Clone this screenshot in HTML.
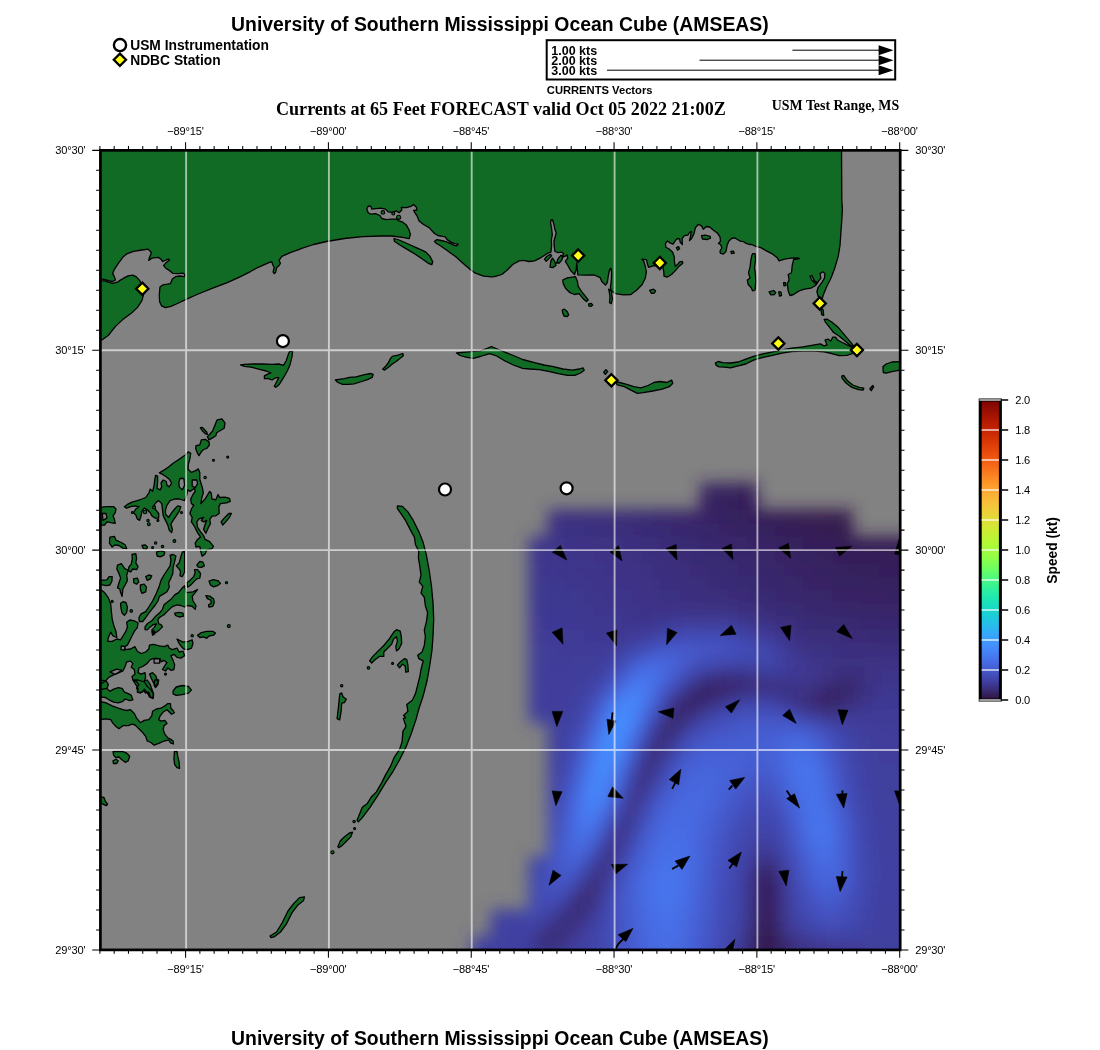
<!DOCTYPE html>
<html><head><meta charset="utf-8"><title>USM Ocean Cube</title>
<style>html,body{margin:0;padding:0;background:#fff}body{width:1100px;height:1050px;overflow:hidden;font-family:"Liberation Sans",sans-serif}svg{display:block;will-change:transform}text{font-family:"Liberation Sans",sans-serif;fill:#000}.sb{font-family:"Liberation Serif",serif;font-weight:bold}.b{font-weight:bold}</style></head><body>
<svg width="1100" height="1050" viewBox="0 0 1100 1050">
<defs><clipPath id="mapclip"><rect x="100.4" y="150.3" width="799.8" height="799.5"/></clipPath>
<filter id="blur" x="-10%" y="-10%" width="120%" height="120%"><feGaussianBlur stdDeviation="8"/></filter>
<linearGradient id="turbo" x1="0" y1="1" x2="0" y2="0">
<stop offset="0.0" stop-color="#30123b"/>
<stop offset="0.03125" stop-color="#392a73"/>
<stop offset="0.0625" stop-color="#4040a2"/>
<stop offset="0.09375" stop-color="#4456c7"/>
<stop offset="0.125" stop-color="#466be3"/>
<stop offset="0.15625" stop-color="#4680f6"/>
<stop offset="0.1875" stop-color="#4294ff"/>
<stop offset="0.21875" stop-color="#37a8fa"/>
<stop offset="0.25" stop-color="#28bceb"/>
<stop offset="0.28125" stop-color="#1ccdd8"/>
<stop offset="0.3125" stop-color="#18ddc2"/>
<stop offset="0.34375" stop-color="#1fe9af"/>
<stop offset="0.375" stop-color="#32f298"/>
<stop offset="0.40625" stop-color="#4ef97d"/>
<stop offset="0.4375" stop-color="#6dfe62"/>
<stop offset="0.46875" stop-color="#8bff4b"/>
<stop offset="0.5" stop-color="#a4fc3c"/>
<stop offset="0.53125" stop-color="#b7f735"/>
<stop offset="0.5625" stop-color="#cbed34"/>
<stop offset="0.59375" stop-color="#dde037"/>
<stop offset="0.625" stop-color="#ecd13a"/>
<stop offset="0.65625" stop-color="#f7c13a"/>
<stop offset="0.6875" stop-color="#fdae35"/>
<stop offset="0.71875" stop-color="#fe992c"/>
<stop offset="0.75" stop-color="#fb8122"/>
<stop offset="0.78125" stop-color="#f56918"/>
<stop offset="0.8125" stop-color="#ec530f"/>
<stop offset="0.84375" stop-color="#e14109"/>
<stop offset="0.875" stop-color="#d23105"/>
<stop offset="0.90625" stop-color="#c12302"/>
<stop offset="0.9375" stop-color="#ac1701"/>
<stop offset="0.96875" stop-color="#950d01"/>
<stop offset="1.0" stop-color="#7a0403"/>
</linearGradient></defs>
<text class="b" x="499.9" y="30.7" font-size="19.4" text-anchor="middle">University of Southern Mississippi Ocean Cube (AMSEAS)</text>
<text class="b" x="499.9" y="1045.3" font-size="19.4" text-anchor="middle">University of Southern Mississippi Ocean Cube (AMSEAS)</text>
<circle cx="120" cy="45.1" r="6.1" fill="#fff" stroke="#000" stroke-width="2.4"/>
<path d="M119.9 53.6 L126 59.7 L119.9 65.8 L113.8 59.7Z" fill="#ffff14" stroke="#000" stroke-width="2.3"/>
<text class="b" x="130.2" y="50.3" font-size="13.8">USM Instrumentation</text>
<text class="b" x="130.2" y="65.2" font-size="13.8">NDBC Station</text>
<rect x="546.7" y="40.2" width="348.5" height="39.3" fill="#fff" stroke="#000" stroke-width="2"/>
<text class="b" x="551.3" y="55.4" font-size="12.5">1.00 kts</text>
<path d="M792.4 50.2 H880" stroke="#000" stroke-width="1" fill="none"/>
<path d="M878.6 45.2 L893.5 50.2 L878.6 55.2Z" fill="#000"/>
<text class="b" x="551.3" y="65.4" font-size="12.5">2.00 kts</text>
<path d="M699.5 60.2 H880" stroke="#000" stroke-width="1" fill="none"/>
<path d="M878.6 55.2 L893.5 60.2 L878.6 65.2Z" fill="#000"/>
<text class="b" x="551.3" y="75.4" font-size="12.5">3.00 kts</text>
<path d="M607.0 70.2 H880" stroke="#000" stroke-width="1" fill="none"/>
<path d="M878.6 65.2 L893.5 70.2 L878.6 75.2Z" fill="#000"/>
<text class="b" x="546.8" y="93.9" font-size="11.2">CURRENTS Vectors</text>
<text class="sb" x="276.0" y="114.9" font-size="18.08">Currents at 65 Feet FORECAST valid Oct 05 2022 21:00Z</text>
<text class="sb" x="771.8" y="109.8" font-size="13.9">USM Test Range, MS</text>
<g clip-path="url(#mapclip)">
<rect x="100.4" y="150.35" width="799.8000000000001" height="799.55" fill="#828282"/>
<!--FIELD-->
<g filter="url(#blur)"><rect x="700.0" y="483.2" width="10.1" height="13.9" fill="#362262"/><rect x="709.5" y="483.2" width="10.1" height="13.9" fill="#362160"/><rect x="719.0" y="483.2" width="10.1" height="13.9" fill="#36215e"/><rect x="728.5" y="483.2" width="10.1" height="13.9" fill="#36205c"/><rect x="738.0" y="483.2" width="10.1" height="13.9" fill="#351f5a"/><rect x="747.6" y="483.2" width="10.1" height="13.9" fill="#351e58"/><rect x="700.0" y="496.5" width="10.1" height="13.9" fill="#372363"/><rect x="709.5" y="496.5" width="10.1" height="13.9" fill="#362261"/><rect x="719.0" y="496.5" width="10.1" height="13.9" fill="#36215f"/><rect x="728.5" y="496.5" width="10.1" height="13.9" fill="#36205d"/><rect x="738.0" y="496.5" width="10.1" height="13.9" fill="#351f5b"/><rect x="747.6" y="496.5" width="10.1" height="13.9" fill="#351e59"/><rect x="547.6" y="509.8" width="10.1" height="13.9" fill="#3b2f81"/><rect x="557.1" y="509.8" width="10.1" height="13.9" fill="#3b2f80"/><rect x="566.7" y="509.8" width="10.1" height="13.9" fill="#3b2f7f"/><rect x="576.2" y="509.8" width="10.1" height="13.9" fill="#3b2e7e"/><rect x="585.7" y="509.8" width="10.1" height="13.9" fill="#3a2e7c"/><rect x="595.2" y="509.8" width="10.1" height="13.9" fill="#3a2d7b"/><rect x="604.7" y="509.8" width="10.1" height="13.9" fill="#3a2d79"/><rect x="614.3" y="509.8" width="10.1" height="13.9" fill="#3a2c77"/><rect x="623.8" y="509.8" width="10.1" height="13.9" fill="#392b76"/><rect x="633.3" y="509.8" width="10.1" height="13.9" fill="#392a74"/><rect x="642.8" y="509.8" width="10.1" height="13.9" fill="#392972"/><rect x="652.3" y="509.8" width="10.1" height="13.9" fill="#382870"/><rect x="661.9" y="509.8" width="10.1" height="13.9" fill="#38276e"/><rect x="671.4" y="509.8" width="10.1" height="13.9" fill="#38266c"/><rect x="680.9" y="509.8" width="10.1" height="13.9" fill="#372569"/><rect x="690.4" y="509.8" width="10.1" height="13.9" fill="#372467"/><rect x="700.0" y="509.8" width="10.1" height="13.9" fill="#372465"/><rect x="709.5" y="509.8" width="10.1" height="13.9" fill="#372363"/><rect x="719.0" y="509.8" width="10.1" height="13.9" fill="#362261"/><rect x="728.5" y="509.8" width="10.1" height="13.9" fill="#36215f"/><rect x="738.0" y="509.8" width="10.1" height="13.9" fill="#36205d"/><rect x="747.6" y="509.8" width="10.1" height="13.9" fill="#351f5b"/><rect x="757.1" y="509.8" width="10.1" height="13.9" fill="#351f59"/><rect x="766.6" y="509.8" width="10.1" height="13.9" fill="#351e57"/><rect x="776.1" y="509.8" width="10.1" height="13.9" fill="#351d55"/><rect x="785.6" y="509.8" width="10.1" height="13.9" fill="#341c53"/><rect x="795.2" y="509.8" width="10.1" height="13.9" fill="#341b51"/><rect x="804.7" y="509.8" width="10.1" height="13.9" fill="#341a50"/><rect x="814.2" y="509.8" width="10.1" height="13.9" fill="#341a4e"/><rect x="823.7" y="509.8" width="10.1" height="13.9" fill="#341a4e"/><rect x="833.2" y="509.8" width="10.1" height="13.9" fill="#341a4e"/><rect x="842.8" y="509.8" width="10.1" height="13.9" fill="#341a4e"/><rect x="547.6" y="523.2" width="10.1" height="13.9" fill="#3c3185"/><rect x="557.1" y="523.2" width="10.1" height="13.9" fill="#3c3184"/><rect x="566.7" y="523.2" width="10.1" height="13.9" fill="#3b3083"/><rect x="576.2" y="523.2" width="10.1" height="13.9" fill="#3b3082"/><rect x="585.7" y="523.2" width="10.1" height="13.9" fill="#3b2f81"/><rect x="595.2" y="523.2" width="10.1" height="13.9" fill="#3b2f7f"/><rect x="604.7" y="523.2" width="10.1" height="13.9" fill="#3b2e7e"/><rect x="614.3" y="523.2" width="10.1" height="13.9" fill="#3a2e7c"/><rect x="623.8" y="523.2" width="10.1" height="13.9" fill="#3a2d7a"/><rect x="633.3" y="523.2" width="10.1" height="13.9" fill="#3a2c78"/><rect x="642.8" y="523.2" width="10.1" height="13.9" fill="#392b76"/><rect x="652.3" y="523.2" width="10.1" height="13.9" fill="#392a74"/><rect x="661.9" y="523.2" width="10.1" height="13.9" fill="#392972"/><rect x="671.4" y="523.2" width="10.1" height="13.9" fill="#382870"/><rect x="680.9" y="523.2" width="10.1" height="13.9" fill="#38276e"/><rect x="690.4" y="523.2" width="10.1" height="13.9" fill="#38266c"/><rect x="700.0" y="523.2" width="10.1" height="13.9" fill="#38266a"/><rect x="709.5" y="523.2" width="10.1" height="13.9" fill="#372568"/><rect x="719.0" y="523.2" width="10.1" height="13.9" fill="#372466"/><rect x="728.5" y="523.2" width="10.1" height="13.9" fill="#372364"/><rect x="738.0" y="523.2" width="10.1" height="13.9" fill="#362262"/><rect x="747.6" y="523.2" width="10.1" height="13.9" fill="#362160"/><rect x="757.1" y="523.2" width="10.1" height="13.9" fill="#36215e"/><rect x="766.6" y="523.2" width="10.1" height="13.9" fill="#36205c"/><rect x="776.1" y="523.2" width="10.1" height="13.9" fill="#351f5a"/><rect x="785.6" y="523.2" width="10.1" height="13.9" fill="#351e58"/><rect x="795.2" y="523.2" width="10.1" height="13.9" fill="#351d56"/><rect x="804.7" y="523.2" width="10.1" height="13.9" fill="#351d55"/><rect x="814.2" y="523.2" width="10.1" height="13.9" fill="#341c53"/><rect x="823.7" y="523.2" width="10.1" height="13.9" fill="#341b51"/><rect x="833.2" y="523.2" width="10.1" height="13.9" fill="#341b50"/><rect x="842.8" y="523.2" width="10.1" height="13.9" fill="#341a4f"/><rect x="528.6" y="536.5" width="10.1" height="13.9" fill="#3d358a"/><rect x="538.1" y="536.5" width="10.1" height="13.9" fill="#3d348a"/><rect x="547.6" y="536.5" width="10.1" height="13.9" fill="#3d3489"/><rect x="557.1" y="536.5" width="10.1" height="13.9" fill="#3d3489"/><rect x="566.7" y="536.5" width="10.1" height="13.9" fill="#3c3388"/><rect x="576.2" y="536.5" width="10.1" height="13.9" fill="#3c3387"/><rect x="585.7" y="536.5" width="10.1" height="13.9" fill="#3c3286"/><rect x="595.2" y="536.5" width="10.1" height="13.9" fill="#3c3185"/><rect x="604.7" y="536.5" width="10.1" height="13.9" fill="#3c3183"/><rect x="614.3" y="536.5" width="10.1" height="13.9" fill="#3b3082"/><rect x="623.8" y="536.5" width="10.1" height="13.9" fill="#3b2f80"/><rect x="633.3" y="536.5" width="10.1" height="13.9" fill="#3b2e7e"/><rect x="642.8" y="536.5" width="10.1" height="13.9" fill="#3a2e7b"/><rect x="652.3" y="536.5" width="10.1" height="13.9" fill="#3a2d79"/><rect x="661.9" y="536.5" width="10.1" height="13.9" fill="#3a2c77"/><rect x="671.4" y="536.5" width="10.1" height="13.9" fill="#392b75"/><rect x="680.9" y="536.5" width="10.1" height="13.9" fill="#392a73"/><rect x="690.4" y="536.5" width="10.1" height="13.9" fill="#392971"/><rect x="700.0" y="536.5" width="10.1" height="13.9" fill="#382870"/><rect x="709.5" y="536.5" width="10.1" height="13.9" fill="#38276e"/><rect x="719.0" y="536.5" width="10.1" height="13.9" fill="#38276c"/><rect x="728.5" y="536.5" width="10.1" height="13.9" fill="#38266a"/><rect x="738.0" y="536.5" width="10.1" height="13.9" fill="#372568"/><rect x="747.6" y="536.5" width="10.1" height="13.9" fill="#372467"/><rect x="757.1" y="536.5" width="10.1" height="13.9" fill="#372365"/><rect x="766.6" y="536.5" width="10.1" height="13.9" fill="#372363"/><rect x="776.1" y="536.5" width="10.1" height="13.9" fill="#362261"/><rect x="785.6" y="536.5" width="10.1" height="13.9" fill="#36215f"/><rect x="795.2" y="536.5" width="10.1" height="13.9" fill="#36205d"/><rect x="804.7" y="536.5" width="10.1" height="13.9" fill="#351f5b"/><rect x="814.2" y="536.5" width="10.1" height="13.9" fill="#351f59"/><rect x="823.7" y="536.5" width="10.1" height="13.9" fill="#351e58"/><rect x="833.2" y="536.5" width="10.1" height="13.9" fill="#351d57"/><rect x="842.8" y="536.5" width="10.1" height="13.9" fill="#351d55"/><rect x="852.3" y="536.5" width="10.1" height="13.9" fill="#351d55"/><rect x="861.8" y="536.5" width="10.1" height="13.9" fill="#341c54"/><rect x="871.3" y="536.5" width="10.1" height="13.9" fill="#341c53"/><rect x="880.9" y="536.5" width="10.1" height="13.9" fill="#341c53"/><rect x="890.4" y="536.5" width="10.1" height="13.9" fill="#341c53"/><rect x="899.9" y="536.5" width="10.1" height="13.9" fill="#341c52"/><rect x="909.4" y="536.5" width="10.1" height="13.9" fill="#341b52"/><rect x="918.9" y="536.5" width="10.1" height="13.9" fill="#341b52"/><rect x="928.5" y="536.5" width="10.1" height="13.9" fill="#341b52"/><rect x="938.0" y="536.5" width="10.1" height="13.9" fill="#341b52"/><rect x="528.6" y="549.8" width="10.1" height="13.9" fill="#3d368d"/><rect x="538.1" y="549.8" width="10.1" height="13.9" fill="#3d368d"/><rect x="547.6" y="549.8" width="10.1" height="13.9" fill="#3d368c"/><rect x="557.1" y="549.8" width="10.1" height="13.9" fill="#3d358b"/><rect x="566.7" y="549.8" width="10.1" height="13.9" fill="#3d358b"/><rect x="576.2" y="549.8" width="10.1" height="13.9" fill="#3d348a"/><rect x="585.7" y="549.8" width="10.1" height="13.9" fill="#3d3489"/><rect x="595.2" y="549.8" width="10.1" height="13.9" fill="#3c3388"/><rect x="604.7" y="549.8" width="10.1" height="13.9" fill="#3c3287"/><rect x="614.3" y="549.8" width="10.1" height="13.9" fill="#3c3285"/><rect x="623.8" y="549.8" width="10.1" height="13.9" fill="#3c3183"/><rect x="633.3" y="549.8" width="10.1" height="13.9" fill="#3b3082"/><rect x="642.8" y="549.8" width="10.1" height="13.9" fill="#3b2f80"/><rect x="652.3" y="549.8" width="10.1" height="13.9" fill="#3b2e7e"/><rect x="661.9" y="549.8" width="10.1" height="13.9" fill="#3a2e7b"/><rect x="671.4" y="549.8" width="10.1" height="13.9" fill="#3a2d79"/><rect x="680.9" y="549.8" width="10.1" height="13.9" fill="#3a2c77"/><rect x="690.4" y="549.8" width="10.1" height="13.9" fill="#392b75"/><rect x="700.0" y="549.8" width="10.1" height="13.9" fill="#392a74"/><rect x="709.5" y="549.8" width="10.1" height="13.9" fill="#392972"/><rect x="719.0" y="549.8" width="10.1" height="13.9" fill="#392970"/><rect x="728.5" y="549.8" width="10.1" height="13.9" fill="#38286f"/><rect x="738.0" y="549.8" width="10.1" height="13.9" fill="#38276d"/><rect x="747.6" y="549.8" width="10.1" height="13.9" fill="#38266b"/><rect x="757.1" y="549.8" width="10.1" height="13.9" fill="#372569"/><rect x="766.6" y="549.8" width="10.1" height="13.9" fill="#372568"/><rect x="776.1" y="549.8" width="10.1" height="13.9" fill="#372466"/><rect x="785.6" y="549.8" width="10.1" height="13.9" fill="#372364"/><rect x="795.2" y="549.8" width="10.1" height="13.9" fill="#362262"/><rect x="804.7" y="549.8" width="10.1" height="13.9" fill="#362160"/><rect x="814.2" y="549.8" width="10.1" height="13.9" fill="#36215e"/><rect x="823.7" y="549.8" width="10.1" height="13.9" fill="#36205d"/><rect x="833.2" y="549.8" width="10.1" height="13.9" fill="#351f5b"/><rect x="842.8" y="549.8" width="10.1" height="13.9" fill="#351f5a"/><rect x="852.3" y="549.8" width="10.1" height="13.9" fill="#351f5a"/><rect x="861.8" y="549.8" width="10.1" height="13.9" fill="#351e59"/><rect x="871.3" y="549.8" width="10.1" height="13.9" fill="#351e58"/><rect x="880.9" y="549.8" width="10.1" height="13.9" fill="#351e58"/><rect x="890.4" y="549.8" width="10.1" height="13.9" fill="#351e57"/><rect x="899.9" y="549.8" width="10.1" height="13.9" fill="#351e57"/><rect x="909.4" y="549.8" width="10.1" height="13.9" fill="#351e57"/><rect x="918.9" y="549.8" width="10.1" height="13.9" fill="#351e57"/><rect x="928.5" y="549.8" width="10.1" height="13.9" fill="#351d57"/><rect x="938.0" y="549.8" width="10.1" height="13.9" fill="#351d57"/><rect x="528.6" y="563.2" width="10.1" height="13.9" fill="#3e378f"/><rect x="538.1" y="563.2" width="10.1" height="13.9" fill="#3e378f"/><rect x="547.6" y="563.2" width="10.1" height="13.9" fill="#3d368e"/><rect x="557.1" y="563.2" width="10.1" height="13.9" fill="#3d368d"/><rect x="566.7" y="563.2" width="10.1" height="13.9" fill="#3d368c"/><rect x="576.2" y="563.2" width="10.1" height="13.9" fill="#3d358b"/><rect x="585.7" y="563.2" width="10.1" height="13.9" fill="#3d358a"/><rect x="595.2" y="563.2" width="10.1" height="13.9" fill="#3d3489"/><rect x="604.7" y="563.2" width="10.1" height="13.9" fill="#3c3388"/><rect x="614.3" y="563.2" width="10.1" height="13.9" fill="#3c3387"/><rect x="623.8" y="563.2" width="10.1" height="13.9" fill="#3c3286"/><rect x="633.3" y="563.2" width="10.1" height="13.9" fill="#3c3184"/><rect x="642.8" y="563.2" width="10.1" height="13.9" fill="#3b3082"/><rect x="652.3" y="563.2" width="10.1" height="13.9" fill="#3b2f80"/><rect x="661.9" y="563.2" width="10.1" height="13.9" fill="#3b2e7e"/><rect x="671.4" y="563.2" width="10.1" height="13.9" fill="#3a2e7c"/><rect x="680.9" y="563.2" width="10.1" height="13.9" fill="#3a2d7a"/><rect x="690.4" y="563.2" width="10.1" height="13.9" fill="#3a2c78"/><rect x="700.0" y="563.2" width="10.1" height="13.9" fill="#3a2c76"/><rect x="709.5" y="563.2" width="10.1" height="13.9" fill="#392b74"/><rect x="719.0" y="563.2" width="10.1" height="13.9" fill="#392a73"/><rect x="728.5" y="563.2" width="10.1" height="13.9" fill="#392971"/><rect x="738.0" y="563.2" width="10.1" height="13.9" fill="#382870"/><rect x="747.6" y="563.2" width="10.1" height="13.9" fill="#38286e"/><rect x="757.1" y="563.2" width="10.1" height="13.9" fill="#38276d"/><rect x="766.6" y="563.2" width="10.1" height="13.9" fill="#38266b"/><rect x="776.1" y="563.2" width="10.1" height="13.9" fill="#372569"/><rect x="785.6" y="563.2" width="10.1" height="13.9" fill="#372467"/><rect x="795.2" y="563.2" width="10.1" height="13.9" fill="#372465"/><rect x="804.7" y="563.2" width="10.1" height="13.9" fill="#372363"/><rect x="814.2" y="563.2" width="10.1" height="13.9" fill="#362262"/><rect x="823.7" y="563.2" width="10.1" height="13.9" fill="#362160"/><rect x="833.2" y="563.2" width="10.1" height="13.9" fill="#36215f"/><rect x="842.8" y="563.2" width="10.1" height="13.9" fill="#36205e"/><rect x="852.3" y="563.2" width="10.1" height="13.9" fill="#36205d"/><rect x="861.8" y="563.2" width="10.1" height="13.9" fill="#36205c"/><rect x="871.3" y="563.2" width="10.1" height="13.9" fill="#36205c"/><rect x="880.9" y="563.2" width="10.1" height="13.9" fill="#351f5b"/><rect x="890.4" y="563.2" width="10.1" height="13.9" fill="#351f5b"/><rect x="899.9" y="563.2" width="10.1" height="13.9" fill="#351f5b"/><rect x="909.4" y="563.2" width="10.1" height="13.9" fill="#351f5a"/><rect x="918.9" y="563.2" width="10.1" height="13.9" fill="#351f5a"/><rect x="928.5" y="563.2" width="10.1" height="13.9" fill="#351f5a"/><rect x="938.0" y="563.2" width="10.1" height="13.9" fill="#351f5a"/><rect x="528.6" y="576.5" width="10.1" height="13.9" fill="#3e3890"/><rect x="538.1" y="576.5" width="10.1" height="13.9" fill="#3e3790"/><rect x="547.6" y="576.5" width="10.1" height="13.9" fill="#3e378f"/><rect x="557.1" y="576.5" width="10.1" height="13.9" fill="#3e378e"/><rect x="566.7" y="576.5" width="10.1" height="13.9" fill="#3d368e"/><rect x="576.2" y="576.5" width="10.1" height="13.9" fill="#3d368d"/><rect x="585.7" y="576.5" width="10.1" height="13.9" fill="#3d358c"/><rect x="595.2" y="576.5" width="10.1" height="13.9" fill="#3d358b"/><rect x="604.7" y="576.5" width="10.1" height="13.9" fill="#3d3489"/><rect x="614.3" y="576.5" width="10.1" height="13.9" fill="#3c3388"/><rect x="623.8" y="576.5" width="10.1" height="13.9" fill="#3c3387"/><rect x="633.3" y="576.5" width="10.1" height="13.9" fill="#3c3285"/><rect x="642.8" y="576.5" width="10.1" height="13.9" fill="#3c3184"/><rect x="652.3" y="576.5" width="10.1" height="13.9" fill="#3b3082"/><rect x="661.9" y="576.5" width="10.1" height="13.9" fill="#3b2f80"/><rect x="671.4" y="576.5" width="10.1" height="13.9" fill="#3b2e7e"/><rect x="680.9" y="576.5" width="10.1" height="13.9" fill="#3a2e7c"/><rect x="690.4" y="576.5" width="10.1" height="13.9" fill="#3a2d7a"/><rect x="700.0" y="576.5" width="10.1" height="13.9" fill="#3a2d78"/><rect x="709.5" y="576.5" width="10.1" height="13.9" fill="#3a2c77"/><rect x="719.0" y="576.5" width="10.1" height="13.9" fill="#392b75"/><rect x="728.5" y="576.5" width="10.1" height="13.9" fill="#392a74"/><rect x="738.0" y="576.5" width="10.1" height="13.9" fill="#392a72"/><rect x="747.6" y="576.5" width="10.1" height="13.9" fill="#392971"/><rect x="757.1" y="576.5" width="10.1" height="13.9" fill="#38286f"/><rect x="766.6" y="576.5" width="10.1" height="13.9" fill="#38276e"/><rect x="776.1" y="576.5" width="10.1" height="13.9" fill="#38276c"/><rect x="785.6" y="576.5" width="10.1" height="13.9" fill="#38266a"/><rect x="795.2" y="576.5" width="10.1" height="13.9" fill="#372568"/><rect x="804.7" y="576.5" width="10.1" height="13.9" fill="#372467"/><rect x="814.2" y="576.5" width="10.1" height="13.9" fill="#372465"/><rect x="823.7" y="576.5" width="10.1" height="13.9" fill="#372363"/><rect x="833.2" y="576.5" width="10.1" height="13.9" fill="#362262"/><rect x="842.8" y="576.5" width="10.1" height="13.9" fill="#362261"/><rect x="852.3" y="576.5" width="10.1" height="13.9" fill="#362260"/><rect x="861.8" y="576.5" width="10.1" height="13.9" fill="#362160"/><rect x="871.3" y="576.5" width="10.1" height="13.9" fill="#36215f"/><rect x="880.9" y="576.5" width="10.1" height="13.9" fill="#36215f"/><rect x="890.4" y="576.5" width="10.1" height="13.9" fill="#36215e"/><rect x="899.9" y="576.5" width="10.1" height="13.9" fill="#36215e"/><rect x="909.4" y="576.5" width="10.1" height="13.9" fill="#36205e"/><rect x="918.9" y="576.5" width="10.1" height="13.9" fill="#36205e"/><rect x="928.5" y="576.5" width="10.1" height="13.9" fill="#36205e"/><rect x="938.0" y="576.5" width="10.1" height="13.9" fill="#36205d"/><rect x="528.6" y="589.8" width="10.1" height="13.9" fill="#3e3891"/><rect x="538.1" y="589.8" width="10.1" height="13.9" fill="#3e3891"/><rect x="547.6" y="589.8" width="10.1" height="13.9" fill="#3e3890"/><rect x="557.1" y="589.8" width="10.1" height="13.9" fill="#3e3790"/><rect x="566.7" y="589.8" width="10.1" height="13.9" fill="#3e378f"/><rect x="576.2" y="589.8" width="10.1" height="13.9" fill="#3e378e"/><rect x="585.7" y="589.8" width="10.1" height="13.9" fill="#3d368d"/><rect x="595.2" y="589.8" width="10.1" height="13.9" fill="#3d358c"/><rect x="604.7" y="589.8" width="10.1" height="13.9" fill="#3d358b"/><rect x="614.3" y="589.8" width="10.1" height="13.9" fill="#3d348a"/><rect x="623.8" y="589.8" width="10.1" height="13.9" fill="#3d3489"/><rect x="633.3" y="589.8" width="10.1" height="13.9" fill="#3c3387"/><rect x="642.8" y="589.8" width="10.1" height="13.9" fill="#3c3286"/><rect x="652.3" y="589.8" width="10.1" height="13.9" fill="#3c3184"/><rect x="661.9" y="589.8" width="10.1" height="13.9" fill="#3b3083"/><rect x="671.4" y="589.8" width="10.1" height="13.9" fill="#3b3081"/><rect x="680.9" y="589.8" width="10.1" height="13.9" fill="#3b2f80"/><rect x="690.4" y="589.8" width="10.1" height="13.9" fill="#3b2e7e"/><rect x="700.0" y="589.8" width="10.1" height="13.9" fill="#3a2e7c"/><rect x="709.5" y="589.8" width="10.1" height="13.9" fill="#3a2d7b"/><rect x="719.0" y="589.8" width="10.1" height="13.9" fill="#3a2d79"/><rect x="728.5" y="589.8" width="10.1" height="13.9" fill="#3a2c78"/><rect x="738.0" y="589.8" width="10.1" height="13.9" fill="#3a2c76"/><rect x="747.6" y="589.8" width="10.1" height="13.9" fill="#392b74"/><rect x="757.1" y="589.8" width="10.1" height="13.9" fill="#392a73"/><rect x="766.6" y="589.8" width="10.1" height="13.9" fill="#392971"/><rect x="776.1" y="589.8" width="10.1" height="13.9" fill="#382870"/><rect x="785.6" y="589.8" width="10.1" height="13.9" fill="#38286e"/><rect x="795.2" y="589.8" width="10.1" height="13.9" fill="#38276c"/><rect x="804.7" y="589.8" width="10.1" height="13.9" fill="#38266b"/><rect x="814.2" y="589.8" width="10.1" height="13.9" fill="#372569"/><rect x="823.7" y="589.8" width="10.1" height="13.9" fill="#372568"/><rect x="833.2" y="589.8" width="10.1" height="13.9" fill="#372466"/><rect x="842.8" y="589.8" width="10.1" height="13.9" fill="#372465"/><rect x="852.3" y="589.8" width="10.1" height="13.9" fill="#372364"/><rect x="861.8" y="589.8" width="10.1" height="13.9" fill="#372364"/><rect x="871.3" y="589.8" width="10.1" height="13.9" fill="#372363"/><rect x="880.9" y="589.8" width="10.1" height="13.9" fill="#372363"/><rect x="890.4" y="589.8" width="10.1" height="13.9" fill="#362262"/><rect x="899.9" y="589.8" width="10.1" height="13.9" fill="#362262"/><rect x="909.4" y="589.8" width="10.1" height="13.9" fill="#362262"/><rect x="918.9" y="589.8" width="10.1" height="13.9" fill="#362262"/><rect x="928.5" y="589.8" width="10.1" height="13.9" fill="#362262"/><rect x="938.0" y="589.8" width="10.1" height="13.9" fill="#362262"/><rect x="528.6" y="603.1" width="10.1" height="13.9" fill="#3e3993"/><rect x="538.1" y="603.1" width="10.1" height="13.9" fill="#3e3992"/><rect x="547.6" y="603.1" width="10.1" height="13.9" fill="#3e3892"/><rect x="557.1" y="603.1" width="10.1" height="13.9" fill="#3e3891"/><rect x="566.7" y="603.1" width="10.1" height="13.9" fill="#3e3891"/><rect x="576.2" y="603.1" width="10.1" height="13.9" fill="#3e3790"/><rect x="585.7" y="603.1" width="10.1" height="13.9" fill="#3e378f"/><rect x="595.2" y="603.1" width="10.1" height="13.9" fill="#3d368e"/><rect x="604.7" y="603.1" width="10.1" height="13.9" fill="#3d368d"/><rect x="614.3" y="603.1" width="10.1" height="13.9" fill="#3d358c"/><rect x="623.8" y="603.1" width="10.1" height="13.9" fill="#3d358b"/><rect x="633.3" y="603.1" width="10.1" height="13.9" fill="#3d3489"/><rect x="642.8" y="603.1" width="10.1" height="13.9" fill="#3c3388"/><rect x="652.3" y="603.1" width="10.1" height="13.9" fill="#3c3388"/><rect x="661.9" y="603.1" width="10.1" height="13.9" fill="#3c3387"/><rect x="671.4" y="603.1" width="10.1" height="13.9" fill="#3c3387"/><rect x="680.9" y="603.1" width="10.1" height="13.9" fill="#3c3286"/><rect x="690.4" y="603.1" width="10.1" height="13.9" fill="#3c3285"/><rect x="700.0" y="603.1" width="10.1" height="13.9" fill="#3c3184"/><rect x="709.5" y="603.1" width="10.1" height="13.9" fill="#3c3184"/><rect x="719.0" y="603.1" width="10.1" height="13.9" fill="#3c3183"/><rect x="728.5" y="603.1" width="10.1" height="13.9" fill="#3b3081"/><rect x="738.0" y="603.1" width="10.1" height="13.9" fill="#3b2f7e"/><rect x="747.6" y="603.1" width="10.1" height="13.9" fill="#3a2e7c"/><rect x="757.1" y="603.1" width="10.1" height="13.9" fill="#3a2d79"/><rect x="766.6" y="603.1" width="10.1" height="13.9" fill="#3a2c77"/><rect x="776.1" y="603.1" width="10.1" height="13.9" fill="#392b75"/><rect x="785.6" y="603.1" width="10.1" height="13.9" fill="#392a73"/><rect x="795.2" y="603.1" width="10.1" height="13.9" fill="#392971"/><rect x="804.7" y="603.1" width="10.1" height="13.9" fill="#382870"/><rect x="814.2" y="603.1" width="10.1" height="13.9" fill="#38286e"/><rect x="823.7" y="603.1" width="10.1" height="13.9" fill="#38276d"/><rect x="833.2" y="603.1" width="10.1" height="13.9" fill="#38266c"/><rect x="842.8" y="603.1" width="10.1" height="13.9" fill="#38266b"/><rect x="852.3" y="603.1" width="10.1" height="13.9" fill="#38266a"/><rect x="861.8" y="603.1" width="10.1" height="13.9" fill="#372569"/><rect x="871.3" y="603.1" width="10.1" height="13.9" fill="#372569"/><rect x="880.9" y="603.1" width="10.1" height="13.9" fill="#372568"/><rect x="890.4" y="603.1" width="10.1" height="13.9" fill="#372568"/><rect x="899.9" y="603.1" width="10.1" height="13.9" fill="#372568"/><rect x="909.4" y="603.1" width="10.1" height="13.9" fill="#372568"/><rect x="918.9" y="603.1" width="10.1" height="13.9" fill="#372567"/><rect x="928.5" y="603.1" width="10.1" height="13.9" fill="#372567"/><rect x="938.0" y="603.1" width="10.1" height="13.9" fill="#372567"/><rect x="528.6" y="616.5" width="10.1" height="13.9" fill="#3f3a95"/><rect x="538.1" y="616.5" width="10.1" height="13.9" fill="#3f3a94"/><rect x="547.6" y="616.5" width="10.1" height="13.9" fill="#3e3994"/><rect x="557.1" y="616.5" width="10.1" height="13.9" fill="#3e3993"/><rect x="566.7" y="616.5" width="10.1" height="13.9" fill="#3e3993"/><rect x="576.2" y="616.5" width="10.1" height="13.9" fill="#3e3992"/><rect x="585.7" y="616.5" width="10.1" height="13.9" fill="#3e3891"/><rect x="595.2" y="616.5" width="10.1" height="13.9" fill="#3e3890"/><rect x="604.7" y="616.5" width="10.1" height="13.9" fill="#3e3790"/><rect x="614.3" y="616.5" width="10.1" height="13.9" fill="#3e378f"/><rect x="623.8" y="616.5" width="10.1" height="13.9" fill="#3d368e"/><rect x="633.3" y="616.5" width="10.1" height="13.9" fill="#3d368d"/><rect x="642.8" y="616.5" width="10.1" height="13.9" fill="#3d368e"/><rect x="652.3" y="616.5" width="10.1" height="13.9" fill="#3e378f"/><rect x="661.9" y="616.5" width="10.1" height="13.9" fill="#3e3993"/><rect x="671.4" y="616.5" width="10.1" height="13.9" fill="#3f3b97"/><rect x="680.9" y="616.5" width="10.1" height="13.9" fill="#3f3c98"/><rect x="690.4" y="616.5" width="10.1" height="13.9" fill="#3f3c98"/><rect x="700.0" y="616.5" width="10.1" height="13.9" fill="#3f3c98"/><rect x="709.5" y="616.5" width="10.1" height="13.9" fill="#3f3c98"/><rect x="719.0" y="616.5" width="10.1" height="13.9" fill="#3f3c99"/><rect x="728.5" y="616.5" width="10.1" height="13.9" fill="#3f3a96"/><rect x="738.0" y="616.5" width="10.1" height="13.9" fill="#3e378f"/><rect x="747.6" y="616.5" width="10.1" height="13.9" fill="#3d358b"/><rect x="757.1" y="616.5" width="10.1" height="13.9" fill="#3c3387"/><rect x="766.6" y="616.5" width="10.1" height="13.9" fill="#3c3183"/><rect x="776.1" y="616.5" width="10.1" height="13.9" fill="#3b2f7f"/><rect x="785.6" y="616.5" width="10.1" height="13.9" fill="#3a2e7b"/><rect x="795.2" y="616.5" width="10.1" height="13.9" fill="#3a2c78"/><rect x="804.7" y="616.5" width="10.1" height="13.9" fill="#392b75"/><rect x="814.2" y="616.5" width="10.1" height="13.9" fill="#392a74"/><rect x="823.7" y="616.5" width="10.1" height="13.9" fill="#392a73"/><rect x="833.2" y="616.5" width="10.1" height="13.9" fill="#392972"/><rect x="842.8" y="616.5" width="10.1" height="13.9" fill="#392971"/><rect x="852.3" y="616.5" width="10.1" height="13.9" fill="#392970"/><rect x="861.8" y="616.5" width="10.1" height="13.9" fill="#382870"/><rect x="871.3" y="616.5" width="10.1" height="13.9" fill="#38286f"/><rect x="880.9" y="616.5" width="10.1" height="13.9" fill="#38286f"/><rect x="890.4" y="616.5" width="10.1" height="13.9" fill="#38286f"/><rect x="899.9" y="616.5" width="10.1" height="13.9" fill="#38286e"/><rect x="909.4" y="616.5" width="10.1" height="13.9" fill="#38286e"/><rect x="918.9" y="616.5" width="10.1" height="13.9" fill="#38286e"/><rect x="928.5" y="616.5" width="10.1" height="13.9" fill="#38276e"/><rect x="938.0" y="616.5" width="10.1" height="13.9" fill="#38276e"/><rect x="528.6" y="629.8" width="10.1" height="13.9" fill="#3f3b97"/><rect x="538.1" y="629.8" width="10.1" height="13.9" fill="#3f3b96"/><rect x="547.6" y="629.8" width="10.1" height="13.9" fill="#3f3a96"/><rect x="557.1" y="629.8" width="10.1" height="13.9" fill="#3f3a96"/><rect x="566.7" y="629.8" width="10.1" height="13.9" fill="#3f3a95"/><rect x="576.2" y="629.8" width="10.1" height="13.9" fill="#3f3a94"/><rect x="585.7" y="629.8" width="10.1" height="13.9" fill="#3e3994"/><rect x="595.2" y="629.8" width="10.1" height="13.9" fill="#3e3993"/><rect x="604.7" y="629.8" width="10.1" height="13.9" fill="#3e3993"/><rect x="614.3" y="629.8" width="10.1" height="13.9" fill="#3e3993"/><rect x="623.8" y="629.8" width="10.1" height="13.9" fill="#3f3a95"/><rect x="633.3" y="629.8" width="10.1" height="13.9" fill="#3f3b98"/><rect x="642.8" y="629.8" width="10.1" height="13.9" fill="#3f3e9c"/><rect x="652.3" y="629.8" width="10.1" height="13.9" fill="#4041a4"/><rect x="661.9" y="629.8" width="10.1" height="13.9" fill="#4146ac"/><rect x="671.4" y="629.8" width="10.1" height="13.9" fill="#424ab3"/><rect x="680.9" y="629.8" width="10.1" height="13.9" fill="#424cb7"/><rect x="690.4" y="629.8" width="10.1" height="13.9" fill="#424cb6"/><rect x="700.0" y="629.8" width="10.1" height="13.9" fill="#424cb6"/><rect x="709.5" y="629.8" width="10.1" height="13.9" fill="#424bb5"/><rect x="719.0" y="629.8" width="10.1" height="13.9" fill="#424bb5"/><rect x="728.5" y="629.8" width="10.1" height="13.9" fill="#4249b1"/><rect x="738.0" y="629.8" width="10.1" height="13.9" fill="#4145aa"/><rect x="747.6" y="629.8" width="10.1" height="13.9" fill="#4041a4"/><rect x="757.1" y="629.8" width="10.1" height="13.9" fill="#3f3e9d"/><rect x="766.6" y="629.8" width="10.1" height="13.9" fill="#3f3b97"/><rect x="776.1" y="629.8" width="10.1" height="13.9" fill="#3d368e"/><rect x="785.6" y="629.8" width="10.1" height="13.9" fill="#3c3286"/><rect x="795.2" y="629.8" width="10.1" height="13.9" fill="#3b2f81"/><rect x="804.7" y="629.8" width="10.1" height="13.9" fill="#3b2e7d"/><rect x="814.2" y="629.8" width="10.1" height="13.9" fill="#3a2d7b"/><rect x="823.7" y="629.8" width="10.1" height="13.9" fill="#3a2d79"/><rect x="833.2" y="629.8" width="10.1" height="13.9" fill="#3a2d78"/><rect x="842.8" y="629.8" width="10.1" height="13.9" fill="#3a2c77"/><rect x="852.3" y="629.8" width="10.1" height="13.9" fill="#3a2c77"/><rect x="861.8" y="629.8" width="10.1" height="13.9" fill="#3a2c76"/><rect x="871.3" y="629.8" width="10.1" height="13.9" fill="#392b76"/><rect x="880.9" y="629.8" width="10.1" height="13.9" fill="#392b75"/><rect x="890.4" y="629.8" width="10.1" height="13.9" fill="#392b75"/><rect x="899.9" y="629.8" width="10.1" height="13.9" fill="#392b75"/><rect x="909.4" y="629.8" width="10.1" height="13.9" fill="#392b75"/><rect x="918.9" y="629.8" width="10.1" height="13.9" fill="#392b75"/><rect x="928.5" y="629.8" width="10.1" height="13.9" fill="#392b75"/><rect x="938.0" y="629.8" width="10.1" height="13.9" fill="#392b75"/><rect x="528.6" y="643.1" width="10.1" height="13.9" fill="#3f3c98"/><rect x="538.1" y="643.1" width="10.1" height="13.9" fill="#3f3c98"/><rect x="547.6" y="643.1" width="10.1" height="13.9" fill="#3f3c98"/><rect x="557.1" y="643.1" width="10.1" height="13.9" fill="#3f3b98"/><rect x="566.7" y="643.1" width="10.1" height="13.9" fill="#3f3b97"/><rect x="576.2" y="643.1" width="10.1" height="13.9" fill="#3f3b97"/><rect x="585.7" y="643.1" width="10.1" height="13.9" fill="#3f3b97"/><rect x="595.2" y="643.1" width="10.1" height="13.9" fill="#3f3b97"/><rect x="604.7" y="643.1" width="10.1" height="13.9" fill="#3f3c98"/><rect x="614.3" y="643.1" width="10.1" height="13.9" fill="#3f3e9c"/><rect x="623.8" y="643.1" width="10.1" height="13.9" fill="#4142a6"/><rect x="633.3" y="643.1" width="10.1" height="13.9" fill="#4248af"/><rect x="642.8" y="643.1" width="10.1" height="13.9" fill="#434eba"/><rect x="652.3" y="643.1" width="10.1" height="13.9" fill="#4455c5"/><rect x="661.9" y="643.1" width="10.1" height="13.9" fill="#4559cc"/><rect x="671.4" y="643.1" width="10.1" height="13.9" fill="#455bce"/><rect x="680.9" y="643.1" width="10.1" height="13.9" fill="#455acc"/><rect x="690.4" y="643.1" width="10.1" height="13.9" fill="#4558c9"/><rect x="700.0" y="643.1" width="10.1" height="13.9" fill="#4456c7"/><rect x="709.5" y="643.1" width="10.1" height="13.9" fill="#4454c4"/><rect x="719.0" y="643.1" width="10.1" height="13.9" fill="#4453c2"/><rect x="728.5" y="643.1" width="10.1" height="13.9" fill="#4450be"/><rect x="738.0" y="643.1" width="10.1" height="13.9" fill="#434eba"/><rect x="747.6" y="643.1" width="10.1" height="13.9" fill="#424bb5"/><rect x="757.1" y="643.1" width="10.1" height="13.9" fill="#4248af"/><rect x="766.6" y="643.1" width="10.1" height="13.9" fill="#4144a9"/><rect x="776.1" y="643.1" width="10.1" height="13.9" fill="#3f3e9d"/><rect x="785.6" y="643.1" width="10.1" height="13.9" fill="#3e3892"/><rect x="795.2" y="643.1" width="10.1" height="13.9" fill="#3d3489"/><rect x="804.7" y="643.1" width="10.1" height="13.9" fill="#3c3285"/><rect x="814.2" y="643.1" width="10.1" height="13.9" fill="#3b3083"/><rect x="823.7" y="643.1" width="10.1" height="13.9" fill="#3b3081"/><rect x="833.2" y="643.1" width="10.1" height="13.9" fill="#3b2f80"/><rect x="842.8" y="643.1" width="10.1" height="13.9" fill="#3b2f7f"/><rect x="852.3" y="643.1" width="10.1" height="13.9" fill="#3b2e7e"/><rect x="861.8" y="643.1" width="10.1" height="13.9" fill="#3b2e7e"/><rect x="871.3" y="643.1" width="10.1" height="13.9" fill="#3b2e7d"/><rect x="880.9" y="643.1" width="10.1" height="13.9" fill="#3b2e7d"/><rect x="890.4" y="643.1" width="10.1" height="13.9" fill="#3b2e7d"/><rect x="899.9" y="643.1" width="10.1" height="13.9" fill="#3b2e7d"/><rect x="909.4" y="643.1" width="10.1" height="13.9" fill="#3a2e7c"/><rect x="918.9" y="643.1" width="10.1" height="13.9" fill="#3a2e7c"/><rect x="928.5" y="643.1" width="10.1" height="13.9" fill="#3a2e7c"/><rect x="938.0" y="643.1" width="10.1" height="13.9" fill="#3a2e7c"/><rect x="528.6" y="656.4" width="10.1" height="13.9" fill="#3f3d9a"/><rect x="538.1" y="656.4" width="10.1" height="13.9" fill="#3f3d9a"/><rect x="547.6" y="656.4" width="10.1" height="13.9" fill="#3f3d9a"/><rect x="557.1" y="656.4" width="10.1" height="13.9" fill="#3f3c99"/><rect x="566.7" y="656.4" width="10.1" height="13.9" fill="#3f3c99"/><rect x="576.2" y="656.4" width="10.1" height="13.9" fill="#3f3c99"/><rect x="585.7" y="656.4" width="10.1" height="13.9" fill="#3f3c99"/><rect x="595.2" y="656.4" width="10.1" height="13.9" fill="#3f3d9b"/><rect x="604.7" y="656.4" width="10.1" height="13.9" fill="#403fa0"/><rect x="614.3" y="656.4" width="10.1" height="13.9" fill="#4146ad"/><rect x="623.8" y="656.4" width="10.1" height="13.9" fill="#4452c0"/><rect x="633.3" y="656.4" width="10.1" height="13.9" fill="#455fd4"/><rect x="642.8" y="656.4" width="10.1" height="13.9" fill="#4666dd"/><rect x="652.3" y="656.4" width="10.1" height="13.9" fill="#4669e0"/><rect x="661.9" y="656.4" width="10.1" height="13.9" fill="#4668df"/><rect x="671.4" y="656.4" width="10.1" height="13.9" fill="#4662d7"/><rect x="680.9" y="656.4" width="10.1" height="13.9" fill="#4559cb"/><rect x="690.4" y="656.4" width="10.1" height="13.9" fill="#4452c0"/><rect x="700.0" y="656.4" width="10.1" height="13.9" fill="#434eb9"/><rect x="709.5" y="656.4" width="10.1" height="13.9" fill="#424bb4"/><rect x="719.0" y="656.4" width="10.1" height="13.9" fill="#4249b0"/><rect x="728.5" y="656.4" width="10.1" height="13.9" fill="#4147ae"/><rect x="738.0" y="656.4" width="10.1" height="13.9" fill="#4146ac"/><rect x="747.6" y="656.4" width="10.1" height="13.9" fill="#4147ad"/><rect x="757.1" y="656.4" width="10.1" height="13.9" fill="#4248af"/><rect x="766.6" y="656.4" width="10.1" height="13.9" fill="#4146ac"/><rect x="776.1" y="656.4" width="10.1" height="13.9" fill="#4041a4"/><rect x="785.6" y="656.4" width="10.1" height="13.9" fill="#3f3d9a"/><rect x="795.2" y="656.4" width="10.1" height="13.9" fill="#3e3992"/><rect x="804.7" y="656.4" width="10.1" height="13.9" fill="#3d368d"/><rect x="814.2" y="656.4" width="10.1" height="13.9" fill="#3d348a"/><rect x="823.7" y="656.4" width="10.1" height="13.9" fill="#3c3387"/><rect x="833.2" y="656.4" width="10.1" height="13.9" fill="#3c3285"/><rect x="842.8" y="656.4" width="10.1" height="13.9" fill="#3b3083"/><rect x="852.3" y="656.4" width="10.1" height="13.9" fill="#3b3083"/><rect x="861.8" y="656.4" width="10.1" height="13.9" fill="#3c3184"/><rect x="871.3" y="656.4" width="10.1" height="13.9" fill="#3c3184"/><rect x="880.9" y="656.4" width="10.1" height="13.9" fill="#3c3184"/><rect x="890.4" y="656.4" width="10.1" height="13.9" fill="#3c3184"/><rect x="899.9" y="656.4" width="10.1" height="13.9" fill="#3c3184"/><rect x="909.4" y="656.4" width="10.1" height="13.9" fill="#3c3184"/><rect x="918.9" y="656.4" width="10.1" height="13.9" fill="#3c3184"/><rect x="928.5" y="656.4" width="10.1" height="13.9" fill="#3c3184"/><rect x="938.0" y="656.4" width="10.1" height="13.9" fill="#3c3184"/><rect x="528.6" y="669.8" width="10.1" height="13.9" fill="#3f3e9b"/><rect x="538.1" y="669.8" width="10.1" height="13.9" fill="#3f3e9b"/><rect x="547.6" y="669.8" width="10.1" height="13.9" fill="#3f3d9b"/><rect x="557.1" y="669.8" width="10.1" height="13.9" fill="#3f3d9b"/><rect x="566.7" y="669.8" width="10.1" height="13.9" fill="#3f3d9b"/><rect x="576.2" y="669.8" width="10.1" height="13.9" fill="#3f3d9b"/><rect x="585.7" y="669.8" width="10.1" height="13.9" fill="#3f3e9d"/><rect x="595.2" y="669.8" width="10.1" height="13.9" fill="#4041a3"/><rect x="604.7" y="669.8" width="10.1" height="13.9" fill="#4248b0"/><rect x="614.3" y="669.8" width="10.1" height="13.9" fill="#4455c5"/><rect x="623.8" y="669.8" width="10.1" height="13.9" fill="#4665dc"/><rect x="633.3" y="669.8" width="10.1" height="13.9" fill="#4772ea"/><rect x="642.8" y="669.8" width="10.1" height="13.9" fill="#4776ee"/><rect x="652.3" y="669.8" width="10.1" height="13.9" fill="#476fe7"/><rect x="661.9" y="669.8" width="10.1" height="13.9" fill="#4665db"/><rect x="671.4" y="669.8" width="10.1" height="13.9" fill="#4559ca"/><rect x="680.9" y="669.8" width="10.1" height="13.9" fill="#424cb6"/><rect x="690.4" y="669.8" width="10.1" height="13.9" fill="#403fa0"/><rect x="700.0" y="669.8" width="10.1" height="13.9" fill="#3d368d"/><rect x="709.5" y="669.8" width="10.1" height="13.9" fill="#3c3285"/><rect x="719.0" y="669.8" width="10.1" height="13.9" fill="#3b2f80"/><rect x="728.5" y="669.8" width="10.1" height="13.9" fill="#3b2e7e"/><rect x="738.0" y="669.8" width="10.1" height="13.9" fill="#3b2f7f"/><rect x="747.6" y="669.8" width="10.1" height="13.9" fill="#3c3287"/><rect x="757.1" y="669.8" width="10.1" height="13.9" fill="#3e378f"/><rect x="766.6" y="669.8" width="10.1" height="13.9" fill="#3f3a94"/><rect x="776.1" y="669.8" width="10.1" height="13.9" fill="#3e3993"/><rect x="785.6" y="669.8" width="10.1" height="13.9" fill="#3e3994"/><rect x="795.2" y="669.8" width="10.1" height="13.9" fill="#3e3994"/><rect x="804.7" y="669.8" width="10.1" height="13.9" fill="#3e3993"/><rect x="814.2" y="669.8" width="10.1" height="13.9" fill="#3d368c"/><rect x="823.7" y="669.8" width="10.1" height="13.9" fill="#3c3286"/><rect x="833.2" y="669.8" width="10.1" height="13.9" fill="#3b2f7e"/><rect x="842.8" y="669.8" width="10.1" height="13.9" fill="#3a2c77"/><rect x="852.3" y="669.8" width="10.1" height="13.9" fill="#3a2d7a"/><rect x="861.8" y="669.8" width="10.1" height="13.9" fill="#3c3183"/><rect x="871.3" y="669.8" width="10.1" height="13.9" fill="#3c3388"/><rect x="880.9" y="669.8" width="10.1" height="13.9" fill="#3d348a"/><rect x="890.4" y="669.8" width="10.1" height="13.9" fill="#3d348a"/><rect x="899.9" y="669.8" width="10.1" height="13.9" fill="#3d348a"/><rect x="909.4" y="669.8" width="10.1" height="13.9" fill="#3d3489"/><rect x="918.9" y="669.8" width="10.1" height="13.9" fill="#3d3489"/><rect x="928.5" y="669.8" width="10.1" height="13.9" fill="#3d3489"/><rect x="938.0" y="669.8" width="10.1" height="13.9" fill="#3d3489"/><rect x="528.6" y="683.1" width="10.1" height="13.9" fill="#3f3e9c"/><rect x="538.1" y="683.1" width="10.1" height="13.9" fill="#3f3e9c"/><rect x="547.6" y="683.1" width="10.1" height="13.9" fill="#3f3e9c"/><rect x="557.1" y="683.1" width="10.1" height="13.9" fill="#3f3e9c"/><rect x="566.7" y="683.1" width="10.1" height="13.9" fill="#3f3e9c"/><rect x="576.2" y="683.1" width="10.1" height="13.9" fill="#3f3f9f"/><rect x="585.7" y="683.1" width="10.1" height="13.9" fill="#4142a5"/><rect x="595.2" y="683.1" width="10.1" height="13.9" fill="#424ab2"/><rect x="604.7" y="683.1" width="10.1" height="13.9" fill="#4457c8"/><rect x="614.3" y="683.1" width="10.1" height="13.9" fill="#466ae1"/><rect x="623.8" y="683.1" width="10.1" height="13.9" fill="#477af1"/><rect x="633.3" y="683.1" width="10.1" height="13.9" fill="#4680f6"/><rect x="642.8" y="683.1" width="10.1" height="13.9" fill="#4778f0"/><rect x="652.3" y="683.1" width="10.1" height="13.9" fill="#4666dd"/><rect x="661.9" y="683.1" width="10.1" height="13.9" fill="#4453c2"/><rect x="671.4" y="683.1" width="10.1" height="13.9" fill="#4144a9"/><rect x="680.9" y="683.1" width="10.1" height="13.9" fill="#3d368e"/><rect x="690.4" y="683.1" width="10.1" height="13.9" fill="#392a74"/><rect x="700.0" y="683.1" width="10.1" height="13.9" fill="#362261"/><rect x="709.5" y="683.1" width="10.1" height="13.9" fill="#36215f"/><rect x="719.0" y="683.1" width="10.1" height="13.9" fill="#372466"/><rect x="728.5" y="683.1" width="10.1" height="13.9" fill="#38286f"/><rect x="738.0" y="683.1" width="10.1" height="13.9" fill="#3a2d78"/><rect x="747.6" y="683.1" width="10.1" height="13.9" fill="#3b2e7e"/><rect x="757.1" y="683.1" width="10.1" height="13.9" fill="#3b3082"/><rect x="766.6" y="683.1" width="10.1" height="13.9" fill="#3c3184"/><rect x="776.1" y="683.1" width="10.1" height="13.9" fill="#3b3082"/><rect x="785.6" y="683.1" width="10.1" height="13.9" fill="#3b3082"/><rect x="795.2" y="683.1" width="10.1" height="13.9" fill="#3c3285"/><rect x="804.7" y="683.1" width="10.1" height="13.9" fill="#3c3286"/><rect x="814.2" y="683.1" width="10.1" height="13.9" fill="#3a2d79"/><rect x="823.7" y="683.1" width="10.1" height="13.9" fill="#38276e"/><rect x="833.2" y="683.1" width="10.1" height="13.9" fill="#372466"/><rect x="842.8" y="683.1" width="10.1" height="13.9" fill="#372569"/><rect x="852.3" y="683.1" width="10.1" height="13.9" fill="#392971"/><rect x="861.8" y="683.1" width="10.1" height="13.9" fill="#3b3083"/><rect x="871.3" y="683.1" width="10.1" height="13.9" fill="#3d358c"/><rect x="880.9" y="683.1" width="10.1" height="13.9" fill="#3e378f"/><rect x="890.4" y="683.1" width="10.1" height="13.9" fill="#3e378f"/><rect x="899.9" y="683.1" width="10.1" height="13.9" fill="#3e378f"/><rect x="909.4" y="683.1" width="10.1" height="13.9" fill="#3e378f"/><rect x="918.9" y="683.1" width="10.1" height="13.9" fill="#3e378e"/><rect x="928.5" y="683.1" width="10.1" height="13.9" fill="#3e378e"/><rect x="938.0" y="683.1" width="10.1" height="13.9" fill="#3e378e"/><rect x="528.6" y="696.4" width="10.1" height="13.9" fill="#3f3e9d"/><rect x="538.1" y="696.4" width="10.1" height="13.9" fill="#3f3e9d"/><rect x="547.6" y="696.4" width="10.1" height="13.9" fill="#3f3e9d"/><rect x="557.1" y="696.4" width="10.1" height="13.9" fill="#3f3e9d"/><rect x="566.7" y="696.4" width="10.1" height="13.9" fill="#3f3f9f"/><rect x="576.2" y="696.4" width="10.1" height="13.9" fill="#4041a3"/><rect x="585.7" y="696.4" width="10.1" height="13.9" fill="#4249b0"/><rect x="595.2" y="696.4" width="10.1" height="13.9" fill="#4558ca"/><rect x="604.7" y="696.4" width="10.1" height="13.9" fill="#476ee6"/><rect x="614.3" y="696.4" width="10.1" height="13.9" fill="#4681f7"/><rect x="623.8" y="696.4" width="10.1" height="13.9" fill="#458afc"/><rect x="633.3" y="696.4" width="10.1" height="13.9" fill="#4683f9"/><rect x="642.8" y="696.4" width="10.1" height="13.9" fill="#4771e9"/><rect x="652.3" y="696.4" width="10.1" height="13.9" fill="#4558ca"/><rect x="661.9" y="696.4" width="10.1" height="13.9" fill="#4040a1"/><rect x="671.4" y="696.4" width="10.1" height="13.9" fill="#3a2d7a"/><rect x="680.9" y="696.4" width="10.1" height="13.9" fill="#372465"/><rect x="690.4" y="696.4" width="10.1" height="13.9" fill="#362262"/><rect x="700.0" y="696.4" width="10.1" height="13.9" fill="#382870"/><rect x="709.5" y="696.4" width="10.1" height="13.9" fill="#3c3286"/><rect x="719.0" y="696.4" width="10.1" height="13.9" fill="#3e3994"/><rect x="728.5" y="696.4" width="10.1" height="13.9" fill="#3f3e9d"/><rect x="738.0" y="696.4" width="10.1" height="13.9" fill="#4143a6"/><rect x="747.6" y="696.4" width="10.1" height="13.9" fill="#4144a9"/><rect x="757.1" y="696.4" width="10.1" height="13.9" fill="#4144a8"/><rect x="766.6" y="696.4" width="10.1" height="13.9" fill="#4143a7"/><rect x="776.1" y="696.4" width="10.1" height="13.9" fill="#3f3e9c"/><rect x="785.6" y="696.4" width="10.1" height="13.9" fill="#3d368d"/><rect x="795.2" y="696.4" width="10.1" height="13.9" fill="#3b2f81"/><rect x="804.7" y="696.4" width="10.1" height="13.9" fill="#392b75"/><rect x="814.2" y="696.4" width="10.1" height="13.9" fill="#372467"/><rect x="823.7" y="696.4" width="10.1" height="13.9" fill="#36215f"/><rect x="833.2" y="696.4" width="10.1" height="13.9" fill="#38266b"/><rect x="842.8" y="696.4" width="10.1" height="13.9" fill="#3a2d79"/><rect x="852.3" y="696.4" width="10.1" height="13.9" fill="#3c3286"/><rect x="861.8" y="696.4" width="10.1" height="13.9" fill="#3d368d"/><rect x="871.3" y="696.4" width="10.1" height="13.9" fill="#3e3992"/><rect x="880.9" y="696.4" width="10.1" height="13.9" fill="#3e3993"/><rect x="890.4" y="696.4" width="10.1" height="13.9" fill="#3e3993"/><rect x="899.9" y="696.4" width="10.1" height="13.9" fill="#3e3993"/><rect x="909.4" y="696.4" width="10.1" height="13.9" fill="#3e3993"/><rect x="918.9" y="696.4" width="10.1" height="13.9" fill="#3e3993"/><rect x="928.5" y="696.4" width="10.1" height="13.9" fill="#3e3993"/><rect x="938.0" y="696.4" width="10.1" height="13.9" fill="#3e3993"/><rect x="528.6" y="709.7" width="10.1" height="13.9" fill="#3f3f9e"/><rect x="538.1" y="709.7" width="10.1" height="13.9" fill="#3f3f9e"/><rect x="547.6" y="709.7" width="10.1" height="13.9" fill="#3f3f9e"/><rect x="557.1" y="709.7" width="10.1" height="13.9" fill="#3f3f9f"/><rect x="566.7" y="709.7" width="10.1" height="13.9" fill="#4040a1"/><rect x="576.2" y="709.7" width="10.1" height="13.9" fill="#4145aa"/><rect x="585.7" y="709.7" width="10.1" height="13.9" fill="#4450be"/><rect x="595.2" y="709.7" width="10.1" height="13.9" fill="#4665dc"/><rect x="604.7" y="709.7" width="10.1" height="13.9" fill="#467ef5"/><rect x="614.3" y="709.7" width="10.1" height="13.9" fill="#448ffe"/><rect x="623.8" y="709.7" width="10.1" height="13.9" fill="#448efe"/><rect x="633.3" y="709.7" width="10.1" height="13.9" fill="#477bf2"/><rect x="642.8" y="709.7" width="10.1" height="13.9" fill="#4661d6"/><rect x="652.3" y="709.7" width="10.1" height="13.9" fill="#4147ad"/><rect x="661.9" y="709.7" width="10.1" height="13.9" fill="#3b3081"/><rect x="671.4" y="709.7" width="10.1" height="13.9" fill="#372569"/><rect x="680.9" y="709.7" width="10.1" height="13.9" fill="#392b75"/><rect x="690.4" y="709.7" width="10.1" height="13.9" fill="#3d348a"/><rect x="700.0" y="709.7" width="10.1" height="13.9" fill="#3f3f9e"/><rect x="709.5" y="709.7" width="10.1" height="13.9" fill="#4147ad"/><rect x="719.0" y="709.7" width="10.1" height="13.9" fill="#424bb5"/><rect x="728.5" y="709.7" width="10.1" height="13.9" fill="#434fbb"/><rect x="738.0" y="709.7" width="10.1" height="13.9" fill="#4452c0"/><rect x="747.6" y="709.7" width="10.1" height="13.9" fill="#4453c2"/><rect x="757.1" y="709.7" width="10.1" height="13.9" fill="#4454c3"/><rect x="766.6" y="709.7" width="10.1" height="13.9" fill="#4453c2"/><rect x="776.1" y="709.7" width="10.1" height="13.9" fill="#4451bf"/><rect x="785.6" y="709.7" width="10.1" height="13.9" fill="#424cb6"/><rect x="795.2" y="709.7" width="10.1" height="13.9" fill="#4144a9"/><rect x="804.7" y="709.7" width="10.1" height="13.9" fill="#3f3f9f"/><rect x="814.2" y="709.7" width="10.1" height="13.9" fill="#3f3a95"/><rect x="823.7" y="709.7" width="10.1" height="13.9" fill="#3d368c"/><rect x="833.2" y="709.7" width="10.1" height="13.9" fill="#3e3891"/><rect x="842.8" y="709.7" width="10.1" height="13.9" fill="#3f3a96"/><rect x="852.3" y="709.7" width="10.1" height="13.9" fill="#3f3b97"/><rect x="861.8" y="709.7" width="10.1" height="13.9" fill="#3f3b98"/><rect x="871.3" y="709.7" width="10.1" height="13.9" fill="#3f3b98"/><rect x="880.9" y="709.7" width="10.1" height="13.9" fill="#3f3b97"/><rect x="890.4" y="709.7" width="10.1" height="13.9" fill="#3f3b97"/><rect x="899.9" y="709.7" width="10.1" height="13.9" fill="#3f3b97"/><rect x="909.4" y="709.7" width="10.1" height="13.9" fill="#3f3b97"/><rect x="918.9" y="709.7" width="10.1" height="13.9" fill="#3f3b97"/><rect x="928.5" y="709.7" width="10.1" height="13.9" fill="#3f3b97"/><rect x="938.0" y="709.7" width="10.1" height="13.9" fill="#3f3b97"/><rect x="547.6" y="723.1" width="10.1" height="13.9" fill="#3f3f9f"/><rect x="557.1" y="723.1" width="10.1" height="13.9" fill="#403fa0"/><rect x="566.7" y="723.1" width="10.1" height="13.9" fill="#4142a5"/><rect x="576.2" y="723.1" width="10.1" height="13.9" fill="#424ab3"/><rect x="585.7" y="723.1" width="10.1" height="13.9" fill="#455bce"/><rect x="595.2" y="723.1" width="10.1" height="13.9" fill="#4773eb"/><rect x="604.7" y="723.1" width="10.1" height="13.9" fill="#4589fc"/><rect x="614.3" y="723.1" width="10.1" height="13.9" fill="#448ffe"/><rect x="623.8" y="723.1" width="10.1" height="13.9" fill="#4685fa"/><rect x="633.3" y="723.1" width="10.1" height="13.9" fill="#466be3"/><rect x="642.8" y="723.1" width="10.1" height="13.9" fill="#434eba"/><rect x="652.3" y="723.1" width="10.1" height="13.9" fill="#3d358b"/><rect x="661.9" y="723.1" width="10.1" height="13.9" fill="#392970"/><rect x="671.4" y="723.1" width="10.1" height="13.9" fill="#3a2e7b"/><rect x="680.9" y="723.1" width="10.1" height="13.9" fill="#3f3d9a"/><rect x="690.4" y="723.1" width="10.1" height="13.9" fill="#4249b0"/><rect x="700.0" y="723.1" width="10.1" height="13.9" fill="#434ebb"/><rect x="709.5" y="723.1" width="10.1" height="13.9" fill="#4453c1"/><rect x="719.0" y="723.1" width="10.1" height="13.9" fill="#4455c5"/><rect x="728.5" y="723.1" width="10.1" height="13.9" fill="#4457c8"/><rect x="738.0" y="723.1" width="10.1" height="13.9" fill="#4559cb"/><rect x="747.6" y="723.1" width="10.1" height="13.9" fill="#455bcd"/><rect x="757.1" y="723.1" width="10.1" height="13.9" fill="#455bcd"/><rect x="766.6" y="723.1" width="10.1" height="13.9" fill="#455bce"/><rect x="776.1" y="723.1" width="10.1" height="13.9" fill="#455dd1"/><rect x="785.6" y="723.1" width="10.1" height="13.9" fill="#455ed3"/><rect x="795.2" y="723.1" width="10.1" height="13.9" fill="#455dd1"/><rect x="804.7" y="723.1" width="10.1" height="13.9" fill="#4559cb"/><rect x="814.2" y="723.1" width="10.1" height="13.9" fill="#4452c1"/><rect x="823.7" y="723.1" width="10.1" height="13.9" fill="#424ab4"/><rect x="833.2" y="723.1" width="10.1" height="13.9" fill="#4145aa"/><rect x="842.8" y="723.1" width="10.1" height="13.9" fill="#4041a3"/><rect x="852.3" y="723.1" width="10.1" height="13.9" fill="#3f3f9e"/><rect x="861.8" y="723.1" width="10.1" height="13.9" fill="#3f3e9c"/><rect x="871.3" y="723.1" width="10.1" height="13.9" fill="#3f3d9a"/><rect x="880.9" y="723.1" width="10.1" height="13.9" fill="#3f3d9a"/><rect x="890.4" y="723.1" width="10.1" height="13.9" fill="#3f3c99"/><rect x="899.9" y="723.1" width="10.1" height="13.9" fill="#3f3c99"/><rect x="909.4" y="723.1" width="10.1" height="13.9" fill="#3f3c99"/><rect x="918.9" y="723.1" width="10.1" height="13.9" fill="#3f3c99"/><rect x="928.5" y="723.1" width="10.1" height="13.9" fill="#3f3c99"/><rect x="938.0" y="723.1" width="10.1" height="13.9" fill="#3f3c99"/><rect x="547.6" y="736.4" width="10.1" height="13.9" fill="#403f9f"/><rect x="557.1" y="736.4" width="10.1" height="13.9" fill="#4040a2"/><rect x="566.7" y="736.4" width="10.1" height="13.9" fill="#4146ac"/><rect x="576.2" y="736.4" width="10.1" height="13.9" fill="#4452c1"/><rect x="585.7" y="736.4" width="10.1" height="13.9" fill="#4667de"/><rect x="595.2" y="736.4" width="10.1" height="13.9" fill="#4680f6"/><rect x="604.7" y="736.4" width="10.1" height="13.9" fill="#448ffe"/><rect x="614.3" y="736.4" width="10.1" height="13.9" fill="#458bfd"/><rect x="623.8" y="736.4" width="10.1" height="13.9" fill="#4777ef"/><rect x="633.3" y="736.4" width="10.1" height="13.9" fill="#4558ca"/><rect x="642.8" y="736.4" width="10.1" height="13.9" fill="#3f3c99"/><rect x="652.3" y="736.4" width="10.1" height="13.9" fill="#3a2c77"/><rect x="661.9" y="736.4" width="10.1" height="13.9" fill="#3b2e7e"/><rect x="671.4" y="736.4" width="10.1" height="13.9" fill="#3f3e9d"/><rect x="680.9" y="736.4" width="10.1" height="13.9" fill="#424cb7"/><rect x="690.4" y="736.4" width="10.1" height="13.9" fill="#4455c5"/><rect x="700.0" y="736.4" width="10.1" height="13.9" fill="#4558ca"/><rect x="709.5" y="736.4" width="10.1" height="13.9" fill="#455bcd"/><rect x="719.0" y="736.4" width="10.1" height="13.9" fill="#455cd0"/><rect x="728.5" y="736.4" width="10.1" height="13.9" fill="#455dd1"/><rect x="738.0" y="736.4" width="10.1" height="13.9" fill="#455ed2"/><rect x="747.6" y="736.4" width="10.1" height="13.9" fill="#455ed3"/><rect x="757.1" y="736.4" width="10.1" height="13.9" fill="#455fd4"/><rect x="766.6" y="736.4" width="10.1" height="13.9" fill="#4661d6"/><rect x="776.1" y="736.4" width="10.1" height="13.9" fill="#4665db"/><rect x="785.6" y="736.4" width="10.1" height="13.9" fill="#4669e0"/><rect x="795.2" y="736.4" width="10.1" height="13.9" fill="#466ae2"/><rect x="804.7" y="736.4" width="10.1" height="13.9" fill="#4666dd"/><rect x="814.2" y="736.4" width="10.1" height="13.9" fill="#455ed3"/><rect x="823.7" y="736.4" width="10.1" height="13.9" fill="#4454c4"/><rect x="833.2" y="736.4" width="10.1" height="13.9" fill="#424bb5"/><rect x="842.8" y="736.4" width="10.1" height="13.9" fill="#4145aa"/><rect x="852.3" y="736.4" width="10.1" height="13.9" fill="#4040a3"/><rect x="861.8" y="736.4" width="10.1" height="13.9" fill="#3f3f9f"/><rect x="871.3" y="736.4" width="10.1" height="13.9" fill="#3f3e9c"/><rect x="880.9" y="736.4" width="10.1" height="13.9" fill="#3f3e9c"/><rect x="890.4" y="736.4" width="10.1" height="13.9" fill="#3f3e9b"/><rect x="899.9" y="736.4" width="10.1" height="13.9" fill="#3f3d9b"/><rect x="909.4" y="736.4" width="10.1" height="13.9" fill="#3f3d9b"/><rect x="918.9" y="736.4" width="10.1" height="13.9" fill="#3f3d9b"/><rect x="928.5" y="736.4" width="10.1" height="13.9" fill="#3f3d9b"/><rect x="938.0" y="736.4" width="10.1" height="13.9" fill="#3f3d9b"/><rect x="547.6" y="749.7" width="10.1" height="13.9" fill="#403fa0"/><rect x="557.1" y="749.7" width="10.1" height="13.9" fill="#4142a5"/><rect x="566.7" y="749.7" width="10.1" height="13.9" fill="#424ab3"/><rect x="576.2" y="749.7" width="10.1" height="13.9" fill="#455bcd"/><rect x="585.7" y="749.7" width="10.1" height="13.9" fill="#4773eb"/><rect x="595.2" y="749.7" width="10.1" height="13.9" fill="#4589fc"/><rect x="604.7" y="749.7" width="10.1" height="13.9" fill="#448ffe"/><rect x="614.3" y="749.7" width="10.1" height="13.9" fill="#4681f7"/><rect x="623.8" y="749.7" width="10.1" height="13.9" fill="#4666dd"/><rect x="633.3" y="749.7" width="10.1" height="13.9" fill="#4147ae"/><rect x="642.8" y="749.7" width="10.1" height="13.9" fill="#3b3082"/><rect x="652.3" y="749.7" width="10.1" height="13.9" fill="#3a2e7c"/><rect x="661.9" y="749.7" width="10.1" height="13.9" fill="#3f3d9b"/><rect x="671.4" y="749.7" width="10.1" height="13.9" fill="#434db8"/><rect x="680.9" y="749.7" width="10.1" height="13.9" fill="#4558c9"/><rect x="690.4" y="749.7" width="10.1" height="13.9" fill="#455ed2"/><rect x="700.0" y="749.7" width="10.1" height="13.9" fill="#4660d5"/><rect x="709.5" y="749.7" width="10.1" height="13.9" fill="#4661d6"/><rect x="719.0" y="749.7" width="10.1" height="13.9" fill="#4662d7"/><rect x="728.5" y="749.7" width="10.1" height="13.9" fill="#4661d6"/><rect x="738.0" y="749.7" width="10.1" height="13.9" fill="#4660d5"/><rect x="747.6" y="749.7" width="10.1" height="13.9" fill="#455ed3"/><rect x="757.1" y="749.7" width="10.1" height="13.9" fill="#455ed3"/><rect x="766.6" y="749.7" width="10.1" height="13.9" fill="#4662d7"/><rect x="776.1" y="749.7" width="10.1" height="13.9" fill="#4667de"/><rect x="785.6" y="749.7" width="10.1" height="13.9" fill="#476de5"/><rect x="795.2" y="749.7" width="10.1" height="13.9" fill="#4771e9"/><rect x="804.7" y="749.7" width="10.1" height="13.9" fill="#476fe7"/><rect x="814.2" y="749.7" width="10.1" height="13.9" fill="#4667de"/><rect x="823.7" y="749.7" width="10.1" height="13.9" fill="#455ccf"/><rect x="833.2" y="749.7" width="10.1" height="13.9" fill="#4450be"/><rect x="842.8" y="749.7" width="10.1" height="13.9" fill="#4248b0"/><rect x="852.3" y="749.7" width="10.1" height="13.9" fill="#4142a6"/><rect x="861.8" y="749.7" width="10.1" height="13.9" fill="#4040a1"/><rect x="871.3" y="749.7" width="10.1" height="13.9" fill="#3f3f9e"/><rect x="880.9" y="749.7" width="10.1" height="13.9" fill="#3f3e9d"/><rect x="890.4" y="749.7" width="10.1" height="13.9" fill="#3f3e9d"/><rect x="899.9" y="749.7" width="10.1" height="13.9" fill="#3f3e9c"/><rect x="909.4" y="749.7" width="10.1" height="13.9" fill="#3f3e9c"/><rect x="918.9" y="749.7" width="10.1" height="13.9" fill="#3f3e9c"/><rect x="928.5" y="749.7" width="10.1" height="13.9" fill="#3f3e9c"/><rect x="938.0" y="749.7" width="10.1" height="13.9" fill="#3f3e9c"/><rect x="547.6" y="763.0" width="10.1" height="13.9" fill="#4040a2"/><rect x="557.1" y="763.0" width="10.1" height="13.9" fill="#4144a9"/><rect x="566.7" y="763.0" width="10.1" height="13.9" fill="#434fbc"/><rect x="576.2" y="763.0" width="10.1" height="13.9" fill="#4664da"/><rect x="585.7" y="763.0" width="10.1" height="13.9" fill="#477cf3"/><rect x="595.2" y="763.0" width="10.1" height="13.9" fill="#458bfd"/><rect x="604.7" y="763.0" width="10.1" height="13.9" fill="#4688fb"/><rect x="614.3" y="763.0" width="10.1" height="13.9" fill="#4774ec"/><rect x="623.8" y="763.0" width="10.1" height="13.9" fill="#4456c6"/><rect x="633.3" y="763.0" width="10.1" height="13.9" fill="#3f3a94"/><rect x="642.8" y="763.0" width="10.1" height="13.9" fill="#3a2e7c"/><rect x="652.3" y="763.0" width="10.1" height="13.9" fill="#3e3891"/><rect x="661.9" y="763.0" width="10.1" height="13.9" fill="#424ab3"/><rect x="671.4" y="763.0" width="10.1" height="13.9" fill="#4457c8"/><rect x="680.9" y="763.0" width="10.1" height="13.9" fill="#455ed3"/><rect x="690.4" y="763.0" width="10.1" height="13.9" fill="#4663d9"/><rect x="700.0" y="763.0" width="10.1" height="13.9" fill="#4665dc"/><rect x="709.5" y="763.0" width="10.1" height="13.9" fill="#4665dc"/><rect x="719.0" y="763.0" width="10.1" height="13.9" fill="#4664da"/><rect x="728.5" y="763.0" width="10.1" height="13.9" fill="#4661d6"/><rect x="738.0" y="763.0" width="10.1" height="13.9" fill="#455ed3"/><rect x="747.6" y="763.0" width="10.1" height="13.9" fill="#455ccf"/><rect x="757.1" y="763.0" width="10.1" height="13.9" fill="#455acd"/><rect x="766.6" y="763.0" width="10.1" height="13.9" fill="#455ed2"/><rect x="776.1" y="763.0" width="10.1" height="13.9" fill="#4665db"/><rect x="785.6" y="763.0" width="10.1" height="13.9" fill="#476de5"/><rect x="795.2" y="763.0" width="10.1" height="13.9" fill="#4775ed"/><rect x="804.7" y="763.0" width="10.1" height="13.9" fill="#4775ed"/><rect x="814.2" y="763.0" width="10.1" height="13.9" fill="#476ee6"/><rect x="823.7" y="763.0" width="10.1" height="13.9" fill="#4662d7"/><rect x="833.2" y="763.0" width="10.1" height="13.9" fill="#4455c5"/><rect x="842.8" y="763.0" width="10.1" height="13.9" fill="#424ab3"/><rect x="852.3" y="763.0" width="10.1" height="13.9" fill="#4144a8"/><rect x="861.8" y="763.0" width="10.1" height="13.9" fill="#4040a2"/><rect x="871.3" y="763.0" width="10.1" height="13.9" fill="#403f9f"/><rect x="880.9" y="763.0" width="10.1" height="13.9" fill="#3f3f9e"/><rect x="890.4" y="763.0" width="10.1" height="13.9" fill="#3f3f9e"/><rect x="899.9" y="763.0" width="10.1" height="13.9" fill="#3f3e9d"/><rect x="909.4" y="763.0" width="10.1" height="13.9" fill="#3f3e9d"/><rect x="918.9" y="763.0" width="10.1" height="13.9" fill="#3f3e9d"/><rect x="928.5" y="763.0" width="10.1" height="13.9" fill="#3f3e9d"/><rect x="938.0" y="763.0" width="10.1" height="13.9" fill="#3f3e9d"/><rect x="547.6" y="776.4" width="10.1" height="13.9" fill="#4041a4"/><rect x="557.1" y="776.4" width="10.1" height="13.9" fill="#4248af"/><rect x="566.7" y="776.4" width="10.1" height="13.9" fill="#4456c7"/><rect x="576.2" y="776.4" width="10.1" height="13.9" fill="#466ce4"/><rect x="585.7" y="776.4" width="10.1" height="13.9" fill="#4682f8"/><rect x="595.2" y="776.4" width="10.1" height="13.9" fill="#458afc"/><rect x="604.7" y="776.4" width="10.1" height="13.9" fill="#467ff5"/><rect x="614.3" y="776.4" width="10.1" height="13.9" fill="#4665dc"/><rect x="623.8" y="776.4" width="10.1" height="13.9" fill="#4147ae"/><rect x="633.3" y="776.4" width="10.1" height="13.9" fill="#3c3286"/><rect x="642.8" y="776.4" width="10.1" height="13.9" fill="#3d3489"/><rect x="652.3" y="776.4" width="10.1" height="13.9" fill="#4145ab"/><rect x="661.9" y="776.4" width="10.1" height="13.9" fill="#4455c5"/><rect x="671.4" y="776.4" width="10.1" height="13.9" fill="#455ed3"/><rect x="680.9" y="776.4" width="10.1" height="13.9" fill="#4664da"/><rect x="690.4" y="776.4" width="10.1" height="13.9" fill="#4667de"/><rect x="700.0" y="776.4" width="10.1" height="13.9" fill="#4667de"/><rect x="709.5" y="776.4" width="10.1" height="13.9" fill="#4666dc"/><rect x="719.0" y="776.4" width="10.1" height="13.9" fill="#4662d8"/><rect x="728.5" y="776.4" width="10.1" height="13.9" fill="#455ed3"/><rect x="738.0" y="776.4" width="10.1" height="13.9" fill="#455acd"/><rect x="747.6" y="776.4" width="10.1" height="13.9" fill="#4456c8"/><rect x="757.1" y="776.4" width="10.1" height="13.9" fill="#4455c4"/><rect x="766.6" y="776.4" width="10.1" height="13.9" fill="#4457c9"/><rect x="776.1" y="776.4" width="10.1" height="13.9" fill="#455fd4"/><rect x="785.6" y="776.4" width="10.1" height="13.9" fill="#4669e0"/><rect x="795.2" y="776.4" width="10.1" height="13.9" fill="#4772ea"/><rect x="804.7" y="776.4" width="10.1" height="13.9" fill="#4775ed"/><rect x="814.2" y="776.4" width="10.1" height="13.9" fill="#4771e9"/><rect x="823.7" y="776.4" width="10.1" height="13.9" fill="#4665dc"/><rect x="833.2" y="776.4" width="10.1" height="13.9" fill="#4558ca"/><rect x="842.8" y="776.4" width="10.1" height="13.9" fill="#424cb7"/><rect x="852.3" y="776.4" width="10.1" height="13.9" fill="#4145ab"/><rect x="861.8" y="776.4" width="10.1" height="13.9" fill="#4041a3"/><rect x="871.3" y="776.4" width="10.1" height="13.9" fill="#403fa0"/><rect x="880.9" y="776.4" width="10.1" height="13.9" fill="#3f3f9f"/><rect x="890.4" y="776.4" width="10.1" height="13.9" fill="#3f3f9e"/><rect x="899.9" y="776.4" width="10.1" height="13.9" fill="#3f3f9e"/><rect x="909.4" y="776.4" width="10.1" height="13.9" fill="#3f3f9e"/><rect x="918.9" y="776.4" width="10.1" height="13.9" fill="#3f3f9e"/><rect x="928.5" y="776.4" width="10.1" height="13.9" fill="#3f3f9e"/><rect x="938.0" y="776.4" width="10.1" height="13.9" fill="#3f3f9e"/><rect x="547.6" y="789.7" width="10.1" height="13.9" fill="#4143a7"/><rect x="557.1" y="789.7" width="10.1" height="13.9" fill="#424cb6"/><rect x="566.7" y="789.7" width="10.1" height="13.9" fill="#455dd2"/><rect x="576.2" y="789.7" width="10.1" height="13.9" fill="#4775ed"/><rect x="585.7" y="789.7" width="10.1" height="13.9" fill="#4685fa"/><rect x="595.2" y="789.7" width="10.1" height="13.9" fill="#4685fa"/><rect x="604.7" y="789.7" width="10.1" height="13.9" fill="#4773eb"/><rect x="614.3" y="789.7" width="10.1" height="13.9" fill="#4456c7"/><rect x="623.8" y="789.7" width="10.1" height="13.9" fill="#3f3c98"/><rect x="633.3" y="789.7" width="10.1" height="13.9" fill="#3c3387"/><rect x="642.8" y="789.7" width="10.1" height="13.9" fill="#4040a1"/><rect x="652.3" y="789.7" width="10.1" height="13.9" fill="#4452c1"/><rect x="661.9" y="789.7" width="10.1" height="13.9" fill="#455ed3"/><rect x="671.4" y="789.7" width="10.1" height="13.9" fill="#4665db"/><rect x="680.9" y="789.7" width="10.1" height="13.9" fill="#4668df"/><rect x="690.4" y="789.7" width="10.1" height="13.9" fill="#4669e0"/><rect x="700.0" y="789.7" width="10.1" height="13.9" fill="#4668df"/><rect x="709.5" y="789.7" width="10.1" height="13.9" fill="#4665db"/><rect x="719.0" y="789.7" width="10.1" height="13.9" fill="#455fd4"/><rect x="728.5" y="789.7" width="10.1" height="13.9" fill="#455acc"/><rect x="738.0" y="789.7" width="10.1" height="13.9" fill="#4454c4"/><rect x="747.6" y="789.7" width="10.1" height="13.9" fill="#4451be"/><rect x="757.1" y="789.7" width="10.1" height="13.9" fill="#434ebb"/><rect x="766.6" y="789.7" width="10.1" height="13.9" fill="#4451be"/><rect x="776.1" y="789.7" width="10.1" height="13.9" fill="#4558ca"/><rect x="785.6" y="789.7" width="10.1" height="13.9" fill="#4663d9"/><rect x="795.2" y="789.7" width="10.1" height="13.9" fill="#476de5"/><rect x="804.7" y="789.7" width="10.1" height="13.9" fill="#4774ec"/><rect x="814.2" y="789.7" width="10.1" height="13.9" fill="#4772ea"/><rect x="823.7" y="789.7" width="10.1" height="13.9" fill="#4669e0"/><rect x="833.2" y="789.7" width="10.1" height="13.9" fill="#455ccf"/><rect x="842.8" y="789.7" width="10.1" height="13.9" fill="#434fbc"/><rect x="852.3" y="789.7" width="10.1" height="13.9" fill="#4147ad"/><rect x="861.8" y="789.7" width="10.1" height="13.9" fill="#4142a5"/><rect x="871.3" y="789.7" width="10.1" height="13.9" fill="#4040a1"/><rect x="880.9" y="789.7" width="10.1" height="13.9" fill="#403f9f"/><rect x="890.4" y="789.7" width="10.1" height="13.9" fill="#3f3f9f"/><rect x="899.9" y="789.7" width="10.1" height="13.9" fill="#3f3f9f"/><rect x="909.4" y="789.7" width="10.1" height="13.9" fill="#3f3f9e"/><rect x="918.9" y="789.7" width="10.1" height="13.9" fill="#3f3f9e"/><rect x="928.5" y="789.7" width="10.1" height="13.9" fill="#3f3f9e"/><rect x="938.0" y="789.7" width="10.1" height="13.9" fill="#3f3f9e"/><rect x="547.6" y="803.0" width="10.1" height="13.9" fill="#4145ab"/><rect x="557.1" y="803.0" width="10.1" height="13.9" fill="#4450be"/><rect x="566.7" y="803.0" width="10.1" height="13.9" fill="#4663d9"/><rect x="576.2" y="803.0" width="10.1" height="13.9" fill="#4777ef"/><rect x="585.7" y="803.0" width="10.1" height="13.9" fill="#4681f7"/><rect x="595.2" y="803.0" width="10.1" height="13.9" fill="#477af1"/><rect x="604.7" y="803.0" width="10.1" height="13.9" fill="#4663d8"/><rect x="614.3" y="803.0" width="10.1" height="13.9" fill="#4146ac"/><rect x="623.8" y="803.0" width="10.1" height="13.9" fill="#3d358a"/><rect x="633.3" y="803.0" width="10.1" height="13.9" fill="#3f3b97"/><rect x="642.8" y="803.0" width="10.1" height="13.9" fill="#434db8"/><rect x="652.3" y="803.0" width="10.1" height="13.9" fill="#455dd1"/><rect x="661.9" y="803.0" width="10.1" height="13.9" fill="#4665db"/><rect x="671.4" y="803.0" width="10.1" height="13.9" fill="#4669e0"/><rect x="680.9" y="803.0" width="10.1" height="13.9" fill="#466ae2"/><rect x="690.4" y="803.0" width="10.1" height="13.9" fill="#466ae1"/><rect x="700.0" y="803.0" width="10.1" height="13.9" fill="#4666dd"/><rect x="709.5" y="803.0" width="10.1" height="13.9" fill="#4662d7"/><rect x="719.0" y="803.0" width="10.1" height="13.9" fill="#455ccf"/><rect x="728.5" y="803.0" width="10.1" height="13.9" fill="#4455c6"/><rect x="738.0" y="803.0" width="10.1" height="13.9" fill="#434fbc"/><rect x="747.6" y="803.0" width="10.1" height="13.9" fill="#424bb4"/><rect x="757.1" y="803.0" width="10.1" height="13.9" fill="#4249b2"/><rect x="766.6" y="803.0" width="10.1" height="13.9" fill="#424ab4"/><rect x="776.1" y="803.0" width="10.1" height="13.9" fill="#4452c0"/><rect x="785.6" y="803.0" width="10.1" height="13.9" fill="#455dd0"/><rect x="795.2" y="803.0" width="10.1" height="13.9" fill="#4669e0"/><rect x="804.7" y="803.0" width="10.1" height="13.9" fill="#4772ea"/><rect x="814.2" y="803.0" width="10.1" height="13.9" fill="#4774ec"/><rect x="823.7" y="803.0" width="10.1" height="13.9" fill="#476de5"/><rect x="833.2" y="803.0" width="10.1" height="13.9" fill="#4660d5"/><rect x="842.8" y="803.0" width="10.1" height="13.9" fill="#4453c2"/><rect x="852.3" y="803.0" width="10.1" height="13.9" fill="#4249b1"/><rect x="861.8" y="803.0" width="10.1" height="13.9" fill="#4143a6"/><rect x="871.3" y="803.0" width="10.1" height="13.9" fill="#4040a2"/><rect x="880.9" y="803.0" width="10.1" height="13.9" fill="#403fa0"/><rect x="890.4" y="803.0" width="10.1" height="13.9" fill="#3f3f9f"/><rect x="899.9" y="803.0" width="10.1" height="13.9" fill="#3f3f9f"/><rect x="909.4" y="803.0" width="10.1" height="13.9" fill="#3f3f9f"/><rect x="918.9" y="803.0" width="10.1" height="13.9" fill="#3f3f9f"/><rect x="928.5" y="803.0" width="10.1" height="13.9" fill="#3f3f9f"/><rect x="938.0" y="803.0" width="10.1" height="13.9" fill="#3f3f9f"/><rect x="547.6" y="816.3" width="10.1" height="13.9" fill="#4248af"/><rect x="557.1" y="816.3" width="10.1" height="13.9" fill="#4455c4"/><rect x="566.7" y="816.3" width="10.1" height="13.9" fill="#4666dd"/><rect x="576.2" y="816.3" width="10.1" height="13.9" fill="#4776ee"/><rect x="585.7" y="816.3" width="10.1" height="13.9" fill="#4778f0"/><rect x="595.2" y="816.3" width="10.1" height="13.9" fill="#466ae1"/><rect x="604.7" y="816.3" width="10.1" height="13.9" fill="#434fbc"/><rect x="614.3" y="816.3" width="10.1" height="13.9" fill="#3e3891"/><rect x="623.8" y="816.3" width="10.1" height="13.9" fill="#3d358b"/><rect x="633.3" y="816.3" width="10.1" height="13.9" fill="#4145ab"/><rect x="642.8" y="816.3" width="10.1" height="13.9" fill="#4457c8"/><rect x="652.3" y="816.3" width="10.1" height="13.9" fill="#4663d9"/><rect x="661.9" y="816.3" width="10.1" height="13.9" fill="#4669e0"/><rect x="671.4" y="816.3" width="10.1" height="13.9" fill="#466ce4"/><rect x="680.9" y="816.3" width="10.1" height="13.9" fill="#466be3"/><rect x="690.4" y="816.3" width="10.1" height="13.9" fill="#4669e0"/><rect x="700.0" y="816.3" width="10.1" height="13.9" fill="#4664da"/><rect x="709.5" y="816.3" width="10.1" height="13.9" fill="#455ed2"/><rect x="719.0" y="816.3" width="10.1" height="13.9" fill="#4457c8"/><rect x="728.5" y="816.3" width="10.1" height="13.9" fill="#4451bf"/><rect x="738.0" y="816.3" width="10.1" height="13.9" fill="#424bb6"/><rect x="747.6" y="816.3" width="10.1" height="13.9" fill="#4248af"/><rect x="757.1" y="816.3" width="10.1" height="13.9" fill="#4145ab"/><rect x="766.6" y="816.3" width="10.1" height="13.9" fill="#4146ad"/><rect x="776.1" y="816.3" width="10.1" height="13.9" fill="#424cb7"/><rect x="785.6" y="816.3" width="10.1" height="13.9" fill="#4457c9"/><rect x="795.2" y="816.3" width="10.1" height="13.9" fill="#4665dc"/><rect x="804.7" y="816.3" width="10.1" height="13.9" fill="#4771e9"/><rect x="814.2" y="816.3" width="10.1" height="13.9" fill="#4776ee"/><rect x="823.7" y="816.3" width="10.1" height="13.9" fill="#4772ea"/><rect x="833.2" y="816.3" width="10.1" height="13.9" fill="#4666dd"/><rect x="842.8" y="816.3" width="10.1" height="13.9" fill="#4457c9"/><rect x="852.3" y="816.3" width="10.1" height="13.9" fill="#424bb5"/><rect x="861.8" y="816.3" width="10.1" height="13.9" fill="#4144a9"/><rect x="871.3" y="816.3" width="10.1" height="13.9" fill="#4040a3"/><rect x="880.9" y="816.3" width="10.1" height="13.9" fill="#403fa0"/><rect x="890.4" y="816.3" width="10.1" height="13.9" fill="#403f9f"/><rect x="899.9" y="816.3" width="10.1" height="13.9" fill="#403f9f"/><rect x="909.4" y="816.3" width="10.1" height="13.9" fill="#3f3f9f"/><rect x="918.9" y="816.3" width="10.1" height="13.9" fill="#3f3f9f"/><rect x="928.5" y="816.3" width="10.1" height="13.9" fill="#3f3f9f"/><rect x="938.0" y="816.3" width="10.1" height="13.9" fill="#3f3f9f"/><rect x="547.6" y="829.7" width="10.1" height="13.9" fill="#424ab3"/><rect x="557.1" y="829.7" width="10.1" height="13.9" fill="#4558c9"/><rect x="566.7" y="829.7" width="10.1" height="13.9" fill="#4667de"/><rect x="576.2" y="829.7" width="10.1" height="13.9" fill="#4771e9"/><rect x="585.7" y="829.7" width="10.1" height="13.9" fill="#466be3"/><rect x="595.2" y="829.7" width="10.1" height="13.9" fill="#4558c9"/><rect x="604.7" y="829.7" width="10.1" height="13.9" fill="#3f3e9d"/><rect x="614.3" y="829.7" width="10.1" height="13.9" fill="#3c3287"/><rect x="623.8" y="829.7" width="10.1" height="13.9" fill="#3f3d9b"/><rect x="633.3" y="829.7" width="10.1" height="13.9" fill="#4450be"/><rect x="642.8" y="829.7" width="10.1" height="13.9" fill="#455ed3"/><rect x="652.3" y="829.7" width="10.1" height="13.9" fill="#4667de"/><rect x="661.9" y="829.7" width="10.1" height="13.9" fill="#466ce4"/><rect x="671.4" y="829.7" width="10.1" height="13.9" fill="#476ee6"/><rect x="680.9" y="829.7" width="10.1" height="13.9" fill="#466ce4"/><rect x="690.4" y="829.7" width="10.1" height="13.9" fill="#4668df"/><rect x="700.0" y="829.7" width="10.1" height="13.9" fill="#4661d6"/><rect x="709.5" y="829.7" width="10.1" height="13.9" fill="#455acc"/><rect x="719.0" y="829.7" width="10.1" height="13.9" fill="#4453c2"/><rect x="728.5" y="829.7" width="10.1" height="13.9" fill="#434db8"/><rect x="738.0" y="829.7" width="10.1" height="13.9" fill="#4248b0"/><rect x="747.6" y="829.7" width="10.1" height="13.9" fill="#4144a8"/><rect x="757.1" y="829.7" width="10.1" height="13.9" fill="#4040a3"/><rect x="766.6" y="829.7" width="10.1" height="13.9" fill="#4041a4"/><rect x="776.1" y="829.7" width="10.1" height="13.9" fill="#4248af"/><rect x="785.6" y="829.7" width="10.1" height="13.9" fill="#4454c2"/><rect x="795.2" y="829.7" width="10.1" height="13.9" fill="#4661d6"/><rect x="804.7" y="829.7" width="10.1" height="13.9" fill="#476ee6"/><rect x="814.2" y="829.7" width="10.1" height="13.9" fill="#4775ed"/><rect x="823.7" y="829.7" width="10.1" height="13.9" fill="#4772ea"/><rect x="833.2" y="829.7" width="10.1" height="13.9" fill="#4667de"/><rect x="842.8" y="829.7" width="10.1" height="13.9" fill="#4559cb"/><rect x="852.3" y="829.7" width="10.1" height="13.9" fill="#424cb7"/><rect x="861.8" y="829.7" width="10.1" height="13.9" fill="#4145aa"/><rect x="871.3" y="829.7" width="10.1" height="13.9" fill="#4041a3"/><rect x="880.9" y="829.7" width="10.1" height="13.9" fill="#403fa0"/><rect x="890.4" y="829.7" width="10.1" height="13.9" fill="#403f9f"/><rect x="899.9" y="829.7" width="10.1" height="13.9" fill="#403f9f"/><rect x="909.4" y="829.7" width="10.1" height="13.9" fill="#403f9f"/><rect x="918.9" y="829.7" width="10.1" height="13.9" fill="#403f9f"/><rect x="928.5" y="829.7" width="10.1" height="13.9" fill="#403f9f"/><rect x="938.0" y="829.7" width="10.1" height="13.9" fill="#403f9f"/><rect x="547.6" y="843.0" width="10.1" height="13.9" fill="#434fbb"/><rect x="557.1" y="843.0" width="10.1" height="13.9" fill="#455cce"/><rect x="566.7" y="843.0" width="10.1" height="13.9" fill="#4666dd"/><rect x="576.2" y="843.0" width="10.1" height="13.9" fill="#4669e0"/><rect x="585.7" y="843.0" width="10.1" height="13.9" fill="#455ccf"/><rect x="595.2" y="843.0" width="10.1" height="13.9" fill="#4144a9"/><rect x="604.7" y="843.0" width="10.1" height="13.9" fill="#3c3387"/><rect x="614.3" y="843.0" width="10.1" height="13.9" fill="#3d368d"/><rect x="623.8" y="843.0" width="10.1" height="13.9" fill="#4248b0"/><rect x="633.3" y="843.0" width="10.1" height="13.9" fill="#4559cb"/><rect x="642.8" y="843.0" width="10.1" height="13.9" fill="#4664da"/><rect x="652.3" y="843.0" width="10.1" height="13.9" fill="#466be3"/><rect x="661.9" y="843.0" width="10.1" height="13.9" fill="#476fe7"/><rect x="671.4" y="843.0" width="10.1" height="13.9" fill="#4770e8"/><rect x="680.9" y="843.0" width="10.1" height="13.9" fill="#476de5"/><rect x="690.4" y="843.0" width="10.1" height="13.9" fill="#4668df"/><rect x="700.0" y="843.0" width="10.1" height="13.9" fill="#4660d5"/><rect x="709.5" y="843.0" width="10.1" height="13.9" fill="#4558ca"/><rect x="719.0" y="843.0" width="10.1" height="13.9" fill="#4451bf"/><rect x="728.5" y="843.0" width="10.1" height="13.9" fill="#424ab4"/><rect x="738.0" y="843.0" width="10.1" height="13.9" fill="#4146ab"/><rect x="747.6" y="843.0" width="10.1" height="13.9" fill="#4040a2"/><rect x="757.1" y="843.0" width="10.1" height="13.9" fill="#3f3c99"/><rect x="766.6" y="843.0" width="10.1" height="13.9" fill="#3f3c99"/><rect x="776.1" y="843.0" width="10.1" height="13.9" fill="#4143a7"/><rect x="785.6" y="843.0" width="10.1" height="13.9" fill="#434eba"/><rect x="795.2" y="843.0" width="10.1" height="13.9" fill="#455bcd"/><rect x="804.7" y="843.0" width="10.1" height="13.9" fill="#4667de"/><rect x="814.2" y="843.0" width="10.1" height="13.9" fill="#4770e8"/><rect x="823.7" y="843.0" width="10.1" height="13.9" fill="#476fe7"/><rect x="833.2" y="843.0" width="10.1" height="13.9" fill="#4666dd"/><rect x="842.8" y="843.0" width="10.1" height="13.9" fill="#4559cc"/><rect x="852.3" y="843.0" width="10.1" height="13.9" fill="#434db9"/><rect x="861.8" y="843.0" width="10.1" height="13.9" fill="#4146ab"/><rect x="871.3" y="843.0" width="10.1" height="13.9" fill="#4041a4"/><rect x="880.9" y="843.0" width="10.1" height="13.9" fill="#4040a1"/><rect x="890.4" y="843.0" width="10.1" height="13.9" fill="#403fa0"/><rect x="899.9" y="843.0" width="10.1" height="13.9" fill="#403f9f"/><rect x="909.4" y="843.0" width="10.1" height="13.9" fill="#403f9f"/><rect x="918.9" y="843.0" width="10.1" height="13.9" fill="#403f9f"/><rect x="928.5" y="843.0" width="10.1" height="13.9" fill="#403f9f"/><rect x="938.0" y="843.0" width="10.1" height="13.9" fill="#403f9f"/><rect x="528.6" y="856.3" width="10.1" height="13.9" fill="#4143a6"/><rect x="538.1" y="856.3" width="10.1" height="13.9" fill="#4249b1"/><rect x="547.6" y="856.3" width="10.1" height="13.9" fill="#4453c1"/><rect x="557.1" y="856.3" width="10.1" height="13.9" fill="#455dd1"/><rect x="566.7" y="856.3" width="10.1" height="13.9" fill="#4662d7"/><rect x="576.2" y="856.3" width="10.1" height="13.9" fill="#455acd"/><rect x="585.7" y="856.3" width="10.1" height="13.9" fill="#4147ae"/><rect x="595.2" y="856.3" width="10.1" height="13.9" fill="#3d3489"/><rect x="604.7" y="856.3" width="10.1" height="13.9" fill="#3c3286"/><rect x="614.3" y="856.3" width="10.1" height="13.9" fill="#4040a3"/><rect x="623.8" y="856.3" width="10.1" height="13.9" fill="#4452c1"/><rect x="633.3" y="856.3" width="10.1" height="13.9" fill="#455fd4"/><rect x="642.8" y="856.3" width="10.1" height="13.9" fill="#4668df"/><rect x="652.3" y="856.3" width="10.1" height="13.9" fill="#476fe7"/><rect x="661.9" y="856.3" width="10.1" height="13.9" fill="#4772ea"/><rect x="671.4" y="856.3" width="10.1" height="13.9" fill="#4772ea"/><rect x="680.9" y="856.3" width="10.1" height="13.9" fill="#476ee6"/><rect x="690.4" y="856.3" width="10.1" height="13.9" fill="#4667de"/><rect x="700.0" y="856.3" width="10.1" height="13.9" fill="#455fd4"/><rect x="709.5" y="856.3" width="10.1" height="13.9" fill="#4457c8"/><rect x="719.0" y="856.3" width="10.1" height="13.9" fill="#4450bd"/><rect x="728.5" y="856.3" width="10.1" height="13.9" fill="#424ab2"/><rect x="738.0" y="856.3" width="10.1" height="13.9" fill="#4143a8"/><rect x="747.6" y="856.3" width="10.1" height="13.9" fill="#3f3b97"/><rect x="757.1" y="856.3" width="10.1" height="13.9" fill="#3b2f80"/><rect x="766.6" y="856.3" width="10.1" height="13.9" fill="#3b2f80"/><rect x="776.1" y="856.3" width="10.1" height="13.9" fill="#3f3c99"/><rect x="785.6" y="856.3" width="10.1" height="13.9" fill="#4249b2"/><rect x="795.2" y="856.3" width="10.1" height="13.9" fill="#4455c6"/><rect x="804.7" y="856.3" width="10.1" height="13.9" fill="#4662d7"/><rect x="814.2" y="856.3" width="10.1" height="13.9" fill="#466ae2"/><rect x="823.7" y="856.3" width="10.1" height="13.9" fill="#466be3"/><rect x="833.2" y="856.3" width="10.1" height="13.9" fill="#4665dc"/><rect x="842.8" y="856.3" width="10.1" height="13.9" fill="#455acc"/><rect x="852.3" y="856.3" width="10.1" height="13.9" fill="#434eba"/><rect x="861.8" y="856.3" width="10.1" height="13.9" fill="#4146ac"/><rect x="871.3" y="856.3" width="10.1" height="13.9" fill="#4142a5"/><rect x="880.9" y="856.3" width="10.1" height="13.9" fill="#4040a1"/><rect x="890.4" y="856.3" width="10.1" height="13.9" fill="#403fa0"/><rect x="899.9" y="856.3" width="10.1" height="13.9" fill="#403f9f"/><rect x="909.4" y="856.3" width="10.1" height="13.9" fill="#403f9f"/><rect x="918.9" y="856.3" width="10.1" height="13.9" fill="#403f9f"/><rect x="928.5" y="856.3" width="10.1" height="13.9" fill="#403f9f"/><rect x="938.0" y="856.3" width="10.1" height="13.9" fill="#403f9f"/><rect x="528.6" y="869.6" width="10.1" height="13.9" fill="#4145aa"/><rect x="538.1" y="869.6" width="10.1" height="13.9" fill="#424bb4"/><rect x="547.6" y="869.6" width="10.1" height="13.9" fill="#4454c3"/><rect x="557.1" y="869.6" width="10.1" height="13.9" fill="#455acc"/><rect x="566.7" y="869.6" width="10.1" height="13.9" fill="#4456c7"/><rect x="576.2" y="869.6" width="10.1" height="13.9" fill="#4147ae"/><rect x="585.7" y="869.6" width="10.1" height="13.9" fill="#3d348a"/><rect x="595.2" y="869.6" width="10.1" height="13.9" fill="#3b2f7e"/><rect x="604.7" y="869.6" width="10.1" height="13.9" fill="#3f3b97"/><rect x="614.3" y="869.6" width="10.1" height="13.9" fill="#424cb6"/><rect x="623.8" y="869.6" width="10.1" height="13.9" fill="#455acc"/><rect x="633.3" y="869.6" width="10.1" height="13.9" fill="#4664db"/><rect x="642.8" y="869.6" width="10.1" height="13.9" fill="#466ce4"/><rect x="652.3" y="869.6" width="10.1" height="13.9" fill="#4772ea"/><rect x="661.9" y="869.6" width="10.1" height="13.9" fill="#4774ec"/><rect x="671.4" y="869.6" width="10.1" height="13.9" fill="#4773eb"/><rect x="680.9" y="869.6" width="10.1" height="13.9" fill="#476ee6"/><rect x="690.4" y="869.6" width="10.1" height="13.9" fill="#4666dd"/><rect x="700.0" y="869.6" width="10.1" height="13.9" fill="#455ed3"/><rect x="709.5" y="869.6" width="10.1" height="13.9" fill="#4455c6"/><rect x="719.0" y="869.6" width="10.1" height="13.9" fill="#434eba"/><rect x="728.5" y="869.6" width="10.1" height="13.9" fill="#4248b0"/><rect x="738.0" y="869.6" width="10.1" height="13.9" fill="#4041a4"/><rect x="747.6" y="869.6" width="10.1" height="13.9" fill="#3c3388"/><rect x="757.1" y="869.6" width="10.1" height="13.9" fill="#362260"/><rect x="766.6" y="869.6" width="10.1" height="13.9" fill="#362160"/><rect x="776.1" y="869.6" width="10.1" height="13.9" fill="#3d348a"/><rect x="785.6" y="869.6" width="10.1" height="13.9" fill="#4145ab"/><rect x="795.2" y="869.6" width="10.1" height="13.9" fill="#4451bf"/><rect x="804.7" y="869.6" width="10.1" height="13.9" fill="#455ccf"/><rect x="814.2" y="869.6" width="10.1" height="13.9" fill="#4665dc"/><rect x="823.7" y="869.6" width="10.1" height="13.9" fill="#4668df"/><rect x="833.2" y="869.6" width="10.1" height="13.9" fill="#4664da"/><rect x="842.8" y="869.6" width="10.1" height="13.9" fill="#455acc"/><rect x="852.3" y="869.6" width="10.1" height="13.9" fill="#434fbb"/><rect x="861.8" y="869.6" width="10.1" height="13.9" fill="#4147ad"/><rect x="871.3" y="869.6" width="10.1" height="13.9" fill="#4142a5"/><rect x="880.9" y="869.6" width="10.1" height="13.9" fill="#4040a1"/><rect x="890.4" y="869.6" width="10.1" height="13.9" fill="#403fa0"/><rect x="899.9" y="869.6" width="10.1" height="13.9" fill="#403f9f"/><rect x="909.4" y="869.6" width="10.1" height="13.9" fill="#403f9f"/><rect x="918.9" y="869.6" width="10.1" height="13.9" fill="#403f9f"/><rect x="928.5" y="869.6" width="10.1" height="13.9" fill="#403f9f"/><rect x="938.0" y="869.6" width="10.1" height="13.9" fill="#403f9f"/><rect x="528.6" y="883.0" width="10.1" height="13.9" fill="#4147ad"/><rect x="538.1" y="883.0" width="10.1" height="13.9" fill="#434db8"/><rect x="547.6" y="883.0" width="10.1" height="13.9" fill="#4453c2"/><rect x="557.1" y="883.0" width="10.1" height="13.9" fill="#4452c0"/><rect x="566.7" y="883.0" width="10.1" height="13.9" fill="#4146ac"/><rect x="576.2" y="883.0" width="10.1" height="13.9" fill="#3d3489"/><rect x="585.7" y="883.0" width="10.1" height="13.9" fill="#3a2c76"/><rect x="595.2" y="883.0" width="10.1" height="13.9" fill="#3d3489"/><rect x="604.7" y="883.0" width="10.1" height="13.9" fill="#4144a9"/><rect x="614.3" y="883.0" width="10.1" height="13.9" fill="#4453c2"/><rect x="623.8" y="883.0" width="10.1" height="13.9" fill="#455ed2"/><rect x="633.3" y="883.0" width="10.1" height="13.9" fill="#4667de"/><rect x="642.8" y="883.0" width="10.1" height="13.9" fill="#476fe7"/><rect x="652.3" y="883.0" width="10.1" height="13.9" fill="#4775ed"/><rect x="661.9" y="883.0" width="10.1" height="13.9" fill="#4776ee"/><rect x="671.4" y="883.0" width="10.1" height="13.9" fill="#4774ec"/><rect x="680.9" y="883.0" width="10.1" height="13.9" fill="#476ee6"/><rect x="690.4" y="883.0" width="10.1" height="13.9" fill="#4665dc"/><rect x="700.0" y="883.0" width="10.1" height="13.9" fill="#455dd0"/><rect x="709.5" y="883.0" width="10.1" height="13.9" fill="#4454c4"/><rect x="719.0" y="883.0" width="10.1" height="13.9" fill="#434db8"/><rect x="728.5" y="883.0" width="10.1" height="13.9" fill="#4147ae"/><rect x="738.0" y="883.0" width="10.1" height="13.9" fill="#4040a2"/><rect x="747.6" y="883.0" width="10.1" height="13.9" fill="#3c3286"/><rect x="757.1" y="883.0" width="10.1" height="13.9" fill="#351f5b"/><rect x="766.6" y="883.0" width="10.1" height="13.9" fill="#351f5b"/><rect x="776.1" y="883.0" width="10.1" height="13.9" fill="#3c3287"/><rect x="785.6" y="883.0" width="10.1" height="13.9" fill="#4142a6"/><rect x="795.2" y="883.0" width="10.1" height="13.9" fill="#424cb7"/><rect x="804.7" y="883.0" width="10.1" height="13.9" fill="#4456c6"/><rect x="814.2" y="883.0" width="10.1" height="13.9" fill="#455dd2"/><rect x="823.7" y="883.0" width="10.1" height="13.9" fill="#4661d6"/><rect x="833.2" y="883.0" width="10.1" height="13.9" fill="#455dd2"/><rect x="842.8" y="883.0" width="10.1" height="13.9" fill="#4455c6"/><rect x="852.3" y="883.0" width="10.1" height="13.9" fill="#424cb7"/><rect x="861.8" y="883.0" width="10.1" height="13.9" fill="#4146ac"/><rect x="871.3" y="883.0" width="10.1" height="13.9" fill="#4041a4"/><rect x="880.9" y="883.0" width="10.1" height="13.9" fill="#4040a1"/><rect x="890.4" y="883.0" width="10.1" height="13.9" fill="#403fa0"/><rect x="899.9" y="883.0" width="10.1" height="13.9" fill="#403f9f"/><rect x="909.4" y="883.0" width="10.1" height="13.9" fill="#403f9f"/><rect x="918.9" y="883.0" width="10.1" height="13.9" fill="#403f9f"/><rect x="928.5" y="883.0" width="10.1" height="13.9" fill="#403f9f"/><rect x="938.0" y="883.0" width="10.1" height="13.9" fill="#403f9f"/><rect x="528.6" y="896.3" width="10.1" height="13.9" fill="#4248b0"/><rect x="538.1" y="896.3" width="10.1" height="13.9" fill="#424cb7"/><rect x="547.6" y="896.3" width="10.1" height="13.9" fill="#424bb6"/><rect x="557.1" y="896.3" width="10.1" height="13.9" fill="#4142a5"/><rect x="566.7" y="896.3" width="10.1" height="13.9" fill="#3c3287"/><rect x="576.2" y="896.3" width="10.1" height="13.9" fill="#392a72"/><rect x="585.7" y="896.3" width="10.1" height="13.9" fill="#3a2e7c"/><rect x="595.2" y="896.3" width="10.1" height="13.9" fill="#3f3d9a"/><rect x="604.7" y="896.3" width="10.1" height="13.9" fill="#424ab2"/><rect x="614.3" y="896.3" width="10.1" height="13.9" fill="#4454c3"/><rect x="623.8" y="896.3" width="10.1" height="13.9" fill="#455dd1"/><rect x="633.3" y="896.3" width="10.1" height="13.9" fill="#4666dc"/><rect x="642.8" y="896.3" width="10.1" height="13.9" fill="#476de5"/><rect x="652.3" y="896.3" width="10.1" height="13.9" fill="#4772ea"/><rect x="661.9" y="896.3" width="10.1" height="13.9" fill="#4774ec"/><rect x="671.4" y="896.3" width="10.1" height="13.9" fill="#4772ea"/><rect x="680.9" y="896.3" width="10.1" height="13.9" fill="#466ce4"/><rect x="690.4" y="896.3" width="10.1" height="13.9" fill="#4664da"/><rect x="700.0" y="896.3" width="10.1" height="13.9" fill="#455bce"/><rect x="709.5" y="896.3" width="10.1" height="13.9" fill="#4453c2"/><rect x="719.0" y="896.3" width="10.1" height="13.9" fill="#424bb6"/><rect x="728.5" y="896.3" width="10.1" height="13.9" fill="#4146ad"/><rect x="738.0" y="896.3" width="10.1" height="13.9" fill="#4040a1"/><rect x="747.6" y="896.3" width="10.1" height="13.9" fill="#3c3184"/><rect x="757.1" y="896.3" width="10.1" height="13.9" fill="#351f5a"/><rect x="766.6" y="896.3" width="10.1" height="13.9" fill="#351f5b"/><rect x="776.1" y="896.3" width="10.1" height="13.9" fill="#3c3286"/><rect x="785.6" y="896.3" width="10.1" height="13.9" fill="#4040a3"/><rect x="795.2" y="896.3" width="10.1" height="13.9" fill="#4249b1"/><rect x="804.7" y="896.3" width="10.1" height="13.9" fill="#4450be"/><rect x="814.2" y="896.3" width="10.1" height="13.9" fill="#4456c8"/><rect x="823.7" y="896.3" width="10.1" height="13.9" fill="#455acc"/><rect x="833.2" y="896.3" width="10.1" height="13.9" fill="#4457c9"/><rect x="842.8" y="896.3" width="10.1" height="13.9" fill="#4452c0"/><rect x="852.3" y="896.3" width="10.1" height="13.9" fill="#424ab3"/><rect x="861.8" y="896.3" width="10.1" height="13.9" fill="#4145aa"/><rect x="871.3" y="896.3" width="10.1" height="13.9" fill="#4041a4"/><rect x="880.9" y="896.3" width="10.1" height="13.9" fill="#4040a1"/><rect x="890.4" y="896.3" width="10.1" height="13.9" fill="#403fa0"/><rect x="899.9" y="896.3" width="10.1" height="13.9" fill="#403f9f"/><rect x="909.4" y="896.3" width="10.1" height="13.9" fill="#403f9f"/><rect x="918.9" y="896.3" width="10.1" height="13.9" fill="#403f9f"/><rect x="928.5" y="896.3" width="10.1" height="13.9" fill="#403f9f"/><rect x="938.0" y="896.3" width="10.1" height="13.9" fill="#403f9f"/><rect x="490.5" y="909.6" width="10.1" height="13.9" fill="#403fa0"/><rect x="500.0" y="909.6" width="10.1" height="13.9" fill="#4040a1"/><rect x="509.5" y="909.6" width="10.1" height="13.9" fill="#4041a4"/><rect x="519.0" y="909.6" width="10.1" height="13.9" fill="#4144a9"/><rect x="528.6" y="909.6" width="10.1" height="13.9" fill="#4147ae"/><rect x="538.1" y="909.6" width="10.1" height="13.9" fill="#4146ab"/><rect x="547.6" y="909.6" width="10.1" height="13.9" fill="#3f3d9b"/><rect x="557.1" y="909.6" width="10.1" height="13.9" fill="#3b3082"/><rect x="566.7" y="909.6" width="10.1" height="13.9" fill="#392a74"/><rect x="576.2" y="909.6" width="10.1" height="13.9" fill="#3b2f7e"/><rect x="585.7" y="909.6" width="10.1" height="13.9" fill="#3e3994"/><rect x="595.2" y="909.6" width="10.1" height="13.9" fill="#4143a7"/><rect x="604.7" y="909.6" width="10.1" height="13.9" fill="#424bb5"/><rect x="614.3" y="909.6" width="10.1" height="13.9" fill="#4454c3"/><rect x="623.8" y="909.6" width="10.1" height="13.9" fill="#455ccf"/><rect x="633.3" y="909.6" width="10.1" height="13.9" fill="#4664db"/><rect x="642.8" y="909.6" width="10.1" height="13.9" fill="#466be3"/><rect x="652.3" y="909.6" width="10.1" height="13.9" fill="#4771e9"/><rect x="661.9" y="909.6" width="10.1" height="13.9" fill="#4772ea"/><rect x="671.4" y="909.6" width="10.1" height="13.9" fill="#4770e8"/><rect x="680.9" y="909.6" width="10.1" height="13.9" fill="#466ae2"/><rect x="690.4" y="909.6" width="10.1" height="13.9" fill="#4663d8"/><rect x="700.0" y="909.6" width="10.1" height="13.9" fill="#455acc"/><rect x="709.5" y="909.6" width="10.1" height="13.9" fill="#4452c1"/><rect x="719.0" y="909.6" width="10.1" height="13.9" fill="#424bb5"/><rect x="728.5" y="909.6" width="10.1" height="13.9" fill="#4146ac"/><rect x="738.0" y="909.6" width="10.1" height="13.9" fill="#403fa0"/><rect x="747.6" y="909.6" width="10.1" height="13.9" fill="#3b3083"/><rect x="757.1" y="909.6" width="10.1" height="13.9" fill="#351e58"/><rect x="766.6" y="909.6" width="10.1" height="13.9" fill="#351f5a"/><rect x="776.1" y="909.6" width="10.1" height="13.9" fill="#3c3184"/><rect x="785.6" y="909.6" width="10.1" height="13.9" fill="#403f9f"/><rect x="795.2" y="909.6" width="10.1" height="13.9" fill="#4146ab"/><rect x="804.7" y="909.6" width="10.1" height="13.9" fill="#424bb4"/><rect x="814.2" y="909.6" width="10.1" height="13.9" fill="#4450bd"/><rect x="823.7" y="909.6" width="10.1" height="13.9" fill="#4452c1"/><rect x="833.2" y="909.6" width="10.1" height="13.9" fill="#4451bf"/><rect x="842.8" y="909.6" width="10.1" height="13.9" fill="#424cb7"/><rect x="852.3" y="909.6" width="10.1" height="13.9" fill="#4248af"/><rect x="861.8" y="909.6" width="10.1" height="13.9" fill="#4143a7"/><rect x="871.3" y="909.6" width="10.1" height="13.9" fill="#4041a3"/><rect x="880.9" y="909.6" width="10.1" height="13.9" fill="#4040a1"/><rect x="890.4" y="909.6" width="10.1" height="13.9" fill="#403fa0"/><rect x="899.9" y="909.6" width="10.1" height="13.9" fill="#403f9f"/><rect x="909.4" y="909.6" width="10.1" height="13.9" fill="#403f9f"/><rect x="918.9" y="909.6" width="10.1" height="13.9" fill="#403f9f"/><rect x="928.5" y="909.6" width="10.1" height="13.9" fill="#403f9f"/><rect x="938.0" y="909.6" width="10.1" height="13.9" fill="#403f9f"/><rect x="490.5" y="922.9" width="10.1" height="13.9" fill="#403fa0"/><rect x="500.0" y="922.9" width="10.1" height="13.9" fill="#4040a1"/><rect x="509.5" y="922.9" width="10.1" height="13.9" fill="#4041a4"/><rect x="519.0" y="922.9" width="10.1" height="13.9" fill="#4142a5"/><rect x="528.6" y="922.9" width="10.1" height="13.9" fill="#403f9f"/><rect x="538.1" y="922.9" width="10.1" height="13.9" fill="#3e378f"/><rect x="547.6" y="922.9" width="10.1" height="13.9" fill="#3b2e7d"/><rect x="557.1" y="922.9" width="10.1" height="13.9" fill="#3a2c77"/><rect x="566.7" y="922.9" width="10.1" height="13.9" fill="#3c3184"/><rect x="576.2" y="922.9" width="10.1" height="13.9" fill="#3f3a95"/><rect x="585.7" y="922.9" width="10.1" height="13.9" fill="#4041a3"/><rect x="595.2" y="922.9" width="10.1" height="13.9" fill="#4146ad"/><rect x="604.7" y="922.9" width="10.1" height="13.9" fill="#424bb6"/><rect x="614.3" y="922.9" width="10.1" height="13.9" fill="#4453c1"/><rect x="623.8" y="922.9" width="10.1" height="13.9" fill="#455bcd"/><rect x="633.3" y="922.9" width="10.1" height="13.9" fill="#4663d8"/><rect x="642.8" y="922.9" width="10.1" height="13.9" fill="#466ae1"/><rect x="652.3" y="922.9" width="10.1" height="13.9" fill="#476ee6"/><rect x="661.9" y="922.9" width="10.1" height="13.9" fill="#4770e8"/><rect x="671.4" y="922.9" width="10.1" height="13.9" fill="#476de5"/><rect x="680.9" y="922.9" width="10.1" height="13.9" fill="#4668df"/><rect x="690.4" y="922.9" width="10.1" height="13.9" fill="#4661d6"/><rect x="700.0" y="922.9" width="10.1" height="13.9" fill="#4559cb"/><rect x="709.5" y="922.9" width="10.1" height="13.9" fill="#4451bf"/><rect x="719.0" y="922.9" width="10.1" height="13.9" fill="#424ab3"/><rect x="728.5" y="922.9" width="10.1" height="13.9" fill="#4145aa"/><rect x="738.0" y="922.9" width="10.1" height="13.9" fill="#3f3e9b"/><rect x="747.6" y="922.9" width="10.1" height="13.9" fill="#3a2e7c"/><rect x="757.1" y="922.9" width="10.1" height="13.9" fill="#341a50"/><rect x="766.6" y="922.9" width="10.1" height="13.9" fill="#341b52"/><rect x="776.1" y="922.9" width="10.1" height="13.9" fill="#3a2e7c"/><rect x="785.6" y="922.9" width="10.1" height="13.9" fill="#3f3a96"/><rect x="795.2" y="922.9" width="10.1" height="13.9" fill="#403fa0"/><rect x="804.7" y="922.9" width="10.1" height="13.9" fill="#4143a7"/><rect x="814.2" y="922.9" width="10.1" height="13.9" fill="#4147ae"/><rect x="823.7" y="922.9" width="10.1" height="13.9" fill="#424ab2"/><rect x="833.2" y="922.9" width="10.1" height="13.9" fill="#424ab2"/><rect x="842.8" y="922.9" width="10.1" height="13.9" fill="#4147ae"/><rect x="852.3" y="922.9" width="10.1" height="13.9" fill="#4144a9"/><rect x="861.8" y="922.9" width="10.1" height="13.9" fill="#4142a5"/><rect x="871.3" y="922.9" width="10.1" height="13.9" fill="#4040a2"/><rect x="880.9" y="922.9" width="10.1" height="13.9" fill="#403fa0"/><rect x="890.4" y="922.9" width="10.1" height="13.9" fill="#403f9f"/><rect x="899.9" y="922.9" width="10.1" height="13.9" fill="#403f9f"/><rect x="909.4" y="922.9" width="10.1" height="13.9" fill="#403f9f"/><rect x="918.9" y="922.9" width="10.1" height="13.9" fill="#403f9f"/><rect x="928.5" y="922.9" width="10.1" height="13.9" fill="#403f9f"/><rect x="938.0" y="922.9" width="10.1" height="13.9" fill="#403f9f"/><rect x="471.4" y="936.3" width="10.1" height="13.9" fill="#403f9f"/><rect x="481.0" y="936.3" width="10.1" height="13.9" fill="#403fa0"/><rect x="490.5" y="936.3" width="10.1" height="13.9" fill="#403fa0"/><rect x="500.0" y="936.3" width="10.1" height="13.9" fill="#4040a2"/><rect x="509.5" y="936.3" width="10.1" height="13.9" fill="#4041a4"/><rect x="519.0" y="936.3" width="10.1" height="13.9" fill="#403fa0"/><rect x="528.6" y="936.3" width="10.1" height="13.9" fill="#3d368e"/><rect x="538.1" y="936.3" width="10.1" height="13.9" fill="#3a2c78"/><rect x="547.6" y="936.3" width="10.1" height="13.9" fill="#3a2d79"/><rect x="557.1" y="936.3" width="10.1" height="13.9" fill="#3c3388"/><rect x="566.7" y="936.3" width="10.1" height="13.9" fill="#3f3b97"/><rect x="576.2" y="936.3" width="10.1" height="13.9" fill="#4040a1"/><rect x="585.7" y="936.3" width="10.1" height="13.9" fill="#4143a7"/><rect x="595.2" y="936.3" width="10.1" height="13.9" fill="#4147ad"/><rect x="604.7" y="936.3" width="10.1" height="13.9" fill="#424bb5"/><rect x="614.3" y="936.3" width="10.1" height="13.9" fill="#4452c0"/><rect x="623.8" y="936.3" width="10.1" height="13.9" fill="#4559cb"/><rect x="633.3" y="936.3" width="10.1" height="13.9" fill="#4661d6"/><rect x="642.8" y="936.3" width="10.1" height="13.9" fill="#4668df"/><rect x="652.3" y="936.3" width="10.1" height="13.9" fill="#466ce4"/><rect x="661.9" y="936.3" width="10.1" height="13.9" fill="#476de5"/><rect x="671.4" y="936.3" width="10.1" height="13.9" fill="#466be3"/><rect x="680.9" y="936.3" width="10.1" height="13.9" fill="#4666dd"/><rect x="690.4" y="936.3" width="10.1" height="13.9" fill="#455fd4"/><rect x="700.0" y="936.3" width="10.1" height="13.9" fill="#4457c9"/><rect x="709.5" y="936.3" width="10.1" height="13.9" fill="#4450bd"/><rect x="719.0" y="936.3" width="10.1" height="13.9" fill="#4249b1"/><rect x="728.5" y="936.3" width="10.1" height="13.9" fill="#4142a5"/><rect x="738.0" y="936.3" width="10.1" height="13.9" fill="#3e3892"/><rect x="747.6" y="936.3" width="10.1" height="13.9" fill="#38266b"/><rect x="757.1" y="936.3" width="10.1" height="13.9" fill="#341a4e"/><rect x="766.6" y="936.3" width="10.1" height="13.9" fill="#341a4e"/><rect x="776.1" y="936.3" width="10.1" height="13.9" fill="#372365"/><rect x="785.6" y="936.3" width="10.1" height="13.9" fill="#3b2f80"/><rect x="795.2" y="936.3" width="10.1" height="13.9" fill="#3d3489"/><rect x="804.7" y="936.3" width="10.1" height="13.9" fill="#3e378e"/><rect x="814.2" y="936.3" width="10.1" height="13.9" fill="#3f3a95"/><rect x="823.7" y="936.3" width="10.1" height="13.9" fill="#3f3c99"/><rect x="833.2" y="936.3" width="10.1" height="13.9" fill="#3f3d9b"/><rect x="842.8" y="936.3" width="10.1" height="13.9" fill="#3f3e9b"/><rect x="852.3" y="936.3" width="10.1" height="13.9" fill="#3f3e9c"/><rect x="861.8" y="936.3" width="10.1" height="13.9" fill="#3f3f9e"/><rect x="871.3" y="936.3" width="10.1" height="13.9" fill="#3f3f9e"/><rect x="880.9" y="936.3" width="10.1" height="13.9" fill="#3f3f9f"/><rect x="890.4" y="936.3" width="10.1" height="13.9" fill="#403f9f"/><rect x="899.9" y="936.3" width="10.1" height="13.9" fill="#403f9f"/><rect x="909.4" y="936.3" width="10.1" height="13.9" fill="#403f9f"/><rect x="918.9" y="936.3" width="10.1" height="13.9" fill="#403f9f"/><rect x="928.5" y="936.3" width="10.1" height="13.9" fill="#403f9f"/><rect x="938.0" y="936.3" width="10.1" height="13.9" fill="#403f9f"/><rect x="471.4" y="949.6" width="10.1" height="13.9" fill="#403f9f"/><rect x="481.0" y="949.6" width="10.1" height="13.9" fill="#403fa0"/><rect x="490.5" y="949.6" width="10.1" height="13.9" fill="#403fa0"/><rect x="500.0" y="949.6" width="10.1" height="13.9" fill="#4040a2"/><rect x="509.5" y="949.6" width="10.1" height="13.9" fill="#4041a4"/><rect x="519.0" y="949.6" width="10.1" height="13.9" fill="#4041a4"/><rect x="528.6" y="949.6" width="10.1" height="13.9" fill="#3f3e9c"/><rect x="538.1" y="949.6" width="10.1" height="13.9" fill="#3e3890"/><rect x="547.6" y="949.6" width="10.1" height="13.9" fill="#3e378f"/><rect x="557.1" y="949.6" width="10.1" height="13.9" fill="#3f3c99"/><rect x="566.7" y="949.6" width="10.1" height="13.9" fill="#403fa0"/><rect x="576.2" y="949.6" width="10.1" height="13.9" fill="#4041a3"/><rect x="585.7" y="949.6" width="10.1" height="13.9" fill="#4143a7"/><rect x="595.2" y="949.6" width="10.1" height="13.9" fill="#4146ad"/><rect x="604.7" y="949.6" width="10.1" height="13.9" fill="#424bb4"/><rect x="614.3" y="949.6" width="10.1" height="13.9" fill="#4451bf"/><rect x="623.8" y="949.6" width="10.1" height="13.9" fill="#4558ca"/><rect x="633.3" y="949.6" width="10.1" height="13.9" fill="#455fd4"/><rect x="642.8" y="949.6" width="10.1" height="13.9" fill="#4666dd"/><rect x="652.3" y="949.6" width="10.1" height="13.9" fill="#466ae2"/><rect x="661.9" y="949.6" width="10.1" height="13.9" fill="#466be3"/><rect x="671.4" y="949.6" width="10.1" height="13.9" fill="#466ae1"/><rect x="680.9" y="949.6" width="10.1" height="13.9" fill="#4665db"/><rect x="690.4" y="949.6" width="10.1" height="13.9" fill="#455ed2"/><rect x="700.0" y="949.6" width="10.1" height="13.9" fill="#4456c7"/><rect x="709.5" y="949.6" width="10.1" height="13.9" fill="#434fbb"/><rect x="719.0" y="949.6" width="10.1" height="13.9" fill="#4248b0"/><rect x="728.5" y="949.6" width="10.1" height="13.9" fill="#4041a3"/><rect x="738.0" y="949.6" width="10.1" height="13.9" fill="#3e3790"/><rect x="747.6" y="949.6" width="10.1" height="13.9" fill="#38266c"/><rect x="757.1" y="949.6" width="10.1" height="13.9" fill="#341a4e"/><rect x="766.6" y="949.6" width="10.1" height="13.9" fill="#341a4e"/><rect x="776.1" y="949.6" width="10.1" height="13.9" fill="#362262"/><rect x="785.6" y="949.6" width="10.1" height="13.9" fill="#3a2c78"/><rect x="795.2" y="949.6" width="10.1" height="13.9" fill="#3b2f7f"/><rect x="804.7" y="949.6" width="10.1" height="13.9" fill="#3b3082"/><rect x="814.2" y="949.6" width="10.1" height="13.9" fill="#3c3285"/><rect x="823.7" y="949.6" width="10.1" height="13.9" fill="#3c3388"/><rect x="833.2" y="949.6" width="10.1" height="13.9" fill="#3d358b"/><rect x="842.8" y="949.6" width="10.1" height="13.9" fill="#3e378f"/><rect x="852.3" y="949.6" width="10.1" height="13.9" fill="#3f3a95"/><rect x="861.8" y="949.6" width="10.1" height="13.9" fill="#3f3d9a"/><rect x="871.3" y="949.6" width="10.1" height="13.9" fill="#3f3e9c"/><rect x="880.9" y="949.6" width="10.1" height="13.9" fill="#3f3f9e"/><rect x="890.4" y="949.6" width="10.1" height="13.9" fill="#3f3f9f"/><rect x="899.9" y="949.6" width="10.1" height="13.9" fill="#403f9f"/><rect x="909.4" y="949.6" width="10.1" height="13.9" fill="#403f9f"/><rect x="918.9" y="949.6" width="10.1" height="13.9" fill="#403f9f"/><rect x="928.5" y="949.6" width="10.1" height="13.9" fill="#403f9f"/><rect x="938.0" y="949.6" width="10.1" height="13.9" fill="#403f9f"/><rect x="471.4" y="962.9" width="10.1" height="13.9" fill="#403f9f"/><rect x="481.0" y="962.9" width="10.1" height="13.9" fill="#403f9f"/><rect x="490.5" y="962.9" width="10.1" height="13.9" fill="#403fa0"/><rect x="500.0" y="962.9" width="10.1" height="13.9" fill="#4040a1"/><rect x="509.5" y="962.9" width="10.1" height="13.9" fill="#4040a2"/><rect x="519.0" y="962.9" width="10.1" height="13.9" fill="#4041a4"/><rect x="528.6" y="962.9" width="10.1" height="13.9" fill="#4041a3"/><rect x="538.1" y="962.9" width="10.1" height="13.9" fill="#4040a1"/><rect x="547.6" y="962.9" width="10.1" height="13.9" fill="#403fa0"/><rect x="557.1" y="962.9" width="10.1" height="13.9" fill="#403fa0"/><rect x="566.7" y="962.9" width="10.1" height="13.9" fill="#4040a1"/><rect x="576.2" y="962.9" width="10.1" height="13.9" fill="#4041a3"/><rect x="585.7" y="962.9" width="10.1" height="13.9" fill="#4142a6"/><rect x="595.2" y="962.9" width="10.1" height="13.9" fill="#4145ab"/><rect x="604.7" y="962.9" width="10.1" height="13.9" fill="#4249b2"/><rect x="614.3" y="962.9" width="10.1" height="13.9" fill="#434eba"/><rect x="623.8" y="962.9" width="10.1" height="13.9" fill="#4455c4"/><rect x="633.3" y="962.9" width="10.1" height="13.9" fill="#455bce"/><rect x="642.8" y="962.9" width="10.1" height="13.9" fill="#4661d6"/><rect x="652.3" y="962.9" width="10.1" height="13.9" fill="#4665db"/><rect x="661.9" y="962.9" width="10.1" height="13.9" fill="#4665dc"/><rect x="671.4" y="962.9" width="10.1" height="13.9" fill="#4664da"/><rect x="680.9" y="962.9" width="10.1" height="13.9" fill="#455fd4"/><rect x="690.4" y="962.9" width="10.1" height="13.9" fill="#455acc"/><rect x="700.0" y="962.9" width="10.1" height="13.9" fill="#4453c2"/><rect x="709.5" y="962.9" width="10.1" height="13.9" fill="#424cb7"/><rect x="719.0" y="962.9" width="10.1" height="13.9" fill="#4146ad"/><rect x="728.5" y="962.9" width="10.1" height="13.9" fill="#4040a2"/><rect x="738.0" y="962.9" width="10.1" height="13.9" fill="#3e3994"/><rect x="747.6" y="962.9" width="10.1" height="13.9" fill="#3c3183"/><rect x="757.1" y="962.9" width="10.1" height="13.9" fill="#392a74"/><rect x="766.6" y="962.9" width="10.1" height="13.9" fill="#392970"/><rect x="776.1" y="962.9" width="10.1" height="13.9" fill="#392b76"/><rect x="785.6" y="962.9" width="10.1" height="13.9" fill="#3a2d7a"/><rect x="795.2" y="962.9" width="10.1" height="13.9" fill="#3a2e7c"/><rect x="804.7" y="962.9" width="10.1" height="13.9" fill="#3b2e7d"/><rect x="814.2" y="962.9" width="10.1" height="13.9" fill="#3b2f7f"/><rect x="823.7" y="962.9" width="10.1" height="13.9" fill="#3b2f81"/><rect x="833.2" y="962.9" width="10.1" height="13.9" fill="#3c3184"/><rect x="842.8" y="962.9" width="10.1" height="13.9" fill="#3d3489"/><rect x="852.3" y="962.9" width="10.1" height="13.9" fill="#3e3891"/><rect x="861.8" y="962.9" width="10.1" height="13.9" fill="#3f3c98"/><rect x="871.3" y="962.9" width="10.1" height="13.9" fill="#3f3e9c"/><rect x="880.9" y="962.9" width="10.1" height="13.9" fill="#3f3f9e"/><rect x="890.4" y="962.9" width="10.1" height="13.9" fill="#3f3f9f"/><rect x="899.9" y="962.9" width="10.1" height="13.9" fill="#403f9f"/><rect x="909.4" y="962.9" width="10.1" height="13.9" fill="#403f9f"/><rect x="918.9" y="962.9" width="10.1" height="13.9" fill="#403f9f"/><rect x="928.5" y="962.9" width="10.1" height="13.9" fill="#403f9f"/><rect x="938.0" y="962.9" width="10.1" height="13.9" fill="#403f9f"/><rect x="471.4" y="976.3" width="10.1" height="13.9" fill="#403f9f"/><rect x="481.0" y="976.3" width="10.1" height="13.9" fill="#403f9f"/><rect x="490.5" y="976.3" width="10.1" height="13.9" fill="#403f9f"/><rect x="500.0" y="976.3" width="10.1" height="13.9" fill="#403fa0"/><rect x="509.5" y="976.3" width="10.1" height="13.9" fill="#403fa0"/><rect x="519.0" y="976.3" width="10.1" height="13.9" fill="#4040a1"/><rect x="528.6" y="976.3" width="10.1" height="13.9" fill="#4040a1"/><rect x="538.1" y="976.3" width="10.1" height="13.9" fill="#4040a1"/><rect x="547.6" y="976.3" width="10.1" height="13.9" fill="#403fa0"/><rect x="557.1" y="976.3" width="10.1" height="13.9" fill="#403fa0"/><rect x="566.7" y="976.3" width="10.1" height="13.9" fill="#4040a1"/><rect x="576.2" y="976.3" width="10.1" height="13.9" fill="#4040a2"/><rect x="585.7" y="976.3" width="10.1" height="13.9" fill="#4041a4"/><rect x="595.2" y="976.3" width="10.1" height="13.9" fill="#4144a8"/><rect x="604.7" y="976.3" width="10.1" height="13.9" fill="#4147ad"/><rect x="614.3" y="976.3" width="10.1" height="13.9" fill="#424ab3"/><rect x="623.8" y="976.3" width="10.1" height="13.9" fill="#434fbc"/><rect x="633.3" y="976.3" width="10.1" height="13.9" fill="#4454c3"/><rect x="642.8" y="976.3" width="10.1" height="13.9" fill="#4558c9"/><rect x="652.3" y="976.3" width="10.1" height="13.9" fill="#455bce"/><rect x="661.9" y="976.3" width="10.1" height="13.9" fill="#455ccf"/><rect x="671.4" y="976.3" width="10.1" height="13.9" fill="#455bcd"/><rect x="680.9" y="976.3" width="10.1" height="13.9" fill="#4457c8"/><rect x="690.4" y="976.3" width="10.1" height="13.9" fill="#4453c2"/><rect x="700.0" y="976.3" width="10.1" height="13.9" fill="#434eb9"/><rect x="709.5" y="976.3" width="10.1" height="13.9" fill="#4249b1"/><rect x="719.0" y="976.3" width="10.1" height="13.9" fill="#4144a8"/><rect x="728.5" y="976.3" width="10.1" height="13.9" fill="#3f3f9f"/><rect x="738.0" y="976.3" width="10.1" height="13.9" fill="#3e3994"/><rect x="747.6" y="976.3" width="10.1" height="13.9" fill="#3d3489"/><rect x="757.1" y="976.3" width="10.1" height="13.9" fill="#3b3081"/><rect x="766.6" y="976.3" width="10.1" height="13.9" fill="#3b2e7d"/><rect x="776.1" y="976.3" width="10.1" height="13.9" fill="#3a2e7b"/><rect x="785.6" y="976.3" width="10.1" height="13.9" fill="#3a2e7b"/><rect x="795.2" y="976.3" width="10.1" height="13.9" fill="#3a2e7b"/><rect x="804.7" y="976.3" width="10.1" height="13.9" fill="#3a2e7b"/><rect x="814.2" y="976.3" width="10.1" height="13.9" fill="#3a2e7c"/><rect x="823.7" y="976.3" width="10.1" height="13.9" fill="#3b2e7e"/><rect x="833.2" y="976.3" width="10.1" height="13.9" fill="#3b3082"/><rect x="842.8" y="976.3" width="10.1" height="13.9" fill="#3c3388"/><rect x="852.3" y="976.3" width="10.1" height="13.9" fill="#3e3790"/><rect x="861.8" y="976.3" width="10.1" height="13.9" fill="#3f3b97"/><rect x="871.3" y="976.3" width="10.1" height="13.9" fill="#3f3e9b"/><rect x="880.9" y="976.3" width="10.1" height="13.9" fill="#3f3f9e"/><rect x="890.4" y="976.3" width="10.1" height="13.9" fill="#3f3f9f"/><rect x="899.9" y="976.3" width="10.1" height="13.9" fill="#403f9f"/><rect x="909.4" y="976.3" width="10.1" height="13.9" fill="#403f9f"/><rect x="918.9" y="976.3" width="10.1" height="13.9" fill="#403f9f"/><rect x="928.5" y="976.3" width="10.1" height="13.9" fill="#403f9f"/><rect x="938.0" y="976.3" width="10.1" height="13.9" fill="#403f9f"/><rect x="471.4" y="989.6" width="10.1" height="13.9" fill="#403f9f"/><rect x="481.0" y="989.6" width="10.1" height="13.9" fill="#403f9f"/><rect x="490.5" y="989.6" width="10.1" height="13.9" fill="#403f9f"/><rect x="500.0" y="989.6" width="10.1" height="13.9" fill="#403f9f"/><rect x="509.5" y="989.6" width="10.1" height="13.9" fill="#403f9f"/><rect x="519.0" y="989.6" width="10.1" height="13.9" fill="#403fa0"/><rect x="528.6" y="989.6" width="10.1" height="13.9" fill="#403fa0"/><rect x="538.1" y="989.6" width="10.1" height="13.9" fill="#403fa0"/><rect x="547.6" y="989.6" width="10.1" height="13.9" fill="#403fa0"/><rect x="557.1" y="989.6" width="10.1" height="13.9" fill="#403fa0"/><rect x="566.7" y="989.6" width="10.1" height="13.9" fill="#403fa0"/><rect x="576.2" y="989.6" width="10.1" height="13.9" fill="#4040a1"/><rect x="585.7" y="989.6" width="10.1" height="13.9" fill="#4040a3"/><rect x="595.2" y="989.6" width="10.1" height="13.9" fill="#4142a5"/><rect x="604.7" y="989.6" width="10.1" height="13.9" fill="#4144a8"/><rect x="614.3" y="989.6" width="10.1" height="13.9" fill="#4146ad"/><rect x="623.8" y="989.6" width="10.1" height="13.9" fill="#4249b2"/><rect x="633.3" y="989.6" width="10.1" height="13.9" fill="#424cb6"/><rect x="642.8" y="989.6" width="10.1" height="13.9" fill="#434fbb"/><rect x="652.3" y="989.6" width="10.1" height="13.9" fill="#4451bf"/><rect x="661.9" y="989.6" width="10.1" height="13.9" fill="#4451c0"/><rect x="671.4" y="989.6" width="10.1" height="13.9" fill="#4451be"/><rect x="680.9" y="989.6" width="10.1" height="13.9" fill="#434eba"/><rect x="690.4" y="989.6" width="10.1" height="13.9" fill="#424bb5"/><rect x="700.0" y="989.6" width="10.1" height="13.9" fill="#4249b0"/><rect x="709.5" y="989.6" width="10.1" height="13.9" fill="#4145aa"/><rect x="719.0" y="989.6" width="10.1" height="13.9" fill="#4041a4"/><rect x="728.5" y="989.6" width="10.1" height="13.9" fill="#3f3e9c"/><rect x="738.0" y="989.6" width="10.1" height="13.9" fill="#3e3992"/><rect x="747.6" y="989.6" width="10.1" height="13.9" fill="#3c3388"/><rect x="757.1" y="989.6" width="10.1" height="13.9" fill="#3b3082"/><rect x="766.6" y="989.6" width="10.1" height="13.9" fill="#3b2e7e"/><rect x="776.1" y="989.6" width="10.1" height="13.9" fill="#3a2e7c"/><rect x="785.6" y="989.6" width="10.1" height="13.9" fill="#3a2e7b"/><rect x="795.2" y="989.6" width="10.1" height="13.9" fill="#3a2d7b"/><rect x="804.7" y="989.6" width="10.1" height="13.9" fill="#3a2e7b"/><rect x="814.2" y="989.6" width="10.1" height="13.9" fill="#3a2e7c"/><rect x="823.7" y="989.6" width="10.1" height="13.9" fill="#3b2e7d"/><rect x="833.2" y="989.6" width="10.1" height="13.9" fill="#3b3081"/><rect x="842.8" y="989.6" width="10.1" height="13.9" fill="#3c3387"/><rect x="852.3" y="989.6" width="10.1" height="13.9" fill="#3e378f"/><rect x="861.8" y="989.6" width="10.1" height="13.9" fill="#3f3b97"/><rect x="871.3" y="989.6" width="10.1" height="13.9" fill="#3f3e9b"/><rect x="880.9" y="989.6" width="10.1" height="13.9" fill="#3f3f9e"/><rect x="890.4" y="989.6" width="10.1" height="13.9" fill="#3f3f9f"/><rect x="899.9" y="989.6" width="10.1" height="13.9" fill="#403f9f"/><rect x="909.4" y="989.6" width="10.1" height="13.9" fill="#403f9f"/><rect x="918.9" y="989.6" width="10.1" height="13.9" fill="#403f9f"/><rect x="928.5" y="989.6" width="10.1" height="13.9" fill="#403f9f"/><rect x="938.0" y="989.6" width="10.1" height="13.9" fill="#403f9f"/><rect x="471.4" y="1002.9" width="10.1" height="13.9" fill="#403f9f"/><rect x="481.0" y="1002.9" width="10.1" height="13.9" fill="#403f9f"/><rect x="490.5" y="1002.9" width="10.1" height="13.9" fill="#403f9f"/><rect x="500.0" y="1002.9" width="10.1" height="13.9" fill="#403f9f"/><rect x="509.5" y="1002.9" width="10.1" height="13.9" fill="#403f9f"/><rect x="519.0" y="1002.9" width="10.1" height="13.9" fill="#403f9f"/><rect x="528.6" y="1002.9" width="10.1" height="13.9" fill="#403f9f"/><rect x="538.1" y="1002.9" width="10.1" height="13.9" fill="#403f9f"/><rect x="547.6" y="1002.9" width="10.1" height="13.9" fill="#403f9f"/><rect x="557.1" y="1002.9" width="10.1" height="13.9" fill="#403fa0"/><rect x="566.7" y="1002.9" width="10.1" height="13.9" fill="#403fa0"/><rect x="576.2" y="1002.9" width="10.1" height="13.9" fill="#403fa0"/><rect x="585.7" y="1002.9" width="10.1" height="13.9" fill="#4040a1"/><rect x="595.2" y="1002.9" width="10.1" height="13.9" fill="#4040a3"/><rect x="604.7" y="1002.9" width="10.1" height="13.9" fill="#4041a4"/><rect x="614.3" y="1002.9" width="10.1" height="13.9" fill="#4143a7"/><rect x="623.8" y="1002.9" width="10.1" height="13.9" fill="#4145aa"/><rect x="633.3" y="1002.9" width="10.1" height="13.9" fill="#4146ad"/><rect x="642.8" y="1002.9" width="10.1" height="13.9" fill="#4248af"/><rect x="652.3" y="1002.9" width="10.1" height="13.9" fill="#4249b1"/><rect x="661.9" y="1002.9" width="10.1" height="13.9" fill="#4249b1"/><rect x="671.4" y="1002.9" width="10.1" height="13.9" fill="#4249b1"/><rect x="680.9" y="1002.9" width="10.1" height="13.9" fill="#4248af"/><rect x="690.4" y="1002.9" width="10.1" height="13.9" fill="#4146ac"/><rect x="700.0" y="1002.9" width="10.1" height="13.9" fill="#4144a8"/><rect x="709.5" y="1002.9" width="10.1" height="13.9" fill="#4142a5"/><rect x="719.0" y="1002.9" width="10.1" height="13.9" fill="#403fa0"/><rect x="728.5" y="1002.9" width="10.1" height="13.9" fill="#3f3d9a"/><rect x="738.0" y="1002.9" width="10.1" height="13.9" fill="#3e3891"/><rect x="747.6" y="1002.9" width="10.1" height="13.9" fill="#3c3388"/><rect x="757.1" y="1002.9" width="10.1" height="13.9" fill="#3b3081"/><rect x="766.6" y="1002.9" width="10.1" height="13.9" fill="#3b2e7d"/><rect x="776.1" y="1002.9" width="10.1" height="13.9" fill="#3a2e7c"/><rect x="785.6" y="1002.9" width="10.1" height="13.9" fill="#3a2e7b"/><rect x="795.2" y="1002.9" width="10.1" height="13.9" fill="#3a2d7b"/><rect x="804.7" y="1002.9" width="10.1" height="13.9" fill="#3a2e7b"/><rect x="814.2" y="1002.9" width="10.1" height="13.9" fill="#3a2e7c"/><rect x="823.7" y="1002.9" width="10.1" height="13.9" fill="#3b2e7d"/><rect x="833.2" y="1002.9" width="10.1" height="13.9" fill="#3b3081"/><rect x="842.8" y="1002.9" width="10.1" height="13.9" fill="#3c3387"/><rect x="852.3" y="1002.9" width="10.1" height="13.9" fill="#3e378f"/><rect x="861.8" y="1002.9" width="10.1" height="13.9" fill="#3f3b97"/><rect x="871.3" y="1002.9" width="10.1" height="13.9" fill="#3f3e9b"/><rect x="880.9" y="1002.9" width="10.1" height="13.9" fill="#3f3f9e"/><rect x="890.4" y="1002.9" width="10.1" height="13.9" fill="#3f3f9f"/><rect x="899.9" y="1002.9" width="10.1" height="13.9" fill="#403f9f"/><rect x="909.4" y="1002.9" width="10.1" height="13.9" fill="#403f9f"/><rect x="918.9" y="1002.9" width="10.1" height="13.9" fill="#403f9f"/><rect x="928.5" y="1002.9" width="10.1" height="13.9" fill="#403f9f"/><rect x="938.0" y="1002.9" width="10.1" height="13.9" fill="#403f9f"/></g>
<!--LAND-->
<path d="M99.0 149.0L99.0 279.1L101.8 279.1L105.5 279.6L109.1 280.9L112.7 281.5L115.5 280.0L114.2 276.4L112.7 273.6L114.5 269.1L118.2 263.6L122.7 257.3L127.3 253.6L133.6 251.3L141.8 250.0L148.2 249.1L151.5 252.7L149.5 257.3L148.7 260.4L151.8 258.2L158.2 257.3L160.9 259.1L162.7 261.5L168.2 259.1L169.6 260.0L165.5 263.3L163.6 265.5L165.8 268.2L170.0 270.9L172.7 273.3L178.2 273.6L182.7 273.1L185.1 274.5L184.5 276.7L180.0 276.0L175.5 276.7L172.4 279.1L170.5 283.6L167.3 284.2L162.7 284.9L160.0 286.9L159.3 294.5L159.6 301.8L161.5 305.8L165.5 307.6L170.9 306.4L176.4 304.0L185.5 299.6L198.2 294.0L212.7 288.2L227.3 282.7L240.0 276.9L250.9 271.3L258.2 267.3L270.0 262.2L271.8 261.8L272.7 264.5L274.2 267.6L273.1 271.8L274.2 273.6L275.6 272.4L276.7 267.6L279.1 265.5L280.4 263.3L279.1 260.4L281.8 256.4L290.9 252.4L300.0 249.1L300.9 248.7L313.6 244.5L326.4 241.5L344.5 238.5L362.7 236.7L380.9 236.0L391.8 236.0L402.7 237.3L409.1 238.7L410.4 234.5L409.1 230.0L406.4 225.1L402.7 222.2L399.1 220.9L396.4 219.1L391.8 219.1L386.4 219.6L381.8 218.5L380.0 215.5L375.5 213.6L370.9 214.2L368.2 212.7L366.7 209.1L368.5 205.8L370.9 206.4L371.8 209.1L375.5 208.7L380.9 208.2L385.5 209.1L388.2 211.8L392.7 212.4L396.4 210.9L399.1 212.7L401.8 210.0L401.3 207.3L406.4 207.6L410.9 206.4L413.6 204.5L416.4 207.3L416.9 210.0L413.6 210.5L415.5 213.6L417.3 216.4L419.1 220.9L423.6 224.5L429.1 227.6L434.5 233.5L437.8 235.5L442.7 236.4L445.2 236.8L447.2 239.6L450.9 242.1L454.6 243.7L458.3 244.1L456.6 245.8L454.2 245.4L450.1 243.3L446.0 241.7L441.1 240.5L437.0 239.6L434.5 241.3L436.2 243.3L441.1 246.2L446.8 250.3L455.8 256.8L463.2 263.4L469.7 269.1L475.5 273.2L483.6 276.1L491.8 276.9L494.5 276.7L501.8 274.5L507.3 270.0L512.7 264.5L519.1 260.9L523.6 260.4L529.1 261.5L534.5 260.9L540.0 258.2L541.8 257.0L547.8 253.2L550.9 252.1L551.6 245.5L551.3 240.1L552.3 234.6L551.5 228.1L550.5 222.6L551.1 219.9L552.5 219.6L553.7 223.7L554.9 229.2L556.2 233.0L555.2 236.8L553.9 241.2L554.3 246.6L554.9 251.5L558.2 252.6L562.0 252.1L563.6 253.7L562.0 257.5L565.8 255.9L567.1 254.8L567.8 258.1L565.3 261.4L568.0 265.7L570.7 270.6L574.5 274.5L576.2 269.5L576.7 263.0L577.3 269.5L577.8 274.8L585.5 275.2L594.2 275.0L600.2 277.7L601.8 281.5L605.5 285.1L607.3 282.7L608.2 276.4L609.5 270.0L610.9 268.2L611.6 272.7L611.3 280.0L610.5 287.3L611.8 294.5L612.4 299.1L611.3 303.6L609.5 302.7L610.0 296.4L608.7 289.1L615.5 293.6L623.6 294.9L630.9 294.5L632.2 293.5L636.5 290.3L642.0 284.8L645.3 278.3L646.4 271.7L645.3 266.3L643.6 260.8L642.0 259.2L646.4 259.7L647.5 264.1L648.5 267.4L654.0 265.7L662.7 266.3L663.8 271.7L664.0 276.1L667.1 277.2L671.5 274.5L675.8 270.1L678.5 266.8L681.3 264.6L682.9 263.0L682.1 261.4L679.6 261.9L677.5 264.6L675.3 266.3L674.5 261.9L674.2 256.5L672.5 252.1L668.7 248.8L665.8 247.2L665.5 243.4L667.6 241.0L669.8 242.8L673.1 244.2L675.3 240.6L677.5 238.5L679.6 239.0L680.2 242.3L682.4 244.5L682.1 238.5L684.5 235.7L687.8 235.2L689.5 232.5L691.3 231.4L690.5 236.3L689.5 240.6L691.6 238.5L693.8 234.1L695.5 227.5L698.5 224.3L701.5 225.9L703.3 229.2L706.4 226.5L709.6 227.0L713.5 230.3L717.3 233.0L720.0 236.8L720.5 241.2L718.4 243.4L720.5 244.5L721.9 247.7L720.0 251.0L720.3 253.2L723.3 254.1L726.0 251.5L727.1 245.5L728.7 241.2L731.5 238.5L734.7 237.9L737.5 239.5L740.2 241.2L743.5 241.7L746.7 243.6L750.0 244.5L751.8 244.5L755.8 246.4L760.9 247.6L766.4 250.9L771.8 253.6L777.3 257.8L779.1 260.9L784.5 259.1L790.9 258.2L797.3 257.8L799.5 258.5L793.6 259.6L792.2 265.5L791.5 272.7L788.2 274.5L789.1 280.0L787.3 283.6L788.2 290.9L790.0 295.5L793.6 294.5L799.1 290.9L804.5 289.1L810.9 288.2L815.5 285.5L818.2 281.8L815.5 283.6L811.8 280.0L810.0 276.4L811.8 275.5L814.5 280.9L817.3 282.7L820.9 278.2L820.0 273.6L822.7 271.8L824.9 273.6L824.5 278.2L821.8 282.7L818.2 287.3L816.9 291.8L818.2 296.4L820.0 299.1L821.3 301.8L823.1 295.5L826.4 287.3L830.9 278.2L834.5 269.1L838.2 256.4L840.0 245.5L840.9 232.7L841.8 220.0L842.4 209.1L841.8 200.0L841.5 147.3ZM99.0 280.9L101.8 280.9L104.5 280.9L108.2 282.2L112.7 283.3L117.3 282.2L120.0 280.4L123.6 278.2L128.2 275.8L132.7 275.1L136.4 276.9L140.0 280.9L142.7 287.3L143.6 294.5L141.8 300.9L137.3 307.6L130.9 313.6L122.7 319.6L115.5 326.4L108.2 335.5L101.8 340.0L99.0 340.0ZM394.0 238.5L399.1 240.0L408.2 244.0L417.3 248.2L425.5 251.8L430.0 256.4L432.7 261.8L431.8 264.7L428.2 263.3L422.7 259.3L414.5 253.8L405.5 248.4L398.7 244.2L394.4 241.3ZM562.7 280.0L567.3 277.8L575.5 276.7L577.3 280.9L578.2 286.4L581.8 291.8L585.5 296.4L588.2 300.0L586.4 301.5L582.7 298.2L579.1 293.6L574.5 294.5L570.0 292.7L565.5 288.2L563.3 283.6ZM562.2 310.0L564.5 309.1L567.3 311.8L568.7 314.9L567.3 316.7L564.0 316.0L562.7 312.7ZM588.7 304.0L591.3 303.3L592.7 305.1L590.9 306.5L588.7 305.8ZM544.5 259.2L546.7 256.5L550.5 254.3L551.6 255.9L548.9 258.6L546.2 261.4ZM550.0 267.1L550.9 260.8L552.5 258.1L554.4 260.8L556.0 265.4L552.7 267.6ZM556.5 263.0L558.2 258.6L560.9 255.4L563.1 255.9L562.0 259.7L559.3 263.0ZM701.5 235.7L705.3 235.2L710.2 236.3L710.5 238.1L707.5 239.5L702.5 239.0ZM676.4 247.7L678.5 246.6L679.6 248.8L677.5 250.1ZM649.6 290.3L653.5 289.2L655.6 290.8L654.5 293.0L651.3 293.3ZM730.9 251.5L733.6 251.2L734.2 253.2L731.5 253.7ZM752.7 253.6L755.1 253.6L755.5 260.0L754.5 267.3L755.5 274.5L755.8 281.8L755.1 290.0L752.7 290.9L750.9 287.3L748.2 284.5L747.3 280.0L750.0 278.2L748.5 272.7L750.0 267.3L750.9 260.0L751.8 255.5ZM769.1 291.8L773.6 290.5L775.8 292.4L774.5 294.5L770.9 294.9ZM778.7 291.8L780.9 291.8L781.6 295.5L779.5 296.0ZM783.6 282.7L785.5 282.7L785.8 285.5L784.0 285.8ZM715.3 363.0L718.1 361.5L722.9 362.6L730.5 363.0L738.2 362.0L745.8 359.2L753.5 356.3L763.0 353.8L772.5 351.9L782.1 350.0L791.6 348.1L803.1 346.8L814.5 344.9L820.3 343.9L824.1 345.8L827.0 344.9L825.0 340.1L827.9 339.1L830.8 341.0L832.7 337.2L835.5 337.2L837.5 340.1L841.3 342.0L847.0 344.9L852.7 347.7L856.5 350.0L852.7 353.5L847.0 355.4L839.4 355.7L831.7 353.5L824.1 351.9L814.5 351.2L803.1 351.2L791.6 351.5L782.1 353.1L772.5 355.4L763.0 357.3L753.5 360.1L745.8 364.0L738.2 365.9L730.5 367.8L724.8 367.2L719.1 366.8L716.2 365.3ZM824.1 319.5L827.0 319.1L831.7 322.0L837.5 326.7L843.2 333.4L848.9 340.1L853.7 345.8L850.8 345.8L845.1 341.0L839.4 336.3L833.6 332.5L829.8 327.7L826.0 322.9ZM820.7 308.6L823.1 309.5L823.7 315.3L821.8 314.9ZM841.7 376.0L843.6 375.4L847.0 380.2L852.7 385.0L859.4 387.4L863.8 388.2L863.2 390.1L858.5 389.7L851.8 387.4L846.0 383.0L842.2 378.3ZM869.9 388.8L872.8 385.5L873.7 386.9L871.2 390.7ZM882.9 366.8L886.1 364.0L891.9 362.0L902.4 361.5L902.4 369.7L891.9 371.6L886.1 373.1L883.3 372.5ZM240.5 364.9L244.3 364.4L252.9 364.0L262.5 364.0L272.0 364.4L278.7 364.0L283.5 365.3L286.3 360.5L288.2 354.8L289.6 351.4L292.6 351.4L292.0 356.7L290.1 364.4L287.3 371.0L283.5 377.7L279.3 384.4L275.8 387.3L274.3 386.3L276.8 381.5L278.7 377.7L275.8 377.7L272.0 380.0L268.2 378.7L264.4 378.7L264.4 375.8L268.2 373.9L271.0 373.0L266.3 371.0L258.6 369.1L251.0 367.2L244.3 366.3ZM335.4 380.0L338.8 379.3L344.5 378.7L349.3 377.3L356.0 376.8L363.6 374.9L370.3 373.5L373.2 374.3L372.2 377.3L367.5 379.6L361.7 381.5L354.1 383.8L348.4 384.4L342.6 384.4L337.9 382.5ZM382.7 369.1L385.6 366.3L388.5 362.5L390.4 358.6L392.3 356.3L398.0 355.2L402.8 353.5L403.3 355.8L399.9 358.6L396.1 361.5L392.3 364.0L388.5 367.2L384.6 370.1ZM456.5 352.9L461.3 352.5L470.7 351.7L480.2 350.8L487.3 348.4L491.5 346.5L496.7 348.9L503.8 351.7L513.3 355.5L522.7 359.5L534.5 362.6L544.0 365.0L553.4 366.6L562.9 369.0L572.4 370.2L579.4 369.0L583.0 367.8L584.2 370.2L580.6 373.0L574.7 375.4L567.6 375.4L558.2 373.7L548.7 371.4L539.3 369.7L529.8 369.0L522.7 368.3L513.3 365.0L503.8 360.3L496.7 356.0L489.6 353.6L480.2 356.5L473.1 358.4L466.0 357.2L460.1 355.5ZM614.9 381.5L619.6 382.5L626.7 384.4L633.8 386.7L640.9 387.9L648.0 385.5L653.9 382.5L659.8 381.5L666.9 382.5L671.6 380.1L672.8 383.2L669.3 386.7L662.2 389.1L652.7 391.0L643.3 392.6L637.4 393.3L631.4 390.3L624.4 386.7L617.3 384.8ZM603.6 372.1L605.9 369.7L607.8 371.4L605.4 374.4ZM397.4 505.8L402.4 506.4L407.9 511.9L413.4 520.7L418.8 531.6L423.2 542.6L426.5 555.7L429.3 571.0L431.5 586.3L433.1 603.9L433.7 619.2L433.1 634.5L432.0 649.8L429.8 665.2L427.1 680.5L423.2 695.8L418.8 709.0L416.3 718.6L411.1 734.0L406.0 746.9L399.6 759.7L393.1 771.3L385.4 782.9L377.7 795.7L370.0 807.3L362.3 817.6L358.4 821.9L357.1 820.1L359.7 813.7L362.3 807.3L367.4 803.4L371.3 797.0L376.4 791.9L381.6 782.9L385.4 775.1L390.6 766.1L394.4 757.1L399.6 749.4L402.1 741.7L402.9 731.4L406.0 726.3L403.4 718.6L405.7 717.7L403.5 715.5L407.9 711.2L406.8 704.6L412.3 700.2L415.5 693.6L417.7 684.9L419.9 676.1L421.0 669.5L423.2 660.8L418.8 658.6L417.7 655.3L422.1 652.0L424.3 645.5L425.4 636.7L424.3 630.1L426.5 621.4L427.6 612.6L425.4 606.0L424.3 597.3L421.0 592.9L422.8 586.3L419.3 582.0L421.0 575.4L419.9 566.6L418.4 557.9L418.8 551.3L415.5 544.7L414.4 537.1L410.1 529.4L405.7 520.7L401.3 514.1L397.4 508.6ZM369.6 660.8L372.8 656.4L378.3 650.9L383.8 645.5L389.3 638.9L393.6 632.3L396.5 629.7L400.2 631.2L401.3 636.7L401.7 643.3L399.1 648.7L396.5 650.9L395.8 646.6L397.4 641.1L396.5 636.7L393.6 638.9L391.5 644.4L387.1 648.7L383.8 652.0L383.8 656.4L379.4 656.4L375.0 659.7L371.7 663.0ZM397.4 665.2L400.2 661.9L404.6 658.6L406.8 659.7L407.9 665.2L408.3 671.7L405.7 672.2L405.3 666.3L402.4 664.1L399.6 667.8ZM337.1 718.6L338.6 705.7L339.7 694.1L341.7 692.9L343.0 696.7L346.3 699.3L344.3 702.6L341.7 703.1L341.2 710.9L339.7 719.9ZM337.9 846.6L340.4 840.7L344.3 836.9L349.4 833.0L352.5 832.2L350.7 836.9L345.6 842.0L341.7 845.9L338.6 847.7ZM270.0 936.0L276.5 932.0L282.3 922.5L288.0 911.0L293.8 903.4L299.5 897.6L304.5 896.9L303.4 900.7L297.6 905.3L291.9 912.9L286.2 924.4L280.5 932.0L274.7 936.6L271.0 937.7ZM217.3 419.8L221.9 419.0L225.0 422.9L224.2 428.2L220.4 430.5L216.6 432.8L215.8 435.8L212.0 438.1L209.0 439.9L207.4 436.6L209.7 434.3L212.5 431.2L214.3 426.7L215.8 422.9ZM200.3 427.7L202.4 427.4L206.7 432.0L207.4 434.3L205.4 433.8L202.1 430.5ZM196.0 445.7L199.8 445.0L201.3 439.9L205.1 439.3L209.0 441.9L209.4 445.0L206.7 448.5L203.6 449.5L201.3 451.8L199.0 455.6L197.5 453.3L195.7 448.8ZM188.4 451.8L190.7 453.3L189.9 458.7L188.4 464.0L188.1 469.3L191.4 472.4L195.2 470.9L198.3 468.9L199.8 472.4L199.8 479.2L200.9 483.0L202.4 487.6L203.3 493.0L201.8 497.5L200.9 503.6L205.1 499.0L209.7 491.4L211.2 493.0L212.0 499.0L215.8 499.8L218.1 494.5L219.6 497.5L225.0 497.2L229.5 498.3L230.3 501.3L226.5 502.9L220.4 503.6L218.9 506.7L219.2 513.5L215.8 515.8L212.0 516.1L209.7 519.6L210.5 523.4L208.2 528.0L205.9 533.3L203.6 529.5L205.1 524.2L206.7 520.4L203.6 521.9L201.3 520.4L203.6 517.3L199.0 518.9L196.8 521.9L197.5 527.2L200.6 531.8L203.6 535.6L205.1 539.4L209.7 541.7L213.5 546.3L212.0 548.6L206.7 550.1L205.1 553.9L202.1 556.2L200.6 550.9L199.8 546.3L196.0 547.0L195.2 543.2L197.5 539.4L200.6 537.1L197.5 532.6L194.5 526.5L191.4 521.9L192.2 517.3L189.9 513.5L191.4 509.0L193.7 505.1L191.4 503.6L190.7 499.0L193.0 494.5L195.2 491.4L194.5 488.4L189.9 491.4L187.6 489.9L186.9 494.5L184.6 500.6L179.2 499.0L174.7 499.0L170.1 500.6L167.0 505.1L165.5 509.7L165.5 514.3L168.6 517.3L171.6 512.8L174.7 509.0L177.7 505.9L180.8 506.7L179.2 511.2L176.2 515.8L173.1 520.4L170.9 524.2L172.4 529.5L171.6 532.6L169.3 530.3L167.8 525.0L165.5 520.4L163.2 515.8L162.5 509.7L161.7 503.6L158.7 500.6L156.4 502.1L154.1 505.1L155.6 509.7L158.7 513.5L158.7 518.1L154.9 518.1L151.8 515.8L150.3 512.8L147.2 509.7L144.2 508.2L141.9 511.2L141.1 515.8L139.6 520.4L137.3 518.9L135.8 515.0L133.5 512.8L135.8 509.0L138.9 506.7L135.0 505.9L130.5 506.7L126.7 508.2L124.4 506.7L127.4 504.4L132.0 502.1L137.3 500.6L141.9 499.0L145.7 497.5L148.8 493.0L150.3 489.1L152.6 491.4L154.1 485.3L154.9 479.2L155.6 475.4L157.6 476.2L157.6 482.3L157.1 488.4L160.2 489.9L161.7 486.9L161.0 483.0L163.2 480.0L166.3 481.5L167.0 485.3L169.3 486.9L171.6 483.0L169.3 479.2L165.5 476.2L161.7 473.9L159.4 472.8L164.0 470.1L168.6 467.0L173.1 463.2L177.7 460.2L182.3 457.1L185.3 454.9ZM99.2 507.4L106.9 506.7L113.7 506.7L116.0 509.0L115.2 512.8L113.0 515.8L114.5 519.6L115.2 523.4L110.7 522.7L106.9 521.9L104.6 525.0L99.2 525.3ZM221.1 521.9L224.2 518.1L228.8 513.5L231.4 513.5L229.5 517.3L225.7 521.9L222.7 525.0ZM109.9 537.1L114.5 536.4L116.0 540.2L121.3 542.5L125.1 544.8L126.7 548.6L122.9 548.1L119.0 545.5L115.2 544.8L112.2 547.0L109.4 543.2ZM141.9 545.5L145.0 544.8L147.5 547.0L146.5 549.0L143.4 548.6ZM132.0 554.5L135.8 553.7L136.6 558.3L135.8 562.9L138.1 566.7L136.6 569.7L132.8 569.0L130.5 572.0L128.2 570.5L129.0 566.7L131.2 564.4L132.3 559.0ZM117.5 565.1L121.3 563.6L124.4 568.2L128.2 570.5L126.7 575.0L127.4 580.4L125.1 585.0L122.9 588.8L122.1 596.4L120.6 592.6L119.8 588.8L117.5 588.0L119.0 582.7L120.6 578.1L119.0 573.5L116.8 569.0ZM99.2 580.4L106.9 579.9L109.1 576.6L112.2 576.6L111.9 581.1L109.9 585.0L106.1 585.7L99.2 584.2ZM99.2 590.3L101.5 590.3L104.6 592.6L108.4 597.9L110.7 604.0L111.4 611.6L112.2 619.2L113.7 625.3L116.0 631.4L116.8 637.5L113.0 636.0L110.7 632.2L108.4 637.5L107.6 641.3L112.2 641.3L116.8 639.0L120.6 639.8L122.9 636.0L125.9 631.4L127.4 626.9L126.7 622.3L129.7 620.0L134.3 620.8L138.1 623.0L137.3 627.6L134.3 631.4L132.0 636.0L129.7 640.6L127.4 645.1L124.4 646.7L125.1 649.7L130.5 649.0L135.0 646.7L137.3 651.2L141.1 653.5L145.7 652.0L148.8 649.0L149.5 645.1L153.3 644.4L159.4 645.9L164.0 646.7L167.8 645.1L169.3 648.2L172.4 649.7L177.0 648.2L179.2 652.0L183.0 651.2L184.6 655.8L180.8 658.1L177.0 657.3L173.9 654.3L170.9 655.8L173.1 660.4L174.7 665.0L173.9 669.5L170.9 670.3L167.8 668.0L165.5 671.0L162.5 669.5L164.8 665.7L167.0 662.7L164.0 660.4L161.0 661.9L160.2 658.9L154.9 658.1L150.3 659.6L147.2 663.4L142.7 666.5L138.9 668.0L138.1 672.6L141.1 674.1L145.0 672.6L145.7 677.1L144.2 681.7L147.2 686.3L151.0 690.1L153.3 693.9L152.6 698.5L149.5 697.0L147.2 692.4L144.2 689.3L141.9 692.4L138.1 692.4L136.6 687.8L138.9 684.8L136.6 681.7L132.8 680.2L132.0 676.4L135.0 674.1L134.3 669.5L131.2 667.2L132.8 663.4L130.5 661.1L126.7 661.9L125.1 666.5L122.9 671.0L119.0 672.6L113.7 674.9L109.1 677.1L106.1 680.2L102.3 683.2L99.2 684.0ZM138.9 617.7L141.1 613.9L145.7 611.6L148.8 607.0L152.6 601.0L156.4 593.3L159.4 585.7L161.0 580.4L164.0 575.0L167.0 570.5L170.1 565.9L170.9 559.8L170.1 555.2L173.1 554.5L175.9 556.0L174.7 561.3L173.1 567.4L172.8 573.5L170.9 578.1L168.6 582.7L169.3 587.2L167.0 591.8L163.2 594.1L159.4 596.4L157.9 601.0L154.9 605.5L151.8 609.3L148.8 613.1L145.7 617.7L142.7 621.5L139.3 621.5ZM145.0 626.9L147.2 623.8L151.8 620.8L155.6 616.2L159.4 613.1L162.5 609.3L164.0 604.8L167.8 601.7L171.6 598.7L174.7 594.9L178.5 592.6L181.5 588.8L184.6 585.7L186.1 592.6L193.0 591.8L197.5 589.5L195.2 592.6L192.2 596.4L193.0 601.0L196.0 605.5L195.2 609.3L192.2 606.3L187.6 605.5L184.6 607.0L180.8 605.5L177.0 604.8L173.1 606.3L170.1 608.6L167.0 611.6L164.0 614.7L160.2 617.0L157.9 619.2L158.7 623.8L161.0 624.6L162.5 626.9L159.4 629.9L156.4 632.2L153.3 633.0L151.8 629.9L154.1 627.6L156.4 623.8L153.3 624.6L150.3 626.9L147.2 629.9L145.0 629.6ZM176.2 565.9L179.2 562.9L180.8 556.8L182.3 552.2L184.6 551.4L184.6 572.0L182.3 576.6L180.0 575.8L180.5 571.2L178.5 568.2ZM186.9 582.7L189.9 580.4L193.7 576.6L195.2 572.8L194.5 569.7L197.5 569.7L200.6 573.5L199.8 578.1L196.8 578.9L193.7 581.9L190.7 585.0L187.6 587.2ZM196.8 565.1L199.8 561.3L202.9 562.1L204.4 565.9L201.3 567.4L198.3 567.1ZM209.0 581.1L213.5 579.6L218.1 580.8L220.4 583.4L217.3 585.7L213.5 586.9L210.5 585.0ZM205.9 595.6L209.7 596.1L213.5 598.7L214.3 602.5L212.8 606.3L209.0 607.0L208.5 604.8L211.2 603.2L210.9 600.2L207.4 598.7ZM197.5 635.2L201.3 632.6L206.7 631.4L212.8 631.4L215.5 633.0L213.5 635.2L209.0 636.0L206.7 638.3L203.6 636.8L199.8 637.5ZM177.0 639.0L180.0 640.6L183.0 642.1L188.4 641.3L192.2 639.8L193.0 643.6L191.4 648.2L187.6 649.7L183.8 649.0L181.5 646.7L179.2 643.6ZM174.7 613.1L179.2 612.4L183.0 613.1L183.5 616.2L179.2 617.0L175.4 615.4ZM133.5 578.9L137.3 578.1L138.9 581.9L136.6 584.2L133.8 582.7ZM140.4 585.0L144.2 584.2L146.5 587.2L145.7 591.8L141.9 593.3L140.4 589.5ZM145.7 576.6L148.8 575.0L151.8 575.8L150.3 578.9L147.2 580.4ZM120.6 603.2L122.9 601.7L125.9 602.5L127.4 607.0L126.7 612.4L124.4 615.4L122.1 613.1L121.0 608.6ZM156.4 552.2L161.0 550.7L164.8 552.2L164.0 555.2L160.2 556.8L157.1 556.0ZM149.5 674.1L152.6 672.6L155.6 675.6L157.9 681.7L156.4 686.3L154.1 684.0L151.8 679.4ZM173.1 690.9L176.2 687.0L182.3 685.5L188.4 686.3L191.4 690.1L188.4 693.1L182.3 694.7L176.2 695.4L173.1 693.9ZM151.8 631.4L154.1 630.7L154.9 633.7L152.6 635.2ZM99.2 701.3L106.1 702.9L112.2 705.9L118.3 708.2L122.9 709.7L126.7 710.5L130.5 709.7L134.3 713.5L136.6 718.1L140.4 722.7L144.2 720.4L148.8 719.6L151.8 715.8L152.6 711.2L156.4 709.0L161.0 708.2L164.8 705.9L167.8 703.6L170.4 703.6L170.9 708.2L173.1 710.5L174.4 712.8L171.6 714.3L169.3 712.0L167.0 709.7L163.2 712.0L160.2 715.8L158.7 719.6L161.0 721.1L164.8 720.4L167.0 723.4L164.0 725.7L163.2 729.5L164.8 734.1L167.8 737.9L170.9 739.4L173.1 741.0L173.4 744.0L170.9 743.2L168.6 740.2L164.0 741.0L159.4 743.2L154.1 745.2L151.0 742.5L147.2 741.0L145.7 736.4L142.7 732.6L138.9 728.8L135.0 725.0L132.0 724.2L128.2 725.7L122.9 725.7L119.0 728.8L116.0 726.5L113.0 723.4L110.7 719.6L106.1 718.9L99.2 719.6ZM99.2 690.7L103.0 689.1L106.9 688.4L109.9 691.4L113.7 689.1L118.3 687.6L122.1 688.4L124.4 692.2L128.2 693.7L131.2 695.2L132.8 699.8L129.7 700.6L125.1 699.0L122.9 701.3L118.3 702.9L113.7 702.1L109.1 699.8L105.3 697.5L99.2 696.8ZM99.2 680.0L106.1 680.8L108.4 684.6L106.9 688.4L103.0 689.1L99.2 688.4ZM132.8 680.0L138.1 680.0L142.7 681.5L147.2 680.0L150.3 684.6L151.8 689.1L153.6 693.7L153.3 698.3L150.3 696.8L148.8 692.2L145.7 693.0L143.4 690.7L140.4 693.0L137.3 692.2L138.1 688.4L135.8 684.6ZM154.9 680.0L158.7 680.0L157.9 684.6L155.6 687.6L154.1 685.3ZM113.0 751.6L118.3 751.3L122.9 751.6L126.7 753.1L129.7 756.2L128.2 760.8L125.1 762.3L121.3 759.2L119.0 757.0L116.0 757.7L113.7 755.4ZM113.0 760.8L116.0 759.2L118.3 760.8L116.8 763.5L113.4 763.5ZM174.4 751.6L177.0 751.3L177.7 756.2L179.2 762.3L179.5 768.4L177.0 767.6L174.7 764.6L173.9 759.2ZM99.2 796.6L103.8 797.3L105.3 801.1L107.6 804.2L106.1 805.7L103.0 804.2L99.2 801.9Z" fill="#116b25" stroke="#000" stroke-width="1.3" stroke-linejoin="round"/><path d="M180.0 478.5L183.8 478.5L184.6 485.3L182.3 489.9L179.2 486.9L178.9 482.3ZM192.2 480.0L196.8 480.0L197.5 483.8L195.2 487.6L192.2 486.1ZM102.3 513.5L106.1 513.5L106.9 518.1L103.0 520.4ZM121.3 645.9L125.1 646.7L124.4 650.0L121.0 649.7ZM154.1 658.9L159.7 658.9L159.7 663.1L154.1 663.1ZM109.9 671.8L116.8 669.2L122.1 670.3L115.2 674.4Z" fill="#828282" stroke="#000" stroke-width="1.3" stroke-linejoin="round"/><circle cx="382.9" cy="212.4" r="1.8" fill="#116b25" stroke="#000" stroke-width="1.1"/><circle cx="393.3" cy="213.5" r="1.5" fill="#116b25" stroke="#000" stroke-width="1.1"/><circle cx="398.7" cy="217.3" r="2.0" fill="#116b25" stroke="#000" stroke-width="1.1"/><circle cx="368.5" cy="667.8" r="1.3" fill="#116b25" stroke="#000" stroke-width="1.1"/><circle cx="392.6" cy="663.4" r="1.0" fill="#116b25" stroke="#000" stroke-width="1.1"/><circle cx="341.7" cy="685.7" r="1.2" fill="#116b25" stroke="#000" stroke-width="1.1"/><circle cx="354.1" cy="821.4" r="1.2" fill="#116b25" stroke="#000" stroke-width="1.1"/><circle cx="354.6" cy="828.6" r="1.0" fill="#116b25" stroke="#000" stroke-width="1.1"/><circle cx="332.5" cy="852.3" r="1.6" fill="#116b25" stroke="#000" stroke-width="1.1"/><circle cx="213.5" cy="460.2" r="1.0" fill="#116b25" stroke="#000" stroke-width="1.1"/><circle cx="227.7" cy="457.1" r="1.0" fill="#116b25" stroke="#000" stroke-width="1.1"/><circle cx="205.1" cy="477.4" r="1.2" fill="#116b25" stroke="#000" stroke-width="1.1"/><circle cx="155.6" cy="542.9" r="1.2" fill="#116b25" stroke="#000" stroke-width="1.1"/><circle cx="174.4" cy="541.0" r="1.4" fill="#116b25" stroke="#000" stroke-width="1.1"/><circle cx="162.5" cy="546.6" r="1.2" fill="#116b25" stroke="#000" stroke-width="1.1"/><circle cx="152.6" cy="547.5" r="1.0" fill="#116b25" stroke="#000" stroke-width="1.1"/><circle cx="148.0" cy="520.4" r="1.2" fill="#116b25" stroke="#000" stroke-width="1.1"/><circle cx="157.9" cy="520.4" r="1.0" fill="#116b25" stroke="#000" stroke-width="1.1"/><circle cx="181.5" cy="512.5" r="1.0" fill="#116b25" stroke="#000" stroke-width="1.1"/><circle cx="132.3" cy="512.5" r="1.0" fill="#116b25" stroke="#000" stroke-width="1.1"/><circle cx="148.8" cy="524.2" r="1.4" fill="#116b25" stroke="#000" stroke-width="1.1"/><circle cx="145.0" cy="512.0" r="1.8" fill="#116b25" stroke="#000" stroke-width="1.1"/><circle cx="154.1" cy="507.4" r="1.5" fill="#116b25" stroke="#000" stroke-width="1.1"/><circle cx="226.5" cy="582.7" r="1.1" fill="#116b25" stroke="#000" stroke-width="1.1"/><circle cx="228.8" cy="626.1" r="1.5" fill="#116b25" stroke="#000" stroke-width="1.1"/><circle cx="192.2" cy="635.7" r="1.2" fill="#116b25" stroke="#000" stroke-width="1.1"/><circle cx="112.2" cy="601.4" r="1.0" fill="#116b25" stroke="#000" stroke-width="1.1"/><circle cx="131.2" cy="610.9" r="1.3" fill="#116b25" stroke="#000" stroke-width="1.1"/><circle cx="165.5" cy="674.1" r="1.0" fill="#116b25" stroke="#000" stroke-width="1.1"/>
<!--ARROWS-->
<path d="M552.4 552.3L560.4 545.4L566.8 560.0ZM610.0 551.9L618.6 545.7L622.0 560.9ZM666.1 548.5L676.1 544.5L677.0 560.0ZM721.9 548.5L731.4 544.0L733.1 559.5ZM778.6 548.0L788.4 543.3L790.7 558.3ZM835.6 547.4L851.8 546.2L839.7 556.1ZM894.6 554.0L899.0 539.3L902.0 554.9ZM552.1 632.3L562.1 627.9L563.0 644.2ZM606.5 633.1L616.9 630.0L616.5 645.9ZM667.5 628.3L677.0 632.6L666.6 644.7ZM720.2 635.5L731.4 625.2L736.1 634.3ZM780.6 627.4L791.0 625.2L789.6 640.7ZM836.8 631.7L843.7 624.5L852.3 638.6ZM552.1 711.4L562.8 711.4L556.8 726.6ZM607.0 719.2L616.0 720.9L608.8 734.4ZM658.3 711.8L673.9 708.0L673.0 718.3ZM725.4 706.7L739.7 699.8L731.4 713.1ZM782.7 715.4L789.6 709.2L796.2 723.5ZM838.0 709.7L848.0 710.2L842.3 724.7ZM552.1 790.9L562.1 791.7L555.9 805.6ZM607.9 796.6L612.6 786.9L623.3 798.3ZM669.2 779.6L680.8 769.3L678.7 784.8ZM729.7 780.5L744.7 777.4L735.7 789.1ZM786.7 798.6L794.5 793.8L799.6 808.1ZM836.4 794.3L847.1 793.5L843.7 808.1ZM894.6 790.9L902.0 790.9L899.8 805.6ZM553.0 870.2L561.1 875.4L549.0 885.3ZM611.3 864.5L627.6 864.2L616.0 873.7ZM675.1 861.1L689.9 856.1L682.0 869.4ZM728.0 860.4L741.3 852.1L736.6 866.8ZM778.9 871.4L788.9 870.2L786.2 885.8ZM836.3 876.6L847.1 877.1L840.2 891.5ZM618.1 934.7L632.9 928.4L625.9 941.6ZM721.9 952.0L734.9 939.3L732.3 952.0Z" fill="#000" stroke="#000" stroke-width="0.6" stroke-linejoin="round"/><path d="M612.6 712.3L611.7 720.0M675.6 782.2L672.1 788.8M732.3 785.7L728.8 789.7M786.7 790.4L790.7 796.6M842.5 790.4L842.3 794.3M678.2 865.6L672.1 869.0M733.1 863.3L729.2 868.5M842.5 871.1L842.0 877.1M623.8 938.5L618.6 943.6L615.5 948.8" fill="none" stroke="#000" stroke-width="1.8"/>
<path d="M186.1 150.35 V949.9 M328.9 150.35 V949.9 M471.7 150.35 V949.9 M614.6 150.35 V949.9 M757.4 150.35 V949.9 M100.4 350.2 H900.2 M100.4 550.1 H900.2 M100.4 750.0 H900.2" stroke="#fff" stroke-opacity="0.6" stroke-width="1.9" fill="none"/>
<!--MARKERS-->
<circle cx="282.9" cy="341.1" r="6.0" fill="#fff" stroke="#000" stroke-width="2.2"/><circle cx="445.0" cy="489.5" r="6.0" fill="#fff" stroke="#000" stroke-width="2.2"/><circle cx="566.6" cy="488.3" r="6.0" fill="#fff" stroke="#000" stroke-width="2.2"/><path d="M142.3 282.6L148.4 288.7L142.3 294.8L136.2 288.7Z" fill="#ffff14" stroke="#000" stroke-width="2.3"/><path d="M578.2 249.5L584.3 255.6L578.2 261.7L572.1 255.6Z" fill="#ffff14" stroke="#000" stroke-width="2.3"/><path d="M659.8 256.8L665.9 262.9L659.8 269.0L653.7 262.9Z" fill="#ffff14" stroke="#000" stroke-width="2.3"/><path d="M819.7 297.3L825.8 303.4L819.7 309.5L813.6 303.4Z" fill="#ffff14" stroke="#000" stroke-width="2.3"/><path d="M778.3 337.4L784.4 343.5L778.3 349.6L772.2 343.5Z" fill="#ffff14" stroke="#000" stroke-width="2.3"/><path d="M856.9 343.9L863.0 350.0L856.9 356.1L850.8 350.0Z" fill="#ffff14" stroke="#000" stroke-width="2.3"/><path d="M611.4 374.2L617.5 380.3L611.4 386.4L605.3 380.3Z" fill="#ffff14" stroke="#000" stroke-width="2.3"/>
</g>
<rect x="100.4" y="150.35" width="799.8000000000001" height="799.55" fill="none" stroke="#000" stroke-width="2.7"/>
<path d="M99.90 150.35 v-4.3 M99.90 949.9 v3.9 M114.18 150.35 v-4.3 M114.18 949.9 v3.9 M128.46 150.35 v-4.3 M128.46 949.9 v3.9 M142.75 150.35 v-4.3 M142.75 949.9 v3.9 M157.03 150.35 v-4.3 M157.03 949.9 v3.9 M171.31 150.35 v-4.3 M171.31 949.9 v3.9 M185.59 150.35 v-8.2 M185.59 949.9 v7.799999999999999 M199.88 150.35 v-4.3 M199.88 949.9 v3.9 M214.16 150.35 v-4.3 M214.16 949.9 v3.9 M228.44 150.35 v-4.3 M228.44 949.9 v3.9 M242.72 150.35 v-4.3 M242.72 949.9 v3.9 M257.00 150.35 v-4.3 M257.00 949.9 v3.9 M271.29 150.35 v-4.3 M271.29 949.9 v3.9 M285.57 150.35 v-4.3 M285.57 949.9 v3.9 M299.85 150.35 v-4.3 M299.85 949.9 v3.9 M314.13 150.35 v-4.3 M314.13 949.9 v3.9 M328.41 150.35 v-8.2 M328.41 949.9 v7.799999999999999 M342.70 150.35 v-4.3 M342.70 949.9 v3.9 M356.98 150.35 v-4.3 M356.98 949.9 v3.9 M371.26 150.35 v-4.3 M371.26 949.9 v3.9 M385.54 150.35 v-4.3 M385.54 949.9 v3.9 M399.83 150.35 v-4.3 M399.83 949.9 v3.9 M414.11 150.35 v-4.3 M414.11 949.9 v3.9 M428.39 150.35 v-4.3 M428.39 949.9 v3.9 M442.67 150.35 v-4.3 M442.67 949.9 v3.9 M456.95 150.35 v-4.3 M456.95 949.9 v3.9 M471.24 150.35 v-8.2 M471.24 949.9 v7.799999999999999 M485.52 150.35 v-4.3 M485.52 949.9 v3.9 M499.80 150.35 v-4.3 M499.80 949.9 v3.9 M514.08 150.35 v-4.3 M514.08 949.9 v3.9 M528.36 150.35 v-4.3 M528.36 949.9 v3.9 M542.65 150.35 v-4.3 M542.65 949.9 v3.9 M556.93 150.35 v-4.3 M556.93 949.9 v3.9 M571.21 150.35 v-4.3 M571.21 949.9 v3.9 M585.49 150.35 v-4.3 M585.49 949.9 v3.9 M599.77 150.35 v-4.3 M599.77 949.9 v3.9 M614.06 150.35 v-8.2 M614.06 949.9 v7.799999999999999 M628.34 150.35 v-4.3 M628.34 949.9 v3.9 M642.62 150.35 v-4.3 M642.62 949.9 v3.9 M656.90 150.35 v-4.3 M656.90 949.9 v3.9 M671.19 150.35 v-4.3 M671.19 949.9 v3.9 M685.47 150.35 v-4.3 M685.47 949.9 v3.9 M699.75 150.35 v-4.3 M699.75 949.9 v3.9 M714.03 150.35 v-4.3 M714.03 949.9 v3.9 M728.31 150.35 v-4.3 M728.31 949.9 v3.9 M742.60 150.35 v-4.3 M742.60 949.9 v3.9 M756.88 150.35 v-8.2 M756.88 949.9 v7.799999999999999 M771.16 150.35 v-4.3 M771.16 949.9 v3.9 M785.44 150.35 v-4.3 M785.44 949.9 v3.9 M799.73 150.35 v-4.3 M799.73 949.9 v3.9 M814.01 150.35 v-4.3 M814.01 949.9 v3.9 M828.29 150.35 v-4.3 M828.29 949.9 v3.9 M842.57 150.35 v-4.3 M842.57 949.9 v3.9 M856.85 150.35 v-4.3 M856.85 949.9 v3.9 M871.14 150.35 v-4.3 M871.14 949.9 v3.9 M885.42 150.35 v-4.3 M885.42 949.9 v3.9 M899.70 150.35 v-8.2 M899.70 949.9 v7.799999999999999 M100.4 150.35 h-8.2 M900.2 150.35 h8.2 M100.4 170.34 h-4.3 M900.2 170.34 h4.3 M100.4 190.33 h-4.3 M900.2 190.33 h4.3 M100.4 210.32 h-4.3 M900.2 210.32 h4.3 M100.4 230.30 h-4.3 M900.2 230.30 h4.3 M100.4 250.29 h-4.3 M900.2 250.29 h4.3 M100.4 270.28 h-4.3 M900.2 270.28 h4.3 M100.4 290.27 h-4.3 M900.2 290.27 h4.3 M100.4 310.26 h-4.3 M900.2 310.26 h4.3 M100.4 330.25 h-4.3 M900.2 330.25 h4.3 M100.4 350.24 h-8.2 M900.2 350.24 h8.2 M100.4 370.23 h-4.3 M900.2 370.23 h4.3 M100.4 390.21 h-4.3 M900.2 390.21 h4.3 M100.4 410.20 h-4.3 M900.2 410.20 h4.3 M100.4 430.19 h-4.3 M900.2 430.19 h4.3 M100.4 450.18 h-4.3 M900.2 450.18 h4.3 M100.4 470.17 h-4.3 M900.2 470.17 h4.3 M100.4 490.16 h-4.3 M900.2 490.16 h4.3 M100.4 510.15 h-4.3 M900.2 510.15 h4.3 M100.4 530.14 h-4.3 M900.2 530.14 h4.3 M100.4 550.12 h-8.2 M900.2 550.12 h8.2 M100.4 570.11 h-4.3 M900.2 570.11 h4.3 M100.4 590.10 h-4.3 M900.2 590.10 h4.3 M100.4 610.09 h-4.3 M900.2 610.09 h4.3 M100.4 630.08 h-4.3 M900.2 630.08 h4.3 M100.4 650.07 h-4.3 M900.2 650.07 h4.3 M100.4 670.06 h-4.3 M900.2 670.06 h4.3 M100.4 690.05 h-4.3 M900.2 690.05 h4.3 M100.4 710.03 h-4.3 M900.2 710.03 h4.3 M100.4 730.02 h-4.3 M900.2 730.02 h4.3 M100.4 750.01 h-8.2 M900.2 750.01 h8.2 M100.4 770.00 h-4.3 M900.2 770.00 h4.3 M100.4 789.99 h-4.3 M900.2 789.99 h4.3 M100.4 809.98 h-4.3 M900.2 809.98 h4.3 M100.4 829.97 h-4.3 M900.2 829.97 h4.3 M100.4 849.96 h-4.3 M900.2 849.96 h4.3 M100.4 869.94 h-4.3 M900.2 869.94 h4.3 M100.4 889.93 h-4.3 M900.2 889.93 h4.3 M100.4 909.92 h-4.3 M900.2 909.92 h4.3 M100.4 929.91 h-4.3 M900.2 929.91 h4.3 M100.4 949.90 h-8.2 M900.2 949.90 h8.2" stroke="#000" stroke-width="1.05" fill="none"/>
<text x="185.4" y="134.9" font-size="11.1" letter-spacing="-0.2" text-anchor="middle">−89°15'</text>
<text x="185.4" y="972.7" font-size="11.1" letter-spacing="-0.2" text-anchor="middle">−89°15'</text>
<text x="328.2" y="134.9" font-size="11.1" letter-spacing="-0.2" text-anchor="middle">−89°00'</text>
<text x="328.2" y="972.7" font-size="11.1" letter-spacing="-0.2" text-anchor="middle">−89°00'</text>
<text x="471.0" y="134.9" font-size="11.1" letter-spacing="-0.2" text-anchor="middle">−88°45'</text>
<text x="471.0" y="972.7" font-size="11.1" letter-spacing="-0.2" text-anchor="middle">−88°45'</text>
<text x="613.9" y="134.9" font-size="11.1" letter-spacing="-0.2" text-anchor="middle">−88°30'</text>
<text x="613.9" y="972.7" font-size="11.1" letter-spacing="-0.2" text-anchor="middle">−88°30'</text>
<text x="756.7" y="134.9" font-size="11.1" letter-spacing="-0.2" text-anchor="middle">−88°15'</text>
<text x="756.7" y="972.7" font-size="11.1" letter-spacing="-0.2" text-anchor="middle">−88°15'</text>
<text x="899.5" y="134.9" font-size="11.1" letter-spacing="-0.2" text-anchor="middle">−88°00'</text>
<text x="899.5" y="972.7" font-size="11.1" letter-spacing="-0.2" text-anchor="middle">−88°00'</text>
<text x="85.4" y="154.2" font-size="11.1" letter-spacing="-0.2" text-anchor="end">30°30'</text>
<text x="915.2" y="154.2" font-size="11.1" letter-spacing="-0.2">30°30'</text>
<text x="85.4" y="354.1" font-size="11.1" letter-spacing="-0.2" text-anchor="end">30°15'</text>
<text x="915.2" y="354.1" font-size="11.1" letter-spacing="-0.2">30°15'</text>
<text x="85.4" y="554.0" font-size="11.1" letter-spacing="-0.2" text-anchor="end">30°00'</text>
<text x="915.2" y="554.0" font-size="11.1" letter-spacing="-0.2">30°00'</text>
<text x="85.4" y="753.9" font-size="11.1" letter-spacing="-0.2" text-anchor="end">29°45'</text>
<text x="915.2" y="753.9" font-size="11.1" letter-spacing="-0.2">29°45'</text>
<text x="85.4" y="953.8" font-size="11.1" letter-spacing="-0.2" text-anchor="end">29°30'</text>
<text x="915.2" y="953.8" font-size="11.1" letter-spacing="-0.2">29°30'</text>
<rect x="980.2" y="400.0" width="20.2" height="300.0" fill="url(#turbo)"/>
<rect x="980.2" y="400.0" width="20.2" height="300.0" fill="none" stroke="#000" stroke-width="3"/>
<path d="M979.4000000000001 700.0 H1000.6999999999999 M981.6 670.0 H999.0 M981.6 640.0 H999.0 M981.6 610.0 H999.0 M981.6 580.0 H999.0 M981.6 550.0 H999.0 M981.6 520.0 H999.0 M981.6 490.0 H999.0 M981.6 460.0 H999.0 M981.6 430.0 H999.0 M979.4000000000001 400.0 H1000.6999999999999" stroke="#fff" stroke-opacity="0.6" stroke-width="1.8" fill="none"/>
<text x="1015.3" y="703.6" font-size="11.1" letter-spacing="-0.25">0.0</text>
<text x="1015.3" y="673.6" font-size="11.1" letter-spacing="-0.25">0.2</text>
<text x="1015.3" y="643.6" font-size="11.1" letter-spacing="-0.25">0.4</text>
<text x="1015.3" y="613.6" font-size="11.1" letter-spacing="-0.25">0.6</text>
<text x="1015.3" y="583.6" font-size="11.1" letter-spacing="-0.25">0.8</text>
<text x="1015.3" y="553.6" font-size="11.1" letter-spacing="-0.25">1.0</text>
<text x="1015.3" y="523.6" font-size="11.1" letter-spacing="-0.25">1.2</text>
<text x="1015.3" y="493.6" font-size="11.1" letter-spacing="-0.25">1.4</text>
<text x="1015.3" y="463.6" font-size="11.1" letter-spacing="-0.25">1.6</text>
<text x="1015.3" y="433.6" font-size="11.1" letter-spacing="-0.25">1.8</text>
<text x="1015.3" y="403.6" font-size="11.1" letter-spacing="-0.25">2.0</text>
<path d="M1001.8 700.0 H1008.2 M1001.8 670.0 H1008.2 M1001.8 640.0 H1008.2 M1001.8 610.0 H1008.2 M1001.8 580.0 H1008.2 M1001.8 550.0 H1008.2 M1001.8 520.0 H1008.2 M1001.8 490.0 H1008.2 M1001.8 460.0 H1008.2 M1001.8 430.0 H1008.2 M1001.8 400.0 H1008.2" stroke="#000" stroke-width="1.3" fill="none"/>
<text class="b" transform="translate(1057 550.4) rotate(-90)" font-size="13.8" text-anchor="middle">Speed (kt)</text>
</svg></body></html>
